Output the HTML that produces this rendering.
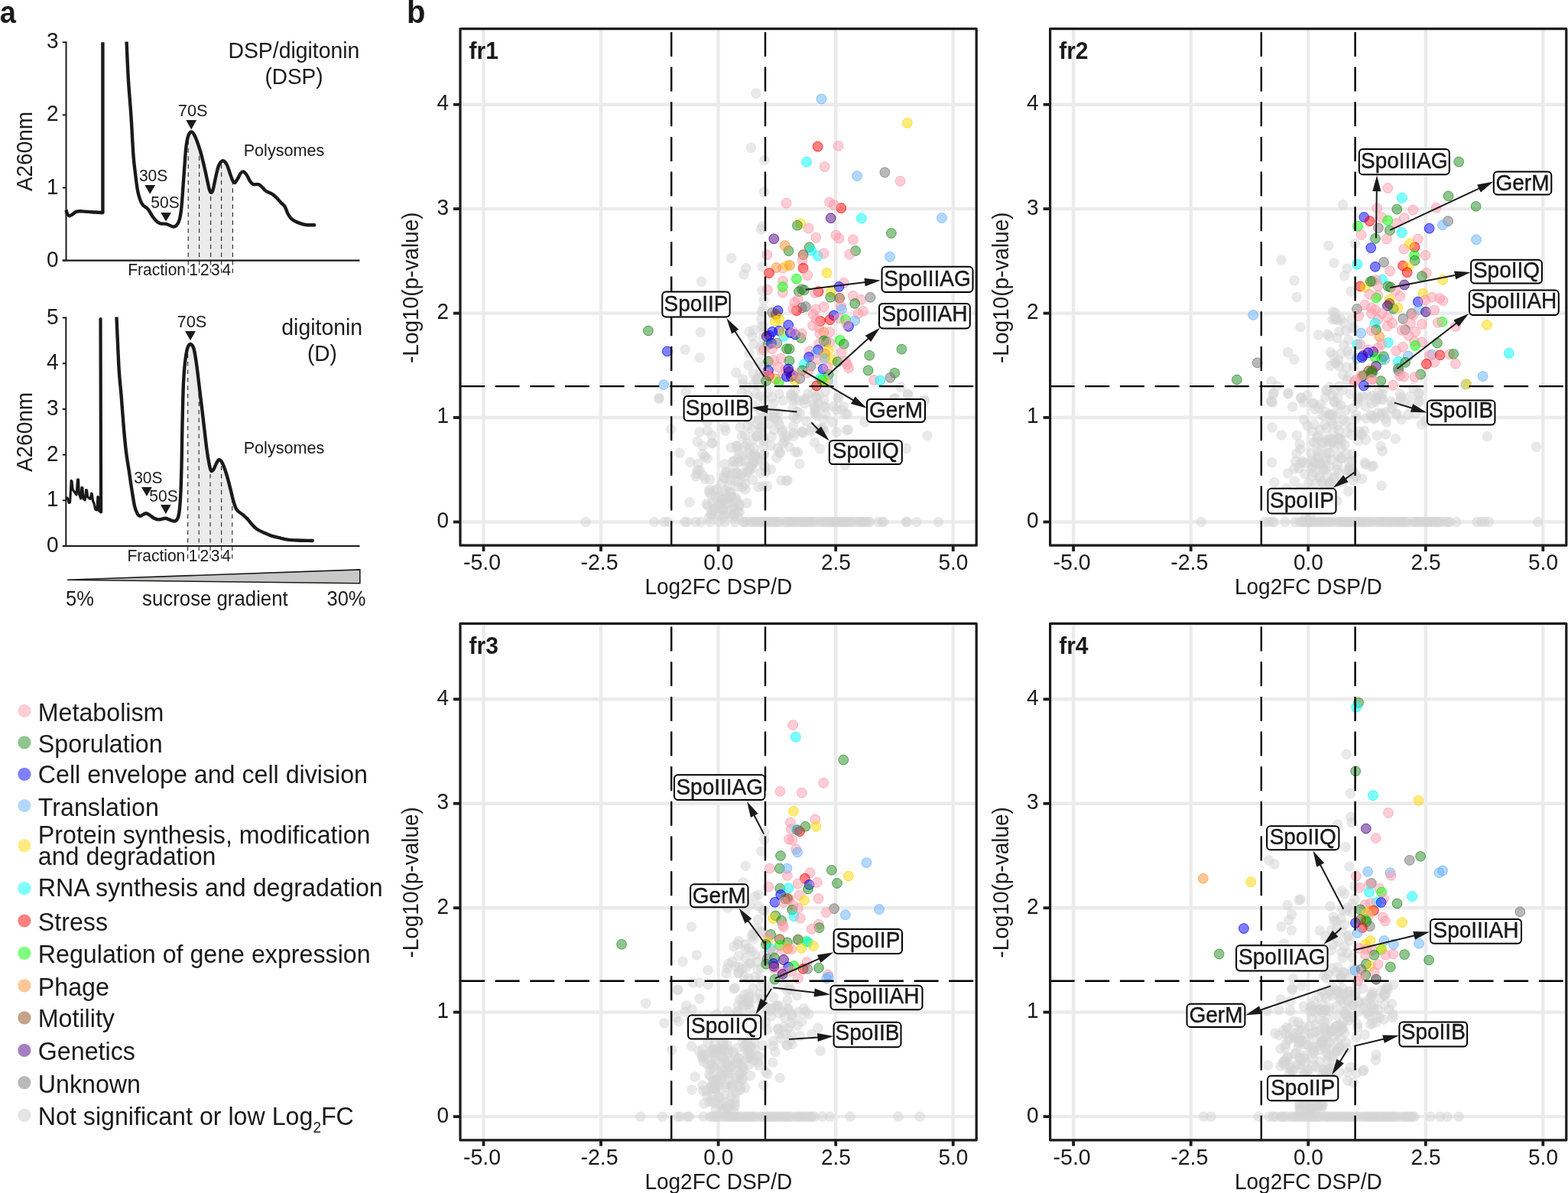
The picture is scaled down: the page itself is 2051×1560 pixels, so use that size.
<!DOCTYPE html>
<html lang="en"><head><meta charset="utf-8"><title>Figure</title>
<style>
html,body{margin:0;padding:0;background:#fff}
svg{display:block}
text{font-family:"Liberation Sans",Arial,Helvetica,sans-serif;fill:#1a1a1a}
circle{stroke-width:1px;fill-opacity:.5;stroke-opacity:.7}
circle.N{stroke-opacity:.3}
circle.P{fill:#ff9bab;stroke:#ff9bab}
circle.S{fill:#228b22;stroke:#228b22}
circle.B{fill:#0000ff;stroke:#0000ff}
circle.T{fill:#66b2ff;stroke:#66b2ff}
circle.G{fill:#ffd700;stroke:#ffd700}
circle.C{fill:#00ffff;stroke:#00ffff}
circle.R{fill:#ff0000;stroke:#ff0000}
circle.g{fill:#00ff00;stroke:#00ff00}
circle.O{fill:#ff9030;stroke:#ff9030}
circle.M{fill:#8b4513;stroke:#8b4513}
circle.V{fill:#4b0082;stroke:#4b0082}
circle.U{fill:#737373;stroke:#737373}
circle.N{fill:#d3d3d3;stroke:#d3d3d3}
circle.lg{stroke:none;fill-opacity:1}
</style></head>
<body>
<svg width="2051" height="1560" viewBox="0 0 2051 1560">
<rect width="2051" height="1560" fill="#fff"/>
<g id="panel-a">
<text transform="translate(-0.3,29.6) scale(1,1.050)" font-size="38" font-weight="bold">a</text>
<text transform="translate(532.0,29.6) scale(1,1.050)" font-size="40" font-weight="bold">b</text>
<path d="M246.2,340.6 L246.2,178.1 L250.0,172.5 L254.5,177.0 L261.2,195.0 L266.2,213.8 L271.2,236.2 L274.0,248.2 L276.0,251.9 L278.8,247.5 L282.5,230.0 L286.2,216.2 L291.5,210.3 L296.8,215.5 L301.8,229.5 L304.4,236.2 L304.4,340.6 Z" fill="#ebebeb"/>
<line x1="246.2" x2="246.2" y1="356.9" y2="178.1" stroke="#2a2a2a" stroke-width="1.15" stroke-dasharray="5.6 4.9"/>
<line x1="260.6" x2="260.6" y1="356.9" y2="193.3" stroke="#2a2a2a" stroke-width="1.15" stroke-dasharray="5.6 4.9"/>
<line x1="275.6" x2="275.6" y1="356.9" y2="251.2" stroke="#2a2a2a" stroke-width="1.15" stroke-dasharray="5.6 4.9"/>
<line x1="289.6" x2="289.6" y1="356.9" y2="212.5" stroke="#2a2a2a" stroke-width="1.15" stroke-dasharray="5.6 4.9"/>
<line x1="304.4" x2="304.4" y1="356.9" y2="236.2" stroke="#2a2a2a" stroke-width="1.15" stroke-dasharray="5.6 4.9"/>
<path d="M86.5,54.3 V340.6" stroke="#1a1a1a" stroke-width="2" fill="none"/>
<path d="M81.8,340.6 H470.5" stroke="#1a1a1a" stroke-width="2.2" fill="none"/>
<clipPath id="cp55"><rect x="80" y="54.4" width="400" height="400"/></clipPath>
<path d="M86.5,274.5C86.8,275.3 87.3,278.2 88.0,279.5C88.7,280.8 89.5,282.1 90.6,282.3C91.7,282.5 92.9,281.4 94.5,280.5C96.1,279.6 97.8,277.3 100.0,276.6C102.2,275.9 104.7,276.3 108.0,276.4C111.3,276.5 116.3,277.0 120.0,277.2C123.7,277.4 127.7,277.7 130.0,277.8C132.3,277.9 133.3,278.0 134.0,278.0 L134.4,278.0 L134.4,55.3" stroke="#1a1a1a" stroke-width="4.4" fill="none" stroke-linejoin="round" stroke-linecap="butt" clip-path="url(#cp55)"/>
<path d="M165.3,49.3C165.3,50.3 165.2,46.4 165.6,55.3C166.0,64.2 166.8,86.3 167.8,102.5C168.7,118.7 170.4,135.8 171.5,152.5C172.6,169.2 173.5,190.2 174.4,202.5C175.3,214.8 176.0,218.3 176.9,226.0C177.8,233.7 178.9,242.7 180.0,248.8C181.1,254.8 182.5,259.2 183.8,262.5C185.0,265.8 185.8,266.9 187.5,268.8C189.2,270.6 191.7,271.2 193.8,273.8C195.8,276.2 197.9,280.9 200.0,283.8C202.1,286.6 204.4,289.1 206.2,290.6C208.1,292.1 209.4,292.1 211.2,292.5C213.1,292.9 215.6,292.3 217.5,292.8C219.4,293.2 220.9,294.4 222.5,295.0C224.1,295.6 225.4,296.6 226.9,296.5C228.4,296.4 229.9,296.1 231.2,294.4C232.6,292.7 234.0,290.3 235.0,286.2C236.0,282.2 236.8,276.9 237.5,270.0C238.2,263.1 238.8,253.3 239.4,245.0C240.0,236.7 240.6,228.3 241.2,220.0C241.9,211.7 242.3,201.9 243.1,195.0C243.9,188.1 244.8,182.2 246.0,178.5C247.2,174.8 248.6,172.8 250.0,172.5C251.4,172.2 252.6,173.2 254.5,177.0C256.4,180.8 259.3,188.9 261.2,195.0C263.2,201.1 264.6,206.9 266.2,213.8C267.9,220.6 270.0,230.5 271.2,236.2C272.5,242.0 273.2,245.6 274.0,248.2C274.8,250.8 275.2,252.0 276.0,251.9C276.8,251.8 277.7,251.2 278.8,247.5C279.8,243.8 281.2,235.2 282.5,230.0C283.8,224.8 284.8,219.5 286.2,216.2C287.8,213.0 289.8,210.4 291.5,210.3C293.2,210.2 295.0,212.3 296.8,215.5C298.5,218.7 300.4,225.9 301.8,229.5C303.1,233.1 303.9,235.7 304.8,237.2C305.7,238.7 306.2,239.4 307.3,238.8C308.4,238.1 310.1,235.0 311.3,233.0C312.5,231.0 313.4,228.4 314.5,227.0C315.6,225.6 316.7,224.2 318.0,224.4C319.3,224.7 320.9,226.3 322.5,228.5C324.1,230.7 326.0,235.4 327.5,237.5C329.0,239.6 329.5,240.4 331.2,241.0C333.0,241.6 336.2,240.7 338.1,241.2C340.0,241.8 340.8,242.9 342.5,244.4C344.2,245.9 345.8,248.4 348.1,250.0C350.4,251.6 353.9,252.2 356.2,253.8C358.6,255.3 360.6,257.5 362.5,259.4C364.4,261.3 365.8,263.2 367.5,265.0C369.2,266.8 371.0,267.7 372.5,270.0C374.0,272.3 374.8,276.0 376.2,278.8C377.7,281.5 379.2,284.3 381.2,286.2C383.3,288.2 385.6,289.3 388.8,290.6C391.9,291.9 396.2,293.4 400.0,294.0C403.8,294.6 409.4,294.2 411.2,294.2" stroke="#1a1a1a" stroke-width="4.4" fill="none" stroke-linejoin="round" stroke-linecap="round" clip-path="url(#cp55)"/>
<line x1="81.8" x2="86.5" y1="55.3" y2="55.3" stroke="#1a1a1a" stroke-width="2"/>
<text transform="translate(76.6,63.3) scale(1,1.050)" font-size="28" text-anchor="end">3</text>
<line x1="81.8" x2="86.5" y1="150.4" y2="150.4" stroke="#1a1a1a" stroke-width="2"/>
<text transform="translate(76.6,158.4) scale(1,1.050)" font-size="28" text-anchor="end">2</text>
<line x1="81.8" x2="86.5" y1="245.5" y2="245.5" stroke="#1a1a1a" stroke-width="2"/>
<text transform="translate(76.6,253.5) scale(1,1.050)" font-size="28" text-anchor="end">1</text>
<line x1="81.8" x2="86.5" y1="340.6" y2="340.6" stroke="#1a1a1a" stroke-width="2"/>
<text transform="translate(76.6,348.6) scale(1,1.050)" font-size="28" text-anchor="end">0</text>
<text transform="translate(41.6,198.0) rotate(-90) scale(1,1.050)" font-size="28" text-anchor="middle">A260nm</text>
<text transform="translate(384.4,76.2) scale(1,1.050)" font-size="28.4" text-anchor="middle">DSP/digitonin</text>
<text transform="translate(384.5,110.0) scale(1,1.050)" font-size="28" text-anchor="middle">(DSP)</text>
<text transform="translate(371.5,203.8) scale(1,1.050)" font-size="21.6" text-anchor="middle">Polysomes</text>
<text transform="translate(252.2,151.9) scale(1,1.050)" font-size="21.8" text-anchor="middle">70S</text>
<path d="M243.3,157.1 L257.1,157.1 L250.2,169.4 Z" fill="#1a1a1a"/>
<text transform="translate(200.6,236.8) scale(1,1.050)" font-size="21" text-anchor="middle">30S</text>
<path d="M189.3,242.1 L203.1,242.1 L196.2,253.8 Z" fill="#1a1a1a"/>
<text transform="translate(216.0,272.3) scale(1,1.050)" font-size="21" text-anchor="middle">50S</text>
<path d="M210.2,277.9 L224.0,277.9 L217.1,289.4 Z" fill="#1a1a1a"/>
<text transform="translate(243.0,359.8) scale(1,1.050)" font-size="21" text-anchor="end">Fraction</text>
<text transform="translate(253.0,359.8) scale(1,1.050)" font-size="21" text-anchor="middle">1</text>
<text transform="translate(267.8,359.8) scale(1,1.050)" font-size="21" text-anchor="middle">2</text>
<text transform="translate(281.8,359.8) scale(1,1.050)" font-size="21" text-anchor="middle">3</text>
<text transform="translate(296.3,359.8) scale(1,1.050)" font-size="21" text-anchor="middle">4</text>
<path d="M245.6,714.0 L245.6,455.1 L249.0,450.0 L253.5,456.0 L256.9,475.0 L260.0,500.0 L263.8,531.2 L267.5,562.5 L270.4,587.0 L273.8,607.5 L276.2,615.6 L279.5,613.5 L283.1,605.8 L286.4,601.2 L290.6,605.0 L296.2,620.0 L301.2,638.5 L303.8,648.7 L303.8,714.0 Z" fill="#ebebeb"/>
<line x1="245.6" x2="245.6" y1="730.6" y2="455.1" stroke="#2a2a2a" stroke-width="1.15" stroke-dasharray="5.6 4.9"/>
<line x1="260.2" x2="260.2" y1="730.6" y2="502.1" stroke="#2a2a2a" stroke-width="1.15" stroke-dasharray="5.6 4.9"/>
<line x1="275.0" x2="275.0" y1="730.6" y2="611.5" stroke="#2a2a2a" stroke-width="1.15" stroke-dasharray="5.6 4.9"/>
<line x1="289.6" x2="289.6" y1="730.6" y2="604.1" stroke="#2a2a2a" stroke-width="1.15" stroke-dasharray="5.6 4.9"/>
<line x1="303.8" x2="303.8" y1="730.6" y2="648.7" stroke="#2a2a2a" stroke-width="1.15" stroke-dasharray="5.6 4.9"/>
<path d="M86.3,414.5 V714.0" stroke="#1a1a1a" stroke-width="2" fill="none"/>
<path d="M81.8,714.0 H470.5" stroke="#1a1a1a" stroke-width="2.2" fill="none"/>
<clipPath id="cp415"><rect x="80" y="414.6" width="400" height="400"/></clipPath>
<path d="M87.2,651.0 L88.1,651.0 L90.2,657.5 L91.6,657.0 L93.1,628.5 L94.0,629.0 L95.0,640.0 L97.5,643.5 L100.0,647.0 L101.5,627.0 L102.6,627.0 L103.4,646.0 L105.6,652.0 L106.9,637.5 L108.0,638.0 L108.9,652.0 L111.2,654.0 L112.7,640.5 L113.6,641.0 L114.6,650.0 L118.1,652.5 L119.6,645.0 L120.4,646.0 L121.5,655.0 L123.1,658.5 L124.6,666.0 L126.9,667.0 L127.9,649.5 L128.7,650.0 L129.6,668.0 L131.4,669.4" stroke="#1a1a1a" stroke-width="3.1" fill="none" stroke-linejoin="round" stroke-linecap="round"/>
<path d="M132.1,669.4 L131.5,417.0" stroke="#1a1a1a" stroke-width="4.2" fill="none" stroke-linecap="round"/>
<path d="M152.2,409.5C152.2,410.5 151.9,403.3 152.5,415.5C153.1,427.7 154.6,465.8 155.6,482.5C156.6,499.2 157.4,503.1 158.5,516.0C159.6,528.9 160.8,547.5 161.9,560.0C163.0,572.5 163.9,581.7 165.0,591.0C166.1,600.3 167.5,607.7 168.8,616.0C170.0,624.3 171.2,633.2 172.5,641.0C173.8,648.8 175.0,657.3 176.2,662.5C177.5,667.7 178.9,670.3 180.0,672.3C181.1,674.3 181.9,674.6 183.1,674.8C184.2,674.9 185.5,673.6 186.9,673.0C188.3,672.4 189.7,671.1 191.2,671.2C192.8,671.4 194.6,672.7 196.2,673.8C197.9,674.8 199.4,676.6 201.2,677.5C203.1,678.4 205.0,679.4 207.5,679.4C210.0,679.4 214.0,677.8 216.2,677.8C218.5,677.8 219.4,678.8 221.2,679.4C223.1,680.0 225.7,681.6 227.5,681.5C229.3,681.4 230.8,680.7 231.9,678.8C233.1,676.8 233.7,675.2 234.4,670.0C235.1,664.8 235.7,657.5 236.2,647.5C236.8,637.5 237.2,622.1 237.5,610.0C237.8,597.9 237.9,587.1 238.1,575.0C238.3,562.9 238.6,550.0 238.9,537.5C239.2,525.0 239.5,510.4 240.0,500.0C240.5,489.6 241.1,482.3 241.9,475.0C242.7,467.7 243.8,460.2 245.0,456.0C246.2,451.8 247.6,450.0 249.0,450.0C250.4,450.0 252.2,451.8 253.5,456.0C254.8,460.2 255.8,467.7 256.9,475.0C258.0,482.3 258.9,490.6 260.0,500.0C261.1,509.4 262.5,520.8 263.8,531.2C265.0,541.7 266.4,553.2 267.5,562.5C268.6,571.8 269.4,579.5 270.4,587.0C271.4,594.5 272.8,602.7 273.8,607.5C274.7,612.3 275.3,614.6 276.2,615.6C277.2,616.6 278.4,615.1 279.5,613.5C280.6,611.9 282.0,607.8 283.1,605.8C284.2,603.8 285.1,601.3 286.4,601.2C287.6,601.1 289.0,601.9 290.6,605.0C292.2,608.1 294.5,614.4 296.2,620.0C298.0,625.6 299.7,632.5 301.2,638.5C302.8,644.5 304.1,651.5 305.6,656.2C307.1,661.0 308.0,664.2 310.0,667.0C312.0,669.8 315.2,671.0 317.5,673.0C319.8,675.0 321.7,676.5 323.8,678.8C325.8,681.0 327.9,684.0 330.0,686.2C332.1,688.5 333.8,690.3 336.2,692.0C338.8,693.7 341.9,695.1 345.0,696.5C348.1,697.9 351.2,699.4 355.0,700.6C358.8,701.8 363.8,702.9 367.5,703.8C371.2,704.6 374.0,705.4 377.5,705.9C381.0,706.4 383.5,706.3 388.8,706.5C394.0,706.7 405.4,706.9 408.8,707.0" stroke="#1a1a1a" stroke-width="4.4" fill="none" stroke-linejoin="round" stroke-linecap="round" clip-path="url(#cp415)"/>
<line x1="81.8" x2="86.3" y1="415.5" y2="415.5" stroke="#1a1a1a" stroke-width="2"/>
<text transform="translate(76.6,423.5) scale(1,1.050)" font-size="28" text-anchor="end">5</text>
<line x1="81.8" x2="86.3" y1="475.2" y2="475.2" stroke="#1a1a1a" stroke-width="2"/>
<text transform="translate(76.6,483.2) scale(1,1.050)" font-size="28" text-anchor="end">4</text>
<line x1="81.8" x2="86.3" y1="534.9" y2="534.9" stroke="#1a1a1a" stroke-width="2"/>
<text transform="translate(76.6,542.9) scale(1,1.050)" font-size="28" text-anchor="end">3</text>
<line x1="81.8" x2="86.3" y1="594.6" y2="594.6" stroke="#1a1a1a" stroke-width="2"/>
<text transform="translate(76.6,602.6) scale(1,1.050)" font-size="28" text-anchor="end">2</text>
<line x1="81.8" x2="86.3" y1="654.3" y2="654.3" stroke="#1a1a1a" stroke-width="2"/>
<text transform="translate(76.6,662.3) scale(1,1.050)" font-size="28" text-anchor="end">1</text>
<line x1="81.8" x2="86.3" y1="714.0" y2="714.0" stroke="#1a1a1a" stroke-width="2"/>
<text transform="translate(76.6,722.0) scale(1,1.050)" font-size="28" text-anchor="end">0</text>
<text transform="translate(41.6,565.0) rotate(-90) scale(1,1.050)" font-size="28" text-anchor="middle">A260nm</text>
<text transform="translate(421.2,437.7) scale(1,1.050)" font-size="28.4" text-anchor="middle">digitonin</text>
<text transform="translate(421.3,471.9) scale(1,1.050)" font-size="28" text-anchor="middle">(D)</text>
<text transform="translate(371.5,592.5) scale(1,1.050)" font-size="21.6" text-anchor="middle">Polysomes</text>
<text transform="translate(251.0,427.8) scale(1,1.050)" font-size="21.8" text-anchor="middle">70S</text>
<path d="M242.1,432.9 L255.9,432.9 L249.0,445.2 Z" fill="#1a1a1a"/>
<text transform="translate(193.8,632.3) scale(1,1.050)" font-size="21" text-anchor="middle">30S</text>
<path d="M185.0,636.9 L198.8,636.9 L191.9,649.0 Z" fill="#1a1a1a"/>
<text transform="translate(214.0,656.3) scale(1,1.050)" font-size="21" text-anchor="middle">50S</text>
<path d="M210.0,660.0 L223.8,660.0 L216.9,672.1 Z" fill="#1a1a1a"/>
<text transform="translate(242.3,733.5) scale(1,1.050)" font-size="21" text-anchor="end">Fraction</text>
<text transform="translate(252.5,733.5) scale(1,1.050)" font-size="21" text-anchor="middle">1</text>
<text transform="translate(267.3,733.5) scale(1,1.050)" font-size="21" text-anchor="middle">2</text>
<text transform="translate(281.5,733.5) scale(1,1.050)" font-size="21" text-anchor="middle">3</text>
<text transform="translate(296.0,733.5) scale(1,1.050)" font-size="21" text-anchor="middle">4</text>
<path d="M88,758.3 L470.8,744.9 L470.8,762.8 Z" fill="#c8c8c6" stroke="#1a1a1a" stroke-width="1.6" stroke-linejoin="miter"/>
<text transform="translate(86.0,791.8) scale(1,1.050)" font-size="25.5">5%</text>
<text transform="translate(281.4,791.8) scale(1,1.050)" font-size="25.8" text-anchor="middle">sucrose gradient</text>
<text transform="translate(478.5,791.8) scale(1,1.050)" font-size="25.5" text-anchor="end">30%</text>
</g>
<g id="legend">
<circle class="lg" cx="31.9" cy="929.5" r="8.6" fill="#ffcdd5"/>
<text transform="translate(49.8,943.1) scale(1,1.050)" font-size="32.2" fill="#000">Metabolism</text>
<circle class="lg" cx="31.9" cy="970.9" r="8.6" fill="#90c590"/>
<text transform="translate(49.8,984.0) scale(1,1.050)" font-size="32.2" fill="#000">Sporulation</text>
<circle class="lg" cx="31.9" cy="1012.3" r="8.6" fill="#8080ff"/>
<text transform="translate(49.8,1024.1) scale(1,1.050)" font-size="32.2" fill="#000">Cell envelope and cell division</text>
<circle class="lg" cx="31.9" cy="1053.5" r="8.6" fill="#b2d8ff"/>
<text transform="translate(49.8,1066.9) scale(1,1.050)" font-size="32.2" fill="#000">Translation</text>
<circle class="lg" cx="31.9" cy="1105.6" r="8.6" fill="#ffeb80"/>
<circle class="lg" cx="31.9" cy="1161.6" r="8.6" fill="#80ffff"/>
<text transform="translate(49.8,1171.9) scale(1,1.050)" font-size="32.2" fill="#000">RNA synthesis and degradation</text>
<circle class="lg" cx="31.9" cy="1204.0" r="8.6" fill="#ff8080"/>
<text transform="translate(49.8,1216.5) scale(1,1.050)" font-size="32.2" fill="#000">Stress</text>
<circle class="lg" cx="31.9" cy="1246.3" r="8.6" fill="#80ff80"/>
<text transform="translate(49.8,1258.8) scale(1,1.050)" font-size="32.2" fill="#000">Regulation of gene expression</text>
<circle class="lg" cx="31.9" cy="1288.8" r="8.6" fill="#ffc797"/>
<text transform="translate(49.8,1301.9) scale(1,1.050)" font-size="32.2" fill="#000">Phage</text>
<circle class="lg" cx="31.9" cy="1330.9" r="8.6" fill="#c5a289"/>
<text transform="translate(49.8,1342.5) scale(1,1.050)" font-size="32.2" fill="#000">Motility</text>
<circle class="lg" cx="31.9" cy="1373.4" r="8.6" fill="#a580c1"/>
<text transform="translate(49.8,1385.6) scale(1,1.050)" font-size="32.2" fill="#000">Genetics</text>
<circle class="lg" cx="31.9" cy="1415.6" r="8.6" fill="#b9b9b9"/>
<text transform="translate(49.8,1428.5) scale(1,1.050)" font-size="32.2" fill="#000">Unknown</text>
<circle class="lg" cx="31.9" cy="1458.3" r="8.6" fill="#e5e5e5"/>
<text transform="translate(49.8,1102.8) scale(1,1.050)" font-size="32.2" fill="#000">Protein synthesis, modification</text>
<text transform="translate(49.8,1130.9) scale(1,1.050)" font-size="32.2" fill="#000">and degradation</text>
<text transform="translate(49.8,1471.3) scale(1,1.050)" font-size="32.2" fill="#000">Not significant or low Log<tspan font-size="19" dy="9">2</tspan><tspan dy="-9">FC</tspan></text>
</g>
<g id="fr1">
<line x1="632.5" x2="632.5" y1="37.7" y2="713.2" stroke="#ebebeb" stroke-width="4.4"/>
<line x1="786.0" x2="786.0" y1="37.7" y2="713.2" stroke="#ebebeb" stroke-width="4.4"/>
<line x1="939.6" x2="939.6" y1="37.7" y2="713.2" stroke="#ebebeb" stroke-width="4.4"/>
<line x1="1093.2" x2="1093.2" y1="37.7" y2="713.2" stroke="#ebebeb" stroke-width="4.4"/>
<line x1="1246.7" x2="1246.7" y1="37.7" y2="713.2" stroke="#ebebeb" stroke-width="4.4"/>
<line x1="602.0" x2="1277.2" y1="682.5" y2="682.5" stroke="#ebebeb" stroke-width="4.4"/>
<line x1="602.0" x2="1277.2" y1="546.0" y2="546.0" stroke="#ebebeb" stroke-width="4.4"/>
<line x1="602.0" x2="1277.2" y1="409.6" y2="409.6" stroke="#ebebeb" stroke-width="4.4"/>
<line x1="602.0" x2="1277.2" y1="273.1" y2="273.1" stroke="#ebebeb" stroke-width="4.4"/>
<line x1="602.0" x2="1277.2" y1="136.7" y2="136.7" stroke="#ebebeb" stroke-width="4.4"/>
<g><circle class="N" cx="981.6" cy="548.8" r="6.4"/>
<circle class="N" cx="997.7" cy="547.3" r="6.4"/>
<circle class="N" cx="996.6" cy="564.8" r="6.4"/>
<circle class="N" cx="979.0" cy="592.1" r="6.4"/>
<circle class="N" cx="964.3" cy="582.7" r="6.4"/>
<circle class="N" cx="1016.0" cy="598.4" r="6.4"/>
<circle class="N" cx="1013.5" cy="539.3" r="6.4"/>
<circle class="N" cx="1013.2" cy="547.7" r="6.4"/>
<circle class="N" cx="1013.1" cy="545.1" r="6.4"/>
<circle class="N" cx="1012.5" cy="562.0" r="6.4"/>
<circle class="N" cx="970.3" cy="570.5" r="6.4"/>
<circle class="N" cx="980.3" cy="585.9" r="6.4"/>
<circle class="N" cx="993.5" cy="535.6" r="6.4"/>
<circle class="N" cx="998.9" cy="571.9" r="6.4"/>
<circle class="N" cx="1017.7" cy="550.6" r="6.4"/>
<circle class="N" cx="1003.8" cy="540.0" r="6.4"/>
<circle class="N" cx="989.7" cy="571.0" r="6.4"/>
<circle class="N" cx="994.8" cy="560.0" r="6.4"/>
<circle class="N" cx="1008.0" cy="582.8" r="6.4"/>
<circle class="N" cx="996.8" cy="558.1" r="6.4"/>
<circle class="N" cx="1029.8" cy="571.1" r="6.4"/>
<circle class="N" cx="986.7" cy="594.0" r="6.4"/>
<circle class="N" cx="1023.9" cy="562.4" r="6.4"/>
<circle class="N" cx="976.9" cy="580.2" r="6.4"/>
<circle class="N" cx="1026.6" cy="576.5" r="6.4"/>
<circle class="N" cx="1025.6" cy="571.9" r="6.4"/>
<circle class="N" cx="986.0" cy="574.0" r="6.4"/>
<circle class="N" cx="977.8" cy="556.8" r="6.4"/>
<circle class="N" cx="1020.6" cy="592.2" r="6.4"/>
<circle class="N" cx="990.7" cy="554.6" r="6.4"/>
<circle class="N" cx="974.5" cy="632.7" r="6.4"/>
<circle class="N" cx="999.1" cy="594.1" r="6.4"/>
<circle class="N" cx="985.6" cy="603.5" r="6.4"/>
<circle class="N" cx="947.7" cy="625.4" r="6.4"/>
<circle class="N" cx="965.4" cy="604.6" r="6.4"/>
<circle class="N" cx="978.2" cy="617.1" r="6.4"/>
<circle class="N" cx="983.0" cy="613.4" r="6.4"/>
<circle class="N" cx="983.5" cy="608.4" r="6.4"/>
<circle class="N" cx="964.1" cy="617.5" r="6.4"/>
<circle class="N" cx="965.8" cy="630.0" r="6.4"/>
<circle class="N" cx="966.2" cy="593.0" r="6.4"/>
<circle class="N" cx="1000.8" cy="610.3" r="6.4"/>
<circle class="N" cx="950.5" cy="618.0" r="6.4"/>
<circle class="N" cx="984.9" cy="627.4" r="6.4"/>
<circle class="N" cx="959.8" cy="603.1" r="6.4"/>
<circle class="N" cx="962.0" cy="628.5" r="6.4"/>
<circle class="N" cx="968.4" cy="602.8" r="6.4"/>
<circle class="N" cx="965.4" cy="599.6" r="6.4"/>
<circle class="N" cx="983.1" cy="596.8" r="6.4"/>
<circle class="N" cx="998.9" cy="608.2" r="6.4"/>
<circle class="N" cx="990.5" cy="598.7" r="6.4"/>
<circle class="N" cx="958.1" cy="619.0" r="6.4"/>
<circle class="N" cx="952.5" cy="621.3" r="6.4"/>
<circle class="N" cx="994.8" cy="618.2" r="6.4"/>
<circle class="N" cx="971.0" cy="619.2" r="6.4"/>
<circle class="N" cx="988.0" cy="596.6" r="6.4"/>
<circle class="N" cx="986.0" cy="596.8" r="6.4"/>
<circle class="N" cx="980.3" cy="611.2" r="6.4"/>
<circle class="N" cx="963.3" cy="619.0" r="6.4"/>
<circle class="N" cx="985.7" cy="605.8" r="6.4"/>
<circle class="N" cx="954.7" cy="643.0" r="6.4"/>
<circle class="N" cx="934.2" cy="665.5" r="6.4"/>
<circle class="N" cx="937.3" cy="639.6" r="6.4"/>
<circle class="N" cx="940.6" cy="649.2" r="6.4"/>
<circle class="N" cx="931.5" cy="672.8" r="6.4"/>
<circle class="N" cx="927.6" cy="676.6" r="6.4"/>
<circle class="N" cx="952.7" cy="651.4" r="6.4"/>
<circle class="N" cx="930.7" cy="668.4" r="6.4"/>
<circle class="N" cx="944.3" cy="657.9" r="6.4"/>
<circle class="N" cx="946.0" cy="666.8" r="6.4"/>
<circle class="N" cx="940.7" cy="663.5" r="6.4"/>
<circle class="N" cx="955.3" cy="667.0" r="6.4"/>
<circle class="N" cx="960.1" cy="663.8" r="6.4"/>
<circle class="N" cx="927.9" cy="640.7" r="6.4"/>
<circle class="N" cx="947.6" cy="645.1" r="6.4"/>
<circle class="N" cx="929.9" cy="646.5" r="6.4"/>
<circle class="N" cx="966.2" cy="636.7" r="6.4"/>
<circle class="N" cx="948.5" cy="641.2" r="6.4"/>
<circle class="N" cx="947.5" cy="674.5" r="6.4"/>
<circle class="N" cx="966.8" cy="662.4" r="6.4"/>
<circle class="N" cx="944.3" cy="653.2" r="6.4"/>
<circle class="N" cx="956.7" cy="650.0" r="6.4"/>
<circle class="N" cx="958.4" cy="675.0" r="6.4"/>
<circle class="N" cx="925.9" cy="661.3" r="6.4"/>
<circle class="N" cx="964.8" cy="669.9" r="6.4"/>
<circle class="N" cx="967.1" cy="670.0" r="6.4"/>
<circle class="N" cx="946.5" cy="676.1" r="6.4"/>
<circle class="N" cx="964.4" cy="653.7" r="6.4"/>
<circle class="N" cx="960.8" cy="674.4" r="6.4"/>
<circle class="N" cx="953.8" cy="653.2" r="6.4"/>
<circle class="N" cx="961.9" cy="664.5" r="6.4"/>
<circle class="N" cx="967.2" cy="659.6" r="6.4"/>
<circle class="N" cx="942.9" cy="660.3" r="6.4"/>
<circle class="N" cx="953.1" cy="657.0" r="6.4"/>
<circle class="N" cx="961.4" cy="650.3" r="6.4"/>
<circle class="N" cx="915.4" cy="615.0" r="6.4"/>
<circle class="N" cx="922.2" cy="626.1" r="6.4"/>
<circle class="N" cx="931.1" cy="569.4" r="6.4"/>
<circle class="N" cx="913.4" cy="606.2" r="6.4"/>
<circle class="N" cx="931.7" cy="579.3" r="6.4"/>
<circle class="N" cx="1100.7" cy="535.6" r="6.4"/>
<circle class="N" cx="1077.2" cy="548.7" r="6.4"/>
<circle class="N" cx="1064.9" cy="528.9" r="6.4"/>
<circle class="N" cx="1060.8" cy="564.1" r="6.4"/>
<circle class="N" cx="1042.5" cy="538.2" r="6.4"/>
<circle class="N" cx="1037.7" cy="544.8" r="6.4"/>
<circle class="N" cx="1079.9" cy="532.8" r="6.4"/>
<circle class="N" cx="1074.1" cy="561.8" r="6.4"/>
<circle class="N" cx="1061.3" cy="559.9" r="6.4"/>
<circle class="N" cx="1103.5" cy="531.8" r="6.4"/>
<circle class="N" cx="1037.9" cy="570.2" r="6.4"/>
<circle class="N" cx="1049.3" cy="564.4" r="6.4"/>
<circle class="N" cx="1077.7" cy="522.5" r="6.4"/>
<circle class="N" cx="1108.6" cy="541.6" r="6.4"/>
<circle class="N" cx="1076.7" cy="560.0" r="6.4"/>
<circle class="N" cx="1065.1" cy="531.9" r="6.4"/>
<circle class="N" cx="1046.1" cy="523.6" r="6.4"/>
<circle class="N" cx="1037.2" cy="533.8" r="6.4"/>
<circle class="N" cx="1034.5" cy="515.3" r="6.4"/>
<circle class="N" cx="1065.6" cy="539.9" r="6.4"/>
<circle class="N" cx="1072.7" cy="560.2" r="6.4"/>
<circle class="N" cx="1068.2" cy="543.5" r="6.4"/>
<circle class="N" cx="1077.8" cy="563.3" r="6.4"/>
<circle class="N" cx="1037.6" cy="517.8" r="6.4"/>
<circle class="N" cx="1094.0" cy="535.6" r="6.4"/>
<circle class="N" cx="1066.3" cy="535.3" r="6.4"/>
<circle class="N" cx="1054.9" cy="521.3" r="6.4"/>
<circle class="N" cx="1050.9" cy="566.2" r="6.4"/>
<circle class="N" cx="1070.7" cy="527.6" r="6.4"/>
<circle class="N" cx="1089.3" cy="552.4" r="6.4"/>
<circle class="N" cx="971.3" cy="495.6" r="6.4"/>
<circle class="N" cx="995.7" cy="452.7" r="6.4"/>
<circle class="N" cx="996.4" cy="491.9" r="6.4"/>
<circle class="N" cx="990.9" cy="503.6" r="6.4"/>
<circle class="N" cx="989.6" cy="497.6" r="6.4"/>
<circle class="N" cx="977.5" cy="505.8" r="6.4"/>
<circle class="N" cx="971.8" cy="501.9" r="6.4"/>
<circle class="N" cx="980.1" cy="433.6" r="6.4"/>
<circle class="N" cx="993.9" cy="517.9" r="6.4"/>
<circle class="N" cx="998.9" cy="478.0" r="6.4"/>
<circle class="N" cx="992.1" cy="493.7" r="6.4"/>
<circle class="N" cx="995.1" cy="455.5" r="6.4"/>
<circle class="N" cx="998.7" cy="427.0" r="6.4"/>
<circle class="N" cx="996.3" cy="426.8" r="6.4"/>
<circle class="N" cx="988.9" cy="122.1" r="6.4"/>
<circle class="N" cx="982.4" cy="193.1" r="6.4"/>
<circle class="N" cx="999.8" cy="209.5" r="6.4"/>
<circle class="N" cx="999.2" cy="251.1" r="6.4"/>
<circle class="N" cx="997.0" cy="296.2" r="6.4"/>
<circle class="N" cx="995.5" cy="300.0" r="6.4"/>
<circle class="N" cx="956.5" cy="337.5" r="6.4"/>
<circle class="N" cx="975.9" cy="350.6" r="6.4"/>
<circle class="N" cx="972.8" cy="359.0" r="6.4"/>
<circle class="N" cx="997.1" cy="348.8" r="6.4"/>
<circle class="N" cx="917.5" cy="368.1" r="6.4"/>
<circle class="N" cx="997.1" cy="380.0" r="6.4"/>
<circle class="N" cx="999.0" cy="392.5" r="6.4"/>
<circle class="N" cx="998.4" cy="403.8" r="6.4"/>
<circle class="N" cx="996.5" cy="407.5" r="6.4"/>
<circle class="N" cx="995.9" cy="417.5" r="6.4"/>
<circle class="N" cx="916.1" cy="434.4" r="6.4"/>
<circle class="N" cx="986.1" cy="431.9" r="6.4"/>
<circle class="N" cx="984.0" cy="440.0" r="6.4"/>
<circle class="N" cx="985.9" cy="450.0" r="6.4"/>
<circle class="N" cx="999.0" cy="433.8" r="6.4"/>
<circle class="N" cx="997.8" cy="441.9" r="6.4"/>
<circle class="N" cx="896.1" cy="457.1" r="6.4"/>
<circle class="N" cx="915.2" cy="467.8" r="6.4"/>
<circle class="N" cx="980.0" cy="461.9" r="6.4"/>
<circle class="N" cx="996.5" cy="461.2" r="6.4"/>
<circle class="N" cx="979.0" cy="477.5" r="6.4"/>
<circle class="N" cx="992.1" cy="473.8" r="6.4"/>
<circle class="N" cx="962.8" cy="487.2" r="6.4"/>
<circle class="N" cx="985.2" cy="488.8" r="6.4"/>
<circle class="N" cx="989.0" cy="496.2" r="6.4"/>
<circle class="N" cx="994.0" cy="486.2" r="6.4"/>
<circle class="N" cx="897.1" cy="512.8" r="6.4"/>
<circle class="N" cx="862.1" cy="520.6" r="6.4"/>
<circle class="N" cx="970.2" cy="513.8" r="6.4"/>
<circle class="N" cx="979.0" cy="517.5" r="6.4"/>
<circle class="N" cx="989.0" cy="515.0" r="6.4"/>
<circle class="N" cx="1005.2" cy="512.5" r="6.4"/>
<circle class="N" cx="1019.0" cy="515.0" r="6.4"/>
<circle class="N" cx="986.5" cy="502.5" r="6.4"/>
<circle class="N" cx="1010.2" cy="520.0" r="6.4"/>
<circle class="N" cx="974.0" cy="522.5" r="6.4"/>
<circle class="N" cx="1039.4" cy="510.6" r="6.4"/>
<circle class="N" cx="1035.0" cy="517.5" r="6.4"/>
<circle class="N" cx="1056.9" cy="515.0" r="6.4"/>
<circle class="N" cx="1063.8" cy="513.8" r="6.4"/>
<circle class="N" cx="1071.2" cy="516.2" r="6.4"/>
<circle class="N" cx="1080.0" cy="511.9" r="6.4"/>
<circle class="N" cx="1067.5" cy="520.0" r="6.4"/>
<circle class="N" cx="1096.2" cy="520.0" r="6.4"/>
<circle class="N" cx="1178.1" cy="506.2" r="6.4"/>
<circle class="N" cx="1187.5" cy="515.0" r="6.4"/>
<circle class="N" cx="1170.0" cy="521.2" r="6.4"/>
<circle class="N" cx="1209.4" cy="523.8" r="6.4"/>
<circle class="N" cx="1040.0" cy="522.5" r="6.4"/>
<circle class="N" cx="1052.5" cy="522.5" r="6.4"/>
<circle class="N" cx="862.1" cy="521.2" r="6.4"/>
<circle class="N" cx="877.8" cy="561.5" r="6.4"/>
<circle class="N" cx="925.2" cy="551.2" r="6.4"/>
<circle class="N" cx="915.0" cy="565.0" r="6.4"/>
<circle class="N" cx="925.2" cy="563.1" r="6.4"/>
<circle class="N" cx="947.8" cy="558.8" r="6.4"/>
<circle class="N" cx="949.0" cy="563.1" r="6.4"/>
<circle class="N" cx="968.1" cy="558.8" r="6.4"/>
<circle class="N" cx="984.0" cy="561.2" r="6.4"/>
<circle class="N" cx="992.8" cy="548.8" r="6.4"/>
<circle class="N" cx="1005.2" cy="553.8" r="6.4"/>
<circle class="N" cx="1019.0" cy="555.0" r="6.4"/>
<circle class="N" cx="986.5" cy="531.2" r="6.4"/>
<circle class="N" cx="999.0" cy="522.5" r="6.4"/>
<circle class="N" cx="1011.5" cy="527.5" r="6.4"/>
<circle class="N" cx="1024.0" cy="523.8" r="6.4"/>
<circle class="N" cx="1017.8" cy="540.0" r="6.4"/>
<circle class="N" cx="1005.2" cy="543.8" r="6.4"/>
<circle class="N" cx="912.1" cy="577.5" r="6.4"/>
<circle class="N" cx="919.0" cy="583.1" r="6.4"/>
<circle class="N" cx="931.2" cy="579.6" r="6.4"/>
<circle class="N" cx="974.6" cy="569.4" r="6.4"/>
<circle class="N" cx="990.2" cy="570.0" r="6.4"/>
<circle class="N" cx="1009.0" cy="571.2" r="6.4"/>
<circle class="N" cx="1022.8" cy="565.0" r="6.4"/>
<circle class="N" cx="999.0" cy="576.2" r="6.4"/>
<circle class="N" cx="1024.0" cy="580.0" r="6.4"/>
<circle class="N" cx="955.9" cy="585.2" r="6.4"/>
<circle class="N" cx="963.4" cy="583.1" r="6.4"/>
<circle class="N" cx="964.0" cy="586.2" r="6.4"/>
<circle class="N" cx="974.6" cy="583.1" r="6.4"/>
<circle class="N" cx="986.5" cy="586.2" r="6.4"/>
<circle class="N" cx="1017.8" cy="586.2" r="6.4"/>
<circle class="N" cx="1019.6" cy="591.2" r="6.4"/>
<circle class="N" cx="999.0" cy="583.8" r="6.4"/>
<circle class="N" cx="889.0" cy="592.1" r="6.4"/>
<circle class="N" cx="919.0" cy="593.8" r="6.4"/>
<circle class="N" cx="922.1" cy="596.9" r="6.4"/>
<circle class="N" cx="925.0" cy="599.4" r="6.4"/>
<circle class="N" cx="971.5" cy="596.2" r="6.4"/>
<circle class="N" cx="959.0" cy="603.1" r="6.4"/>
<circle class="N" cx="974.0" cy="602.5" r="6.4"/>
<circle class="N" cx="992.8" cy="600.0" r="6.4"/>
<circle class="N" cx="999.0" cy="595.0" r="6.4"/>
<circle class="N" cx="986.5" cy="605.0" r="6.4"/>
<circle class="N" cx="902.8" cy="604.4" r="6.4"/>
<circle class="N" cx="947.8" cy="606.9" r="6.4"/>
<circle class="N" cx="959.0" cy="610.0" r="6.4"/>
<circle class="N" cx="976.5" cy="610.0" r="6.4"/>
<circle class="N" cx="980.2" cy="615.0" r="6.4"/>
<circle class="N" cx="1001.5" cy="617.5" r="6.4"/>
<circle class="N" cx="1008.4" cy="613.8" r="6.4"/>
<circle class="N" cx="912.1" cy="615.0" r="6.4"/>
<circle class="N" cx="911.5" cy="620.0" r="6.4"/>
<circle class="N" cx="910.2" cy="623.1" r="6.4"/>
<circle class="N" cx="919.6" cy="621.9" r="6.4"/>
<circle class="N" cx="949.0" cy="617.5" r="6.4"/>
<circle class="N" cx="946.5" cy="623.8" r="6.4"/>
<circle class="N" cx="955.2" cy="627.5" r="6.4"/>
<circle class="N" cx="968.4" cy="621.2" r="6.4"/>
<circle class="N" cx="974.0" cy="623.8" r="6.4"/>
<circle class="N" cx="928.6" cy="626.9" r="6.4"/>
<circle class="N" cx="944.0" cy="632.5" r="6.4"/>
<circle class="N" cx="954.0" cy="635.0" r="6.4"/>
<circle class="N" cx="1022.1" cy="628.1" r="6.4"/>
<circle class="N" cx="1029.0" cy="628.8" r="6.4"/>
<circle class="N" cx="992.1" cy="636.9" r="6.4"/>
<circle class="N" cx="997.8" cy="635.6" r="6.4"/>
<circle class="N" cx="1003.4" cy="635.6" r="6.4"/>
<circle class="N" cx="971.5" cy="636.9" r="6.4"/>
<circle class="N" cx="974.9" cy="640.0" r="6.4"/>
<circle class="N" cx="927.8" cy="643.8" r="6.4"/>
<circle class="N" cx="934.6" cy="641.9" r="6.4"/>
<circle class="N" cx="955.9" cy="644.4" r="6.4"/>
<circle class="N" cx="956.5" cy="648.8" r="6.4"/>
<circle class="N" cx="936.5" cy="651.2" r="6.4"/>
<circle class="N" cx="946.5" cy="652.5" r="6.4"/>
<circle class="N" cx="901.8" cy="656.6" r="6.4"/>
<circle class="N" cx="924.0" cy="658.8" r="6.4"/>
<circle class="N" cx="931.5" cy="657.5" r="6.4"/>
<circle class="N" cx="940.2" cy="660.0" r="6.4"/>
<circle class="N" cx="949.0" cy="658.8" r="6.4"/>
<circle class="N" cx="962.8" cy="656.9" r="6.4"/>
<circle class="N" cx="976.8" cy="657.9" r="6.4"/>
<circle class="N" cx="935.2" cy="665.0" r="6.4"/>
<circle class="N" cx="945.2" cy="666.2" r="6.4"/>
<circle class="N" cx="930.2" cy="672.5" r="6.4"/>
<circle class="N" cx="940.2" cy="673.8" r="6.4"/>
<circle class="N" cx="951.5" cy="671.2" r="6.4"/>
<circle class="N" cx="960.2" cy="672.5" r="6.4"/>
<circle class="N" cx="965.2" cy="676.2" r="6.4"/>
<circle class="N" cx="1036.2" cy="522.5" r="6.4"/>
<circle class="N" cx="1052.5" cy="527.5" r="6.4"/>
<circle class="N" cx="1067.5" cy="518.8" r="6.4"/>
<circle class="N" cx="1077.5" cy="531.2" r="6.4"/>
<circle class="N" cx="1090.0" cy="531.2" r="6.4"/>
<circle class="N" cx="1096.9" cy="520.6" r="6.4"/>
<circle class="N" cx="1170.6" cy="520.6" r="6.4"/>
<circle class="N" cx="1187.5" cy="516.2" r="6.4"/>
<circle class="N" cx="1209.4" cy="523.8" r="6.4"/>
<circle class="N" cx="1067.5" cy="539.4" r="6.4"/>
<circle class="N" cx="1080.0" cy="541.9" r="6.4"/>
<circle class="N" cx="1105.6" cy="541.2" r="6.4"/>
<circle class="N" cx="1046.2" cy="540.0" r="6.4"/>
<circle class="N" cx="1042.5" cy="547.5" r="6.4"/>
<circle class="N" cx="1055.0" cy="551.2" r="6.4"/>
<circle class="N" cx="1037.5" cy="557.5" r="6.4"/>
<circle class="N" cx="1048.8" cy="565.0" r="6.4"/>
<circle class="N" cx="1037.5" cy="566.2" r="6.4"/>
<circle class="N" cx="1131.0" cy="551.9" r="6.4"/>
<circle class="N" cx="1094.4" cy="565.0" r="6.4"/>
<circle class="N" cx="1107.5" cy="562.5" r="6.4"/>
<circle class="N" cx="1109.4" cy="561.9" r="6.4"/>
<circle class="N" cx="1212.9" cy="569.8" r="6.4"/>
<circle class="N" cx="1065.6" cy="578.8" r="6.4"/>
<circle class="N" cx="1072.5" cy="586.9" r="6.4"/>
<circle class="N" cx="1032.5" cy="584.4" r="6.4"/>
<circle class="N" cx="1040.6" cy="591.2" r="6.4"/>
<circle class="N" cx="1043.8" cy="591.2" r="6.4"/>
<circle class="N" cx="1185.6" cy="586.5" r="6.4"/>
<circle class="N" cx="1046.0" cy="606.6" r="6.4"/>
<circle class="N" cx="1105.6" cy="608.1" r="6.4"/>
<circle class="N" cx="1030.0" cy="628.1" r="6.4"/>
<circle class="N" cx="766.0" cy="682.5" r="6.4"/>
<circle class="N" cx="855.9" cy="682.5" r="6.4"/>
<circle class="N" cx="869.0" cy="682.5" r="6.4"/>
<circle class="N" cx="874.0" cy="682.5" r="6.4"/>
<circle class="N" cx="895.9" cy="682.5" r="6.4"/>
<circle class="N" cx="899.0" cy="682.5" r="6.4"/>
<circle class="N" cx="910.0" cy="682.5" r="6.4"/>
<circle class="N" cx="916.5" cy="682.5" r="6.4"/>
<circle class="N" cx="929.0" cy="682.5" r="6.4"/>
<circle class="N" cx="940.0" cy="682.5" r="6.4"/>
<circle class="N" cx="947.8" cy="682.5" r="6.4"/>
<circle class="N" cx="961.5" cy="682.5" r="6.4"/>
<circle class="N" cx="972.8" cy="682.5" r="6.4"/>
<circle class="N" cx="1148.8" cy="682.5" r="6.4"/>
<circle class="N" cx="1153.8" cy="682.5" r="6.4"/>
<circle class="N" cx="1156.0" cy="682.5" r="6.4"/>
<circle class="N" cx="1185.0" cy="682.5" r="6.4"/>
<circle class="N" cx="1186.5" cy="682.5" r="6.4"/>
<circle class="N" cx="1198.8" cy="682.5" r="6.4"/>
<circle class="N" cx="1227.5" cy="682.5" r="6.4"/>
<circle class="N" cx="973.6" cy="682.5" r="6.4"/>
<circle class="N" cx="976.5" cy="682.5" r="6.4"/>
<circle class="N" cx="982.3" cy="682.5" r="6.4"/>
<circle class="N" cx="984.4" cy="682.5" r="6.4"/>
<circle class="N" cx="987.3" cy="682.5" r="6.4"/>
<circle class="N" cx="990.1" cy="682.5" r="6.4"/>
<circle class="N" cx="993.0" cy="682.5" r="6.4"/>
<circle class="N" cx="995.8" cy="682.5" r="6.4"/>
<circle class="N" cx="998.6" cy="682.5" r="6.4"/>
<circle class="N" cx="1000.8" cy="682.5" r="6.4"/>
<circle class="N" cx="1003.6" cy="682.5" r="6.4"/>
<circle class="N" cx="1006.4" cy="682.5" r="6.4"/>
<circle class="N" cx="1009.3" cy="682.5" r="6.4"/>
<circle class="N" cx="1012.1" cy="682.5" r="6.4"/>
<circle class="N" cx="1015.0" cy="682.5" r="6.4"/>
<circle class="N" cx="1017.1" cy="682.5" r="6.4"/>
<circle class="N" cx="1019.9" cy="682.5" r="6.4"/>
<circle class="N" cx="1025.8" cy="682.5" r="6.4"/>
<circle class="N" cx="1028.6" cy="682.5" r="6.4"/>
<circle class="N" cx="1031.5" cy="682.5" r="6.4"/>
<circle class="N" cx="1034.3" cy="682.5" r="6.4"/>
<circle class="N" cx="1036.4" cy="682.5" r="6.4"/>
<circle class="N" cx="1039.3" cy="682.5" r="6.4"/>
<circle class="N" cx="1042.1" cy="682.5" r="6.4"/>
<circle class="N" cx="1045.0" cy="682.5" r="6.4"/>
<circle class="N" cx="1047.8" cy="682.5" r="6.4"/>
<circle class="N" cx="1050.7" cy="682.5" r="6.4"/>
<circle class="N" cx="1052.8" cy="682.5" r="6.4"/>
<circle class="N" cx="1055.6" cy="682.5" r="6.4"/>
<circle class="N" cx="1058.5" cy="682.5" r="6.4"/>
<circle class="N" cx="1061.3" cy="682.5" r="6.4"/>
<circle class="N" cx="1064.2" cy="682.5" r="6.4"/>
<circle class="N" cx="1067.0" cy="682.5" r="6.4"/>
<circle class="N" cx="1072.1" cy="682.5" r="6.4"/>
<circle class="N" cx="1075.0" cy="682.5" r="6.4"/>
<circle class="N" cx="1077.8" cy="682.5" r="6.4"/>
<circle class="N" cx="1080.7" cy="682.5" r="6.4"/>
<circle class="N" cx="1083.5" cy="682.5" r="6.4"/>
<circle class="N" cx="1086.3" cy="682.5" r="6.4"/>
<circle class="N" cx="1088.5" cy="682.5" r="6.4"/>
<circle class="N" cx="1091.3" cy="682.5" r="6.4"/>
<circle class="N" cx="1094.2" cy="682.5" r="6.4"/>
<circle class="N" cx="1097.0" cy="682.5" r="6.4"/>
<circle class="N" cx="1099.8" cy="682.5" r="6.4"/>
<circle class="N" cx="1102.7" cy="682.5" r="6.4"/>
<circle class="N" cx="1104.8" cy="682.5" r="6.4"/>
<circle class="N" cx="1107.7" cy="682.5" r="6.4"/>
<circle class="N" cx="1110.5" cy="682.5" r="6.4"/>
<circle class="N" cx="1113.3" cy="682.5" r="6.4"/>
<circle class="N" cx="1116.2" cy="682.5" r="6.4"/>
<circle class="N" cx="1121.3" cy="682.5" r="6.4"/>
<circle class="N" cx="1124.2" cy="682.5" r="6.4"/>
<circle class="N" cx="1127.0" cy="682.5" r="6.4"/>
<circle class="N" cx="1129.8" cy="682.5" r="6.4"/>
<circle class="N" cx="1132.7" cy="682.5" r="6.4"/>
<circle class="N" cx="1135.5" cy="682.5" r="6.4"/>
<circle class="N" cx="1137.6" cy="682.5" r="6.4"/></g>
<g><circle class="T" cx="1074.5" cy="129.4" r="6.4"/>
<circle class="T" cx="1121.1" cy="230.1" r="6.4"/>
<circle class="T" cx="1232.0" cy="285.0" r="6.4"/>
<circle class="G" cx="1186.8" cy="160.9" r="6.4"/>
<circle class="G" cx="1047.4" cy="292.5" r="6.4"/>
<circle class="R" cx="1069.6" cy="191.6" r="6.4"/>
<circle class="R" cx="1100.3" cy="272.1" r="6.4"/>
<circle class="P" cx="1096.6" cy="190.8" r="6.4"/>
<circle class="P" cx="1078.8" cy="218.1" r="6.4"/>
<circle class="P" cx="1177.7" cy="236.9" r="6.4"/>
<circle class="P" cx="1028.6" cy="265.7" r="6.4"/>
<circle class="P" cx="1085.0" cy="264.4" r="6.4"/>
<circle class="P" cx="1090.6" cy="267.9" r="6.4"/>
<circle class="P" cx="1057.6" cy="298.5" r="6.4"/>
<circle class="P" cx="1067.2" cy="310.8" r="6.4"/>
<circle class="P" cx="1093.4" cy="307.5" r="6.4"/>
<circle class="P" cx="1097.5" cy="311.6" r="6.4"/>
<circle class="P" cx="1115.9" cy="313.4" r="6.4"/>
<circle class="C" cx="1055.0" cy="211.8" r="6.4"/>
<circle class="C" cx="1126.9" cy="285.4" r="6.4"/>
<circle class="U" cx="1157.4" cy="225.4" r="6.4"/>
<circle class="V" cx="1086.7" cy="285.2" r="6.4"/>
<circle class="V" cx="1012.3" cy="312.3" r="6.4"/>
<circle class="S" cx="1042.9" cy="294.7" r="6.4"/>
<circle class="S" cx="1165.9" cy="305.0" r="6.4"/>
<circle class="S" cx="1058.8" cy="323.2" r="6.4"/>
<circle class="S" cx="1031.6" cy="328.0" r="6.4"/>
<circle class="S" cx="1119.1" cy="328.0" r="6.4"/>
<circle class="O" cx="1026.6" cy="321.1" r="6.4"/>
<circle class="C" cx="1061.0" cy="327.5" r="6.4"/>
<circle class="S" cx="847.9" cy="432.5" r="6.4"/>
<circle class="B" cx="872.8" cy="459.4" r="6.4"/>
<circle class="T" cx="868.1" cy="503.1" r="6.4"/>
<circle class="P" cx="1003.4" cy="333.1" r="6.4"/>
<circle class="P" cx="1024.0" cy="350.6" r="6.4"/>
<circle class="P" cx="1024.0" cy="367.5" r="6.4"/>
<circle class="P" cx="1003.8" cy="379.0" r="6.4"/>
<circle class="P" cx="1024.0" cy="382.5" r="6.4"/>
<circle class="O" cx="1015.5" cy="350.0" r="6.4"/>
<circle class="G" cx="1029.0" cy="347.5" r="6.4"/>
<circle class="R" cx="1006.0" cy="357.1" r="6.4"/>
<circle class="g" cx="1023.8" cy="375.0" r="6.4"/>
<circle class="U" cx="1010.2" cy="408.8" r="6.4"/>
<circle class="B" cx="1017.5" cy="406.2" r="6.4"/>
<circle class="M" cx="1015.0" cy="411.2" r="6.4"/>
<circle class="G" cx="1019.6" cy="417.5" r="6.4"/>
<circle class="G" cx="1014.0" cy="420.0" r="6.4"/>
<circle class="B" cx="1010.2" cy="433.8" r="6.4"/>
<circle class="B" cx="1019.0" cy="432.5" r="6.4"/>
<circle class="B" cx="1006.5" cy="438.8" r="6.4"/>
<circle class="V" cx="1002.8" cy="440.0" r="6.4"/>
<circle class="C" cx="1025.2" cy="440.0" r="6.4"/>
<circle class="G" cx="1024.0" cy="433.8" r="6.4"/>
<circle class="S" cx="1004.6" cy="450.6" r="6.4"/>
<circle class="B" cx="1009.0" cy="448.8" r="6.4"/>
<circle class="U" cx="1016.5" cy="448.8" r="6.4"/>
<circle class="P" cx="999.0" cy="457.5" r="6.4"/>
<circle class="P" cx="1010.2" cy="456.2" r="6.4"/>
<circle class="S" cx="1029.0" cy="456.2" r="6.4"/>
<circle class="S" cx="1005.0" cy="472.5" r="6.4"/>
<circle class="P" cx="1012.1" cy="471.2" r="6.4"/>
<circle class="P" cx="1021.5" cy="468.8" r="6.4"/>
<circle class="P" cx="1017.8" cy="480.0" r="6.4"/>
<circle class="B" cx="1005.0" cy="484.4" r="6.4"/>
<circle class="R" cx="1005.9" cy="491.2" r="6.4"/>
<circle class="P" cx="1002.8" cy="488.8" r="6.4"/>
<circle class="O" cx="1014.6" cy="495.6" r="6.4"/>
<circle class="S" cx="1002.1" cy="498.1" r="6.4"/>
<circle class="g" cx="1019.0" cy="499.4" r="6.4"/>
<circle class="P" cx="1024.0" cy="491.2" r="6.4"/>
<circle class="B" cx="1029.0" cy="492.5" r="6.4"/>
<circle class="P" cx="1027.8" cy="482.5" r="6.4"/>
<circle class="T" cx="1164.0" cy="335.6" r="6.4"/>
<circle class="P" cx="1111.2" cy="332.5" r="6.4"/>
<circle class="M" cx="1050.6" cy="333.1" r="6.4"/>
<circle class="P" cx="1049.4" cy="340.6" r="6.4"/>
<circle class="C" cx="1069.8" cy="334.4" r="6.4"/>
<circle class="P" cx="1077.5" cy="331.2" r="6.4"/>
<circle class="O" cx="1033.1" cy="346.9" r="6.4"/>
<circle class="R" cx="1050.6" cy="350.6" r="6.4"/>
<circle class="P" cx="1056.2" cy="360.0" r="6.4"/>
<circle class="G" cx="1081.5" cy="356.9" r="6.4"/>
<circle class="g" cx="1041.9" cy="364.6" r="6.4"/>
<circle class="P" cx="1103.8" cy="370.0" r="6.4"/>
<circle class="B" cx="1097.5" cy="375.0" r="6.4"/>
<circle class="U" cx="1048.8" cy="378.1" r="6.4"/>
<circle class="S" cx="1045.0" cy="381.2" r="6.4"/>
<circle class="S" cx="1051.9" cy="379.4" r="6.4"/>
<circle class="R" cx="1070.6" cy="381.2" r="6.4"/>
<circle class="P" cx="1066.2" cy="383.1" r="6.4"/>
<circle class="G" cx="1086.9" cy="381.9" r="6.4"/>
<circle class="S" cx="1086.2" cy="388.8" r="6.4"/>
<circle class="M" cx="1098.1" cy="389.8" r="6.4"/>
<circle class="P" cx="1115.6" cy="386.9" r="6.4"/>
<circle class="P" cx="1126.2" cy="391.9" r="6.4"/>
<circle class="U" cx="1138.4" cy="388.8" r="6.4"/>
<circle class="S" cx="1118.1" cy="396.9" r="6.4"/>
<circle class="P" cx="1043.8" cy="391.2" r="6.4"/>
<circle class="P" cx="1039.4" cy="395.6" r="6.4"/>
<circle class="U" cx="1053.8" cy="401.0" r="6.4"/>
<circle class="U" cx="1048.8" cy="402.5" r="6.4"/>
<circle class="R" cx="1041.9" cy="406.2" r="6.4"/>
<circle class="P" cx="1037.5" cy="403.8" r="6.4"/>
<circle class="P" cx="1066.9" cy="404.4" r="6.4"/>
<circle class="P" cx="1077.5" cy="401.2" r="6.4"/>
<circle class="P" cx="1100.0" cy="400.0" r="6.4"/>
<circle class="T" cx="1101.0" cy="404.4" r="6.4"/>
<circle class="P" cx="1128.8" cy="406.9" r="6.4"/>
<circle class="P" cx="1122.5" cy="410.0" r="6.4"/>
<circle class="P" cx="1063.8" cy="411.2" r="6.4"/>
<circle class="B" cx="1090.6" cy="412.5" r="6.4"/>
<circle class="R" cx="1073.1" cy="420.0" r="6.4"/>
<circle class="R" cx="1085.6" cy="418.1" r="6.4"/>
<circle class="P" cx="1067.5" cy="417.5" r="6.4"/>
<circle class="P" cx="1097.5" cy="416.2" r="6.4"/>
<circle class="g" cx="1106.0" cy="418.1" r="6.4"/>
<circle class="T" cx="1118.1" cy="419.4" r="6.4"/>
<circle class="B" cx="1110.0" cy="426.9" r="6.4"/>
<circle class="P" cx="1107.5" cy="423.8" r="6.4"/>
<circle class="P" cx="1063.1" cy="425.6" r="6.4"/>
<circle class="P" cx="1071.2" cy="428.8" r="6.4"/>
<circle class="O" cx="1077.5" cy="434.4" r="6.4"/>
<circle class="P" cx="1085.0" cy="434.4" r="6.4"/>
<circle class="P" cx="1072.5" cy="436.2" r="6.4"/>
<circle class="B" cx="1031.2" cy="425.0" r="6.4"/>
<circle class="B" cx="1033.8" cy="435.0" r="6.4"/>
<circle class="B" cx="1040.0" cy="437.5" r="6.4"/>
<circle class="P" cx="1037.5" cy="433.8" r="6.4"/>
<circle class="S" cx="1047.5" cy="441.9" r="6.4"/>
<circle class="P" cx="1048.8" cy="436.2" r="6.4"/>
<circle class="S" cx="1077.5" cy="445.6" r="6.4"/>
<circle class="S" cx="1080.6" cy="446.9" r="6.4"/>
<circle class="g" cx="1098.8" cy="445.0" r="6.4"/>
<circle class="S" cx="1103.8" cy="450.0" r="6.4"/>
<circle class="P" cx="1071.2" cy="450.0" r="6.4"/>
<circle class="P" cx="1085.0" cy="448.1" r="6.4"/>
<circle class="S" cx="1032.5" cy="456.2" r="6.4"/>
<circle class="P" cx="1059.4" cy="459.4" r="6.4"/>
<circle class="B" cx="1070.2" cy="457.5" r="6.4"/>
<circle class="T" cx="1067.5" cy="461.2" r="6.4"/>
<circle class="G" cx="1083.8" cy="457.5" r="6.4"/>
<circle class="O" cx="1078.8" cy="462.5" r="6.4"/>
<circle class="P" cx="1100.6" cy="460.6" r="6.4"/>
<circle class="B" cx="1058.1" cy="466.9" r="6.4"/>
<circle class="S" cx="1032.5" cy="471.9" r="6.4"/>
<circle class="G" cx="1079.4" cy="466.2" r="6.4"/>
<circle class="T" cx="1078.8" cy="468.8" r="6.4"/>
<circle class="G" cx="1088.8" cy="470.6" r="6.4"/>
<circle class="S" cx="1095.6" cy="473.1" r="6.4"/>
<circle class="P" cx="1068.8" cy="470.0" r="6.4"/>
<circle class="S" cx="1137.2" cy="464.8" r="6.4"/>
<circle class="S" cx="1179.4" cy="456.6" r="6.4"/>
<circle class="C" cx="1051.9" cy="476.2" r="6.4"/>
<circle class="U" cx="1060.6" cy="478.8" r="6.4"/>
<circle class="B" cx="1076.6" cy="482.5" r="6.4"/>
<circle class="P" cx="1106.2" cy="472.5" r="6.4"/>
<circle class="P" cx="1108.1" cy="476.9" r="6.4"/>
<circle class="P" cx="1110.0" cy="481.2" r="6.4"/>
<circle class="S" cx="1049.4" cy="484.4" r="6.4"/>
<circle class="S" cx="1083.8" cy="489.8" r="6.4"/>
<circle class="P" cx="1056.2" cy="487.5" r="6.4"/>
<circle class="P" cx="1082.5" cy="480.0" r="6.4"/>
<circle class="S" cx="1135.6" cy="484.4" r="6.4"/>
<circle class="S" cx="1170.2" cy="487.8" r="6.4"/>
<circle class="U" cx="1164.4" cy="493.8" r="6.4"/>
<circle class="P" cx="1143.1" cy="496.9" r="6.4"/>
<circle class="C" cx="1151.2" cy="497.5" r="6.4"/>
<circle class="B" cx="1031.2" cy="482.5" r="6.4"/>
<circle class="V" cx="1031.9" cy="486.2" r="6.4"/>
<circle class="B" cx="1035.0" cy="492.5" r="6.4"/>
<circle class="V" cx="1037.5" cy="491.2" r="6.4"/>
<circle class="G" cx="1039.4" cy="497.5" r="6.4"/>
<circle class="U" cx="1046.2" cy="495.0" r="6.4"/>
<circle class="P" cx="1042.5" cy="490.0" r="6.4"/>
<circle class="C" cx="1072.5" cy="495.0" r="6.4"/>
<circle class="T" cx="1083.1" cy="498.1" r="6.4"/>
<circle class="G" cx="1080.0" cy="498.8" r="6.4"/>
<circle class="g" cx="1075.0" cy="496.9" r="6.4"/>
<circle class="R" cx="1068.1" cy="504.4" r="6.4"/></g>
<line x1="878.2" x2="878.2" y1="713.2" y2="37.7" stroke="#000" stroke-width="2.4" stroke-dasharray="32 13.66"/>
<line x1="1001.0" x2="1001.0" y1="713.2" y2="37.7" stroke="#000" stroke-width="2.4" stroke-dasharray="32 13.66"/>
<line x1="602.0" x2="1277.2" y1="505.1" y2="505.1" stroke="#000" stroke-width="2.4" stroke-dasharray="32 13.66"/>
<line x1="1053.8" y1="378.8" x2="1132.1" y2="369.0" stroke="#1a1a1a" stroke-width="2.0"/><path d="M1151.9,366.5 L1131.7,374.6 L1130.4,363.7 Z" fill="#1a1a1a"/>
<rect x="1153.5" y="348.8" width="119.0" height="33.1" rx="4.8" fill="#fff" stroke="#000" stroke-width="2"/>
<text transform="translate(1213.0,374.4) scale(1,1.050)" font-size="28" text-anchor="middle" fill="#000" stroke="#000" stroke-width="0.35">SpoIIIAG</text>
<line x1="1083.1" y1="490.4" x2="1136.2" y2="442.2" stroke="#1a1a1a" stroke-width="2.0"/><path d="M1151.0,428.8 L1139.1,447.0 L1131.8,438.8 Z" fill="#1a1a1a"/>
<rect x="1150.0" y="396.9" width="118.8" height="32.5" rx="4.8" fill="#fff" stroke="#000" stroke-width="2"/>
<text transform="translate(1209.4,419.8) scale(1,1.050)" font-size="28" text-anchor="middle" fill="#000" stroke="#000" stroke-width="0.35">SpoIIIAH</text>
<line x1="999.6" y1="492.5" x2="961.1" y2="432.8" stroke="#1a1a1a" stroke-width="2.0"/><path d="M950.3,416.0 L966.3,430.7 L957.1,436.6 Z" fill="#1a1a1a"/>
<rect x="866.3" y="381.5" width="88.3" height="32.9" rx="4.8" fill="#fff" stroke="#000" stroke-width="2"/>
<text transform="translate(910.5,406.5) scale(1,1.050)" font-size="28" text-anchor="middle" fill="#000" stroke="#000" stroke-width="0.35">SpoIIP</text>
<line x1="1042.5" y1="538.5" x2="1003.3" y2="534.9" stroke="#1a1a1a" stroke-width="2.0"/><path d="M983.4,533.1 L1004.8,529.5 L1003.8,540.5 Z" fill="#1a1a1a"/>
<rect x="894.6" y="518.1" width="88.2" height="32.2" rx="4.8" fill="#fff" stroke="#000" stroke-width="2"/>
<text transform="translate(938.7,543.0) scale(1,1.050)" font-size="28" text-anchor="middle" fill="#000" stroke="#000" stroke-width="0.35">SpoIIB</text>
<line x1="1050.0" y1="484.4" x2="1116.6" y2="523.6" stroke="#1a1a1a" stroke-width="2.0"/><path d="M1133.8,533.8 L1112.9,527.9 L1118.5,518.4 Z" fill="#1a1a1a"/>
<rect x="1134.0" y="521.9" width="76.0" height="30.0" rx="4.8" fill="#fff" stroke="#000" stroke-width="2"/>
<text transform="translate(1172.0,546.3) scale(1,1.050)" font-size="28" text-anchor="middle" fill="#000" stroke="#000" stroke-width="0.35">GerM</text>
<line x1="1061.3" y1="552.5" x2="1070.8" y2="562.2" stroke="#1a1a1a" stroke-width="2.0"/><path d="M1084.8,576.5 L1066.2,565.3 L1074.0,557.6 Z" fill="#1a1a1a"/>
<rect x="1084.8" y="575.9" width="95.0" height="31.2" rx="4.8" fill="#fff" stroke="#000" stroke-width="2"/>
<text transform="translate(1132.3,598.5) scale(1,1.050)" font-size="28" text-anchor="middle" fill="#000" stroke="#000" stroke-width="0.35">SpoIIQ</text>
<rect x="602.0" y="37.7" width="675.2" height="675.5" fill="none" stroke="#1a1a1a" stroke-width="3.2" stroke-linejoin="round"/>
<line x1="632.5" x2="632.5" y1="713.2" y2="721.0" stroke="#1a1a1a" stroke-width="3.8"/>
<text transform="translate(630.5,745.0) scale(1,1.050)" font-size="28.5" text-anchor="middle">-5.0</text>
<line x1="786.0" x2="786.0" y1="713.2" y2="721.0" stroke="#1a1a1a" stroke-width="3.8"/>
<text transform="translate(784.0,745.0) scale(1,1.050)" font-size="28.5" text-anchor="middle">-2.5</text>
<line x1="939.6" x2="939.6" y1="713.2" y2="721.0" stroke="#1a1a1a" stroke-width="3.8"/>
<text transform="translate(939.8,745.0) scale(1,1.050)" font-size="28" text-anchor="middle">0.0</text>
<line x1="1093.2" x2="1093.2" y1="713.2" y2="721.0" stroke="#1a1a1a" stroke-width="3.8"/>
<text transform="translate(1093.4,745.0) scale(1,1.050)" font-size="28" text-anchor="middle">2.5</text>
<line x1="1246.7" x2="1246.7" y1="713.2" y2="721.0" stroke="#1a1a1a" stroke-width="3.8"/>
<text transform="translate(1246.9,745.0) scale(1,1.050)" font-size="28" text-anchor="middle">5.0</text>
<line x1="593.0" x2="602.0" y1="682.5" y2="682.5" stroke="#1a1a1a" stroke-width="3.8"/>
<text transform="translate(587.0,689.9) scale(1,1.050)" font-size="28" text-anchor="end">0</text>
<line x1="593.0" x2="602.0" y1="546.0" y2="546.0" stroke="#1a1a1a" stroke-width="3.8"/>
<text transform="translate(587.0,553.4) scale(1,1.050)" font-size="28" text-anchor="end">1</text>
<line x1="593.0" x2="602.0" y1="409.6" y2="409.6" stroke="#1a1a1a" stroke-width="3.8"/>
<text transform="translate(587.0,417.0) scale(1,1.050)" font-size="28" text-anchor="end">2</text>
<line x1="593.0" x2="602.0" y1="273.1" y2="273.1" stroke="#1a1a1a" stroke-width="3.8"/>
<text transform="translate(587.0,280.5) scale(1,1.050)" font-size="28" text-anchor="end">3</text>
<line x1="593.0" x2="602.0" y1="136.7" y2="136.7" stroke="#1a1a1a" stroke-width="3.8"/>
<text transform="translate(587.0,144.1) scale(1,1.050)" font-size="28" text-anchor="end">4</text>
<text transform="translate(939.8,776.9) scale(1,1.050)" font-size="28" text-anchor="middle">Log2FC DSP/D</text>
<text transform="translate(546.9,376.2) rotate(-90) scale(1,1.050)" font-size="28" text-anchor="middle">-Log10(p-value)</text>
<text transform="translate(613.6,76.9) scale(1,1.050)" font-size="30" font-weight="bold" fill="#000">fr1</text>
</g>
<g id="fr2">
<line x1="1404.1" x2="1404.1" y1="37.7" y2="713.2" stroke="#ebebeb" stroke-width="4.4"/>
<line x1="1557.7" x2="1557.7" y1="37.7" y2="713.2" stroke="#ebebeb" stroke-width="4.4"/>
<line x1="1711.2" x2="1711.2" y1="37.7" y2="713.2" stroke="#ebebeb" stroke-width="4.4"/>
<line x1="1864.8" x2="1864.8" y1="37.7" y2="713.2" stroke="#ebebeb" stroke-width="4.4"/>
<line x1="2018.3" x2="2018.3" y1="37.7" y2="713.2" stroke="#ebebeb" stroke-width="4.4"/>
<line x1="1373.6" x2="2048.8" y1="682.5" y2="682.5" stroke="#ebebeb" stroke-width="4.4"/>
<line x1="1373.6" x2="2048.8" y1="546.0" y2="546.0" stroke="#ebebeb" stroke-width="4.4"/>
<line x1="1373.6" x2="2048.8" y1="409.6" y2="409.6" stroke="#ebebeb" stroke-width="4.4"/>
<line x1="1373.6" x2="2048.8" y1="273.1" y2="273.1" stroke="#ebebeb" stroke-width="4.4"/>
<line x1="1373.6" x2="2048.8" y1="136.7" y2="136.7" stroke="#ebebeb" stroke-width="4.4"/>
<g><circle class="N" cx="1741.0" cy="550.1" r="6.4"/>
<circle class="N" cx="1786.9" cy="547.1" r="6.4"/>
<circle class="N" cx="1744.2" cy="565.0" r="6.4"/>
<circle class="N" cx="1774.0" cy="542.8" r="6.4"/>
<circle class="N" cx="1784.6" cy="563.3" r="6.4"/>
<circle class="N" cx="1777.0" cy="568.2" r="6.4"/>
<circle class="N" cx="1757.4" cy="548.6" r="6.4"/>
<circle class="N" cx="1775.8" cy="518.3" r="6.4"/>
<circle class="N" cx="1743.4" cy="553.9" r="6.4"/>
<circle class="N" cx="1742.0" cy="577.9" r="6.4"/>
<circle class="N" cx="1743.2" cy="517.6" r="6.4"/>
<circle class="N" cx="1762.1" cy="565.4" r="6.4"/>
<circle class="N" cx="1794.9" cy="544.5" r="6.4"/>
<circle class="N" cx="1749.2" cy="530.0" r="6.4"/>
<circle class="N" cx="1752.5" cy="573.5" r="6.4"/>
<circle class="N" cx="1752.4" cy="574.1" r="6.4"/>
<circle class="N" cx="1754.9" cy="576.2" r="6.4"/>
<circle class="N" cx="1728.1" cy="528.8" r="6.4"/>
<circle class="N" cx="1775.3" cy="527.5" r="6.4"/>
<circle class="N" cx="1778.2" cy="564.3" r="6.4"/>
<circle class="N" cx="1743.7" cy="579.2" r="6.4"/>
<circle class="N" cx="1710.1" cy="516.8" r="6.4"/>
<circle class="N" cx="1735.9" cy="576.2" r="6.4"/>
<circle class="N" cx="1724.8" cy="533.6" r="6.4"/>
<circle class="N" cx="1727.0" cy="561.8" r="6.4"/>
<circle class="N" cx="1709.9" cy="556.4" r="6.4"/>
<circle class="N" cx="1743.2" cy="541.7" r="6.4"/>
<circle class="N" cx="1740.7" cy="542.1" r="6.4"/>
<circle class="N" cx="1724.5" cy="600.2" r="6.4"/>
<circle class="N" cx="1765.9" cy="614.5" r="6.4"/>
<circle class="N" cx="1734.5" cy="598.8" r="6.4"/>
<circle class="N" cx="1753.7" cy="599.7" r="6.4"/>
<circle class="N" cx="1693.0" cy="612.6" r="6.4"/>
<circle class="N" cx="1723.5" cy="598.0" r="6.4"/>
<circle class="N" cx="1755.4" cy="630.3" r="6.4"/>
<circle class="N" cx="1722.5" cy="572.8" r="6.4"/>
<circle class="N" cx="1765.4" cy="611.4" r="6.4"/>
<circle class="N" cx="1751.2" cy="618.8" r="6.4"/>
<circle class="N" cx="1725.5" cy="622.2" r="6.4"/>
<circle class="N" cx="1739.9" cy="630.5" r="6.4"/>
<circle class="N" cx="1768.7" cy="617.7" r="6.4"/>
<circle class="N" cx="1717.4" cy="610.6" r="6.4"/>
<circle class="N" cx="1750.5" cy="574.4" r="6.4"/>
<circle class="N" cx="1727.7" cy="588.6" r="6.4"/>
<circle class="N" cx="1727.6" cy="605.0" r="6.4"/>
<circle class="N" cx="1733.7" cy="613.9" r="6.4"/>
<circle class="N" cx="1730.7" cy="632.1" r="6.4"/>
<circle class="N" cx="1736.0" cy="592.6" r="6.4"/>
<circle class="N" cx="1770.2" cy="628.1" r="6.4"/>
<circle class="N" cx="1701.2" cy="587.3" r="6.4"/>
<circle class="N" cx="1769.0" cy="614.0" r="6.4"/>
<circle class="N" cx="1765.5" cy="619.1" r="6.4"/>
<circle class="N" cx="1703.5" cy="603.2" r="6.4"/>
<circle class="N" cx="1761.4" cy="594.0" r="6.4"/>
<circle class="N" cx="1754.8" cy="585.5" r="6.4"/>
<circle class="N" cx="1764.7" cy="615.4" r="6.4"/>
<circle class="N" cx="1749.7" cy="607.7" r="6.4"/>
<circle class="N" cx="1750.1" cy="597.0" r="6.4"/>
<circle class="N" cx="1720.3" cy="604.9" r="6.4"/>
<circle class="N" cx="1730.8" cy="613.6" r="6.4"/>
<circle class="N" cx="1718.4" cy="578.3" r="6.4"/>
<circle class="N" cx="1718.5" cy="604.6" r="6.4"/>
<circle class="N" cx="1744.7" cy="625.7" r="6.4"/>
<circle class="N" cx="1729.4" cy="577.8" r="6.4"/>
<circle class="N" cx="1718.1" cy="618.0" r="6.4"/>
<circle class="N" cx="1707.0" cy="605.5" r="6.4"/>
<circle class="N" cx="1740.9" cy="573.5" r="6.4"/>
<circle class="N" cx="1739.6" cy="631.9" r="6.4"/>
<circle class="N" cx="1771.8" cy="618.5" r="6.4"/>
<circle class="N" cx="1730.0" cy="579.8" r="6.4"/>
<circle class="N" cx="1845.0" cy="531.0" r="6.4"/>
<circle class="N" cx="1812.2" cy="547.4" r="6.4"/>
<circle class="N" cx="1812.9" cy="539.0" r="6.4"/>
<circle class="N" cx="1825.9" cy="540.6" r="6.4"/>
<circle class="N" cx="1844.1" cy="518.5" r="6.4"/>
<circle class="N" cx="1807.8" cy="515.3" r="6.4"/>
<circle class="N" cx="1851.6" cy="540.2" r="6.4"/>
<circle class="N" cx="1813.4" cy="552.0" r="6.4"/>
<circle class="N" cx="1808.2" cy="540.2" r="6.4"/>
<circle class="N" cx="1796.8" cy="547.8" r="6.4"/>
<circle class="N" cx="1799.3" cy="525.7" r="6.4"/>
<circle class="N" cx="1799.6" cy="522.2" r="6.4"/>
<circle class="N" cx="1735.8" cy="511.1" r="6.4"/>
<circle class="N" cx="1746.5" cy="473.9" r="6.4"/>
<circle class="N" cx="1749.6" cy="520.3" r="6.4"/>
<circle class="N" cx="1746.8" cy="408.8" r="6.4"/>
<circle class="N" cx="1743.0" cy="417.5" r="6.4"/>
<circle class="N" cx="1747.0" cy="415.6" r="6.4"/>
<circle class="N" cx="1733.9" cy="519.5" r="6.4"/>
<circle class="N" cx="1771.5" cy="428.8" r="6.4"/>
<circle class="N" cx="1760.8" cy="432.4" r="6.4"/>
<circle class="N" cx="1750.7" cy="471.1" r="6.4"/>
<circle class="N" cx="1762.1" cy="497.2" r="6.4"/>
<circle class="N" cx="1749.9" cy="418.5" r="6.4"/>
<circle class="N" cx="1756.7" cy="267.6" r="6.4"/>
<circle class="N" cx="1772.2" cy="318.1" r="6.4"/>
<circle class="N" cx="1737.8" cy="321.1" r="6.4"/>
<circle class="N" cx="1810.0" cy="507.5" r="6.4"/>
<circle class="N" cx="1802.5" cy="513.8" r="6.4"/>
<circle class="N" cx="1831.2" cy="515.0" r="6.4"/>
<circle class="N" cx="1848.8" cy="507.5" r="6.4"/>
<circle class="N" cx="1856.2" cy="513.8" r="6.4"/>
<circle class="N" cx="1807.5" cy="521.2" r="6.4"/>
<circle class="N" cx="1832.5" cy="522.5" r="6.4"/>
<circle class="N" cx="1856.2" cy="523.8" r="6.4"/>
<circle class="N" cx="1820.0" cy="525.0" r="6.4"/>
<circle class="N" cx="1795.0" cy="517.5" r="6.4"/>
<circle class="N" cx="1675.9" cy="340.0" r="6.4"/>
<circle class="N" cx="1745.0" cy="343.8" r="6.4"/>
<circle class="N" cx="1762.1" cy="351.2" r="6.4"/>
<circle class="N" cx="1758.6" cy="360.6" r="6.4"/>
<circle class="N" cx="1693.0" cy="366.9" r="6.4"/>
<circle class="N" cx="1767.1" cy="381.2" r="6.4"/>
<circle class="N" cx="1696.1" cy="388.5" r="6.4"/>
<circle class="N" cx="1743.4" cy="407.8" r="6.4"/>
<circle class="N" cx="1746.5" cy="417.5" r="6.4"/>
<circle class="N" cx="1754.0" cy="417.5" r="6.4"/>
<circle class="N" cx="1757.8" cy="422.5" r="6.4"/>
<circle class="N" cx="1767.8" cy="417.5" r="6.4"/>
<circle class="N" cx="1768.4" cy="428.8" r="6.4"/>
<circle class="N" cx="1700.9" cy="427.8" r="6.4"/>
<circle class="N" cx="1724.4" cy="437.9" r="6.4"/>
<circle class="N" cx="1736.5" cy="437.2" r="6.4"/>
<circle class="N" cx="1739.0" cy="440.0" r="6.4"/>
<circle class="N" cx="1751.5" cy="433.8" r="6.4"/>
<circle class="N" cx="1749.0" cy="441.9" r="6.4"/>
<circle class="N" cx="1764.0" cy="444.4" r="6.4"/>
<circle class="N" cx="1757.8" cy="451.2" r="6.4"/>
<circle class="N" cx="1684.6" cy="460.6" r="6.4"/>
<circle class="N" cx="1692.8" cy="470.0" r="6.4"/>
<circle class="N" cx="1740.5" cy="460.6" r="6.4"/>
<circle class="N" cx="1744.0" cy="464.4" r="6.4"/>
<circle class="N" cx="1754.0" cy="462.5" r="6.4"/>
<circle class="N" cx="1762.8" cy="458.8" r="6.4"/>
<circle class="N" cx="1765.2" cy="463.8" r="6.4"/>
<circle class="N" cx="1740.2" cy="478.1" r="6.4"/>
<circle class="N" cx="1747.8" cy="475.0" r="6.4"/>
<circle class="N" cx="1751.5" cy="478.8" r="6.4"/>
<circle class="N" cx="1761.5" cy="480.0" r="6.4"/>
<circle class="N" cx="1770.2" cy="480.0" r="6.4"/>
<circle class="N" cx="1756.5" cy="490.0" r="6.4"/>
<circle class="N" cx="1764.0" cy="492.5" r="6.4"/>
<circle class="N" cx="1663.0" cy="498.5" r="6.4"/>
<circle class="N" cx="1670.2" cy="505.0" r="6.4"/>
<circle class="N" cx="1665.9" cy="513.8" r="6.4"/>
<circle class="N" cx="1685.0" cy="513.8" r="6.4"/>
<circle class="N" cx="1702.1" cy="520.6" r="6.4"/>
<circle class="N" cx="1662.8" cy="525.0" r="6.4"/>
<circle class="N" cx="1734.6" cy="510.0" r="6.4"/>
<circle class="N" cx="1745.2" cy="510.0" r="6.4"/>
<circle class="N" cx="1751.5" cy="505.0" r="6.4"/>
<circle class="N" cx="1756.5" cy="510.0" r="6.4"/>
<circle class="N" cx="1739.0" cy="506.2" r="6.4"/>
<circle class="N" cx="1766.5" cy="515.0" r="6.4"/>
<circle class="N" cx="1745.9" cy="525.0" r="6.4"/>
<circle class="N" cx="1717.8" cy="527.5" r="6.4"/>
<circle class="N" cx="1776.5" cy="521.2" r="6.4"/>
<circle class="N" cx="1789.0" cy="517.5" r="6.4"/>
<circle class="N" cx="1662.8" cy="525.0" r="6.4"/>
<circle class="N" cx="1664.6" cy="526.2" r="6.4"/>
<circle class="N" cx="1665.2" cy="516.2" r="6.4"/>
<circle class="N" cx="1685.0" cy="515.0" r="6.4"/>
<circle class="N" cx="1690.6" cy="531.9" r="6.4"/>
<circle class="N" cx="1701.5" cy="520.0" r="6.4"/>
<circle class="N" cx="1705.2" cy="526.2" r="6.4"/>
<circle class="N" cx="1717.8" cy="527.5" r="6.4"/>
<circle class="N" cx="1720.2" cy="535.0" r="6.4"/>
<circle class="N" cx="1745.2" cy="525.6" r="6.4"/>
<circle class="N" cx="1754.0" cy="530.0" r="6.4"/>
<circle class="N" cx="1760.2" cy="536.2" r="6.4"/>
<circle class="N" cx="1769.0" cy="533.8" r="6.4"/>
<circle class="N" cx="1734.0" cy="538.8" r="6.4"/>
<circle class="N" cx="1739.0" cy="542.5" r="6.4"/>
<circle class="N" cx="1730.2" cy="543.8" r="6.4"/>
<circle class="N" cx="1749.0" cy="542.5" r="6.4"/>
<circle class="N" cx="1776.5" cy="522.5" r="6.4"/>
<circle class="N" cx="1786.5" cy="531.2" r="6.4"/>
<circle class="N" cx="1794.0" cy="527.5" r="6.4"/>
<circle class="N" cx="1782.8" cy="518.8" r="6.4"/>
<circle class="N" cx="1792.8" cy="542.5" r="6.4"/>
<circle class="N" cx="1774.0" cy="547.5" r="6.4"/>
<circle class="N" cx="1705.6" cy="548.8" r="6.4"/>
<circle class="N" cx="1719.0" cy="555.0" r="6.4"/>
<circle class="N" cx="1732.8" cy="555.6" r="6.4"/>
<circle class="N" cx="1735.2" cy="560.0" r="6.4"/>
<circle class="N" cx="1750.2" cy="556.2" r="6.4"/>
<circle class="N" cx="1761.5" cy="552.5" r="6.4"/>
<circle class="N" cx="1767.8" cy="558.8" r="6.4"/>
<circle class="N" cx="1751.5" cy="562.5" r="6.4"/>
<circle class="N" cx="1664.0" cy="559.0" r="6.4"/>
<circle class="N" cx="1676.1" cy="569.0" r="6.4"/>
<circle class="N" cx="1696.2" cy="569.4" r="6.4"/>
<circle class="N" cx="1717.1" cy="563.8" r="6.4"/>
<circle class="N" cx="1724.0" cy="570.0" r="6.4"/>
<circle class="N" cx="1735.2" cy="573.8" r="6.4"/>
<circle class="N" cx="1744.0" cy="576.2" r="6.4"/>
<circle class="N" cx="1750.2" cy="572.5" r="6.4"/>
<circle class="N" cx="1767.8" cy="568.8" r="6.4"/>
<circle class="N" cx="1781.5" cy="568.8" r="6.4"/>
<circle class="N" cx="1786.5" cy="575.0" r="6.4"/>
<circle class="N" cx="1776.5" cy="576.2" r="6.4"/>
<circle class="N" cx="1700.0" cy="580.6" r="6.4"/>
<circle class="N" cx="1720.2" cy="580.0" r="6.4"/>
<circle class="N" cx="1739.0" cy="581.2" r="6.4"/>
<circle class="N" cx="1745.2" cy="585.0" r="6.4"/>
<circle class="N" cx="1759.0" cy="581.9" r="6.4"/>
<circle class="N" cx="1695.9" cy="592.8" r="6.4"/>
<circle class="N" cx="1715.2" cy="592.5" r="6.4"/>
<circle class="N" cx="1724.0" cy="591.2" r="6.4"/>
<circle class="N" cx="1739.0" cy="592.5" r="6.4"/>
<circle class="N" cx="1769.0" cy="593.8" r="6.4"/>
<circle class="N" cx="1734.0" cy="602.5" r="6.4"/>
<circle class="N" cx="1741.5" cy="601.2" r="6.4"/>
<circle class="N" cx="1755.2" cy="598.8" r="6.4"/>
<circle class="N" cx="1663.6" cy="604.8" r="6.4"/>
<circle class="N" cx="1694.6" cy="603.1" r="6.4"/>
<circle class="N" cx="1701.5" cy="605.6" r="6.4"/>
<circle class="N" cx="1699.0" cy="612.5" r="6.4"/>
<circle class="N" cx="1716.5" cy="602.5" r="6.4"/>
<circle class="N" cx="1716.5" cy="611.2" r="6.4"/>
<circle class="N" cx="1730.2" cy="611.2" r="6.4"/>
<circle class="N" cx="1726.5" cy="607.5" r="6.4"/>
<circle class="N" cx="1739.0" cy="610.0" r="6.4"/>
<circle class="N" cx="1764.0" cy="603.8" r="6.4"/>
<circle class="N" cx="1767.8" cy="602.5" r="6.4"/>
<circle class="N" cx="1785.2" cy="605.0" r="6.4"/>
<circle class="N" cx="1786.5" cy="607.5" r="6.4"/>
<circle class="N" cx="1794.0" cy="610.0" r="6.4"/>
<circle class="N" cx="1749.0" cy="613.8" r="6.4"/>
<circle class="N" cx="1761.5" cy="615.0" r="6.4"/>
<circle class="N" cx="1684.6" cy="618.8" r="6.4"/>
<circle class="N" cx="1706.5" cy="619.4" r="6.4"/>
<circle class="N" cx="1716.5" cy="622.5" r="6.4"/>
<circle class="N" cx="1726.5" cy="625.0" r="6.4"/>
<circle class="N" cx="1736.5" cy="621.2" r="6.4"/>
<circle class="N" cx="1745.2" cy="623.8" r="6.4"/>
<circle class="N" cx="1774.0" cy="623.8" r="6.4"/>
<circle class="N" cx="1781.5" cy="626.2" r="6.4"/>
<circle class="N" cx="1667.1" cy="630.6" r="6.4"/>
<circle class="N" cx="1693.4" cy="629.4" r="6.4"/>
<circle class="N" cx="1711.5" cy="631.2" r="6.4"/>
<circle class="N" cx="1720.2" cy="632.5" r="6.4"/>
<circle class="N" cx="1729.0" cy="630.0" r="6.4"/>
<circle class="N" cx="1739.0" cy="632.5" r="6.4"/>
<circle class="N" cx="1682.8" cy="638.8" r="6.4"/>
<circle class="N" cx="1701.5" cy="638.8" r="6.4"/>
<circle class="N" cx="1763.6" cy="642.5" r="6.4"/>
<circle class="N" cx="1749.0" cy="655.0" r="6.4"/>
<circle class="N" cx="1707.8" cy="676.2" r="6.4"/>
<circle class="N" cx="1714.0" cy="675.0" r="6.4"/>
<circle class="N" cx="1801.2" cy="520.0" r="6.4"/>
<circle class="N" cx="1808.8" cy="522.5" r="6.4"/>
<circle class="N" cx="1832.5" cy="518.8" r="6.4"/>
<circle class="N" cx="1836.2" cy="526.2" r="6.4"/>
<circle class="N" cx="1855.6" cy="515.0" r="6.4"/>
<circle class="N" cx="1855.6" cy="525.6" r="6.4"/>
<circle class="N" cx="1821.9" cy="528.8" r="6.4"/>
<circle class="N" cx="1820.0" cy="533.8" r="6.4"/>
<circle class="N" cx="1802.5" cy="540.0" r="6.4"/>
<circle class="N" cx="1806.2" cy="543.8" r="6.4"/>
<circle class="N" cx="1798.8" cy="546.2" r="6.4"/>
<circle class="N" cx="1827.5" cy="541.9" r="6.4"/>
<circle class="N" cx="1841.9" cy="542.5" r="6.4"/>
<circle class="N" cx="1833.1" cy="548.8" r="6.4"/>
<circle class="N" cx="1859.4" cy="555.0" r="6.4"/>
<circle class="N" cx="1865.0" cy="551.2" r="6.4"/>
<circle class="N" cx="1801.2" cy="569.4" r="6.4"/>
<circle class="N" cx="1812.9" cy="567.8" r="6.4"/>
<circle class="N" cx="1825.4" cy="574.0" r="6.4"/>
<circle class="N" cx="1806.2" cy="583.5" r="6.4"/>
<circle class="N" cx="1808.1" cy="590.0" r="6.4"/>
<circle class="N" cx="1945.4" cy="570.6" r="6.4"/>
<circle class="N" cx="2009.4" cy="584.4" r="6.4"/>
<circle class="N" cx="1796.2" cy="609.0" r="6.4"/>
<circle class="N" cx="1807.0" cy="635.2" r="6.4"/>
<circle class="N" cx="1571.1" cy="682.5" r="6.4"/>
<circle class="N" cx="1654.0" cy="682.5" r="6.4"/>
<circle class="N" cx="1659.0" cy="682.5" r="6.4"/>
<circle class="N" cx="1664.0" cy="682.5" r="6.4"/>
<circle class="N" cx="1666.5" cy="682.5" r="6.4"/>
<circle class="N" cx="1680.9" cy="682.5" r="6.4"/>
<circle class="N" cx="1694.0" cy="682.5" r="6.4"/>
<circle class="N" cx="1904.8" cy="682.5" r="6.4"/>
<circle class="N" cx="1931.9" cy="682.5" r="6.4"/>
<circle class="N" cx="1937.5" cy="682.5" r="6.4"/>
<circle class="N" cx="1941.9" cy="682.5" r="6.4"/>
<circle class="N" cx="1947.5" cy="682.5" r="6.4"/>
<circle class="N" cx="2011.5" cy="682.5" r="6.4"/>
<circle class="N" cx="1699.5" cy="682.5" r="6.4"/>
<circle class="N" cx="1702.4" cy="682.5" r="6.4"/>
<circle class="N" cx="1705.2" cy="682.5" r="6.4"/>
<circle class="N" cx="1708.0" cy="682.5" r="6.4"/>
<circle class="N" cx="1710.9" cy="682.5" r="6.4"/>
<circle class="N" cx="1713.7" cy="682.5" r="6.4"/>
<circle class="N" cx="1715.9" cy="682.5" r="6.4"/>
<circle class="N" cx="1718.7" cy="682.5" r="6.4"/>
<circle class="N" cx="1721.5" cy="682.5" r="6.4"/>
<circle class="N" cx="1724.4" cy="682.5" r="6.4"/>
<circle class="N" cx="1727.2" cy="682.5" r="6.4"/>
<circle class="N" cx="1729.3" cy="682.5" r="6.4"/>
<circle class="N" cx="1732.2" cy="682.5" r="6.4"/>
<circle class="N" cx="1735.0" cy="682.5" r="6.4"/>
<circle class="N" cx="1737.9" cy="682.5" r="6.4"/>
<circle class="N" cx="1740.7" cy="682.5" r="6.4"/>
<circle class="N" cx="1743.6" cy="682.5" r="6.4"/>
<circle class="N" cx="1748.7" cy="682.5" r="6.4"/>
<circle class="N" cx="1751.5" cy="682.5" r="6.4"/>
<circle class="N" cx="1754.4" cy="682.5" r="6.4"/>
<circle class="N" cx="1757.2" cy="682.5" r="6.4"/>
<circle class="N" cx="1760.1" cy="682.5" r="6.4"/>
<circle class="N" cx="1762.9" cy="682.5" r="6.4"/>
<circle class="N" cx="1765.0" cy="682.5" r="6.4"/>
<circle class="N" cx="1767.9" cy="682.5" r="6.4"/>
<circle class="N" cx="1770.7" cy="682.5" r="6.4"/>
<circle class="N" cx="1773.6" cy="682.5" r="6.4"/>
<circle class="N" cx="1776.4" cy="682.5" r="6.4"/>
<circle class="N" cx="1779.2" cy="682.5" r="6.4"/>
<circle class="N" cx="1781.4" cy="682.5" r="6.4"/>
<circle class="N" cx="1784.2" cy="682.5" r="6.4"/>
<circle class="N" cx="1787.1" cy="682.5" r="6.4"/>
<circle class="N" cx="1789.9" cy="682.5" r="6.4"/>
<circle class="N" cx="1792.7" cy="682.5" r="6.4"/>
<circle class="N" cx="1795.6" cy="682.5" r="6.4"/>
<circle class="N" cx="1800.7" cy="682.5" r="6.4"/>
<circle class="N" cx="1803.6" cy="682.5" r="6.4"/>
<circle class="N" cx="1806.4" cy="682.5" r="6.4"/>
<circle class="N" cx="1809.2" cy="682.5" r="6.4"/>
<circle class="N" cx="1812.1" cy="682.5" r="6.4"/>
<circle class="N" cx="1814.9" cy="682.5" r="6.4"/>
<circle class="N" cx="1817.1" cy="682.5" r="6.4"/>
<circle class="N" cx="1819.9" cy="682.5" r="6.4"/>
<circle class="N" cx="1822.7" cy="682.5" r="6.4"/>
<circle class="N" cx="1825.6" cy="682.5" r="6.4"/>
<circle class="N" cx="1828.4" cy="682.5" r="6.4"/>
<circle class="N" cx="1831.3" cy="682.5" r="6.4"/>
<circle class="N" cx="1833.4" cy="682.5" r="6.4"/>
<circle class="N" cx="1836.2" cy="682.5" r="6.4"/>
<circle class="N" cx="1839.1" cy="682.5" r="6.4"/>
<circle class="N" cx="1841.9" cy="682.5" r="6.4"/>
<circle class="N" cx="1847.8" cy="682.5" r="6.4"/>
<circle class="N" cx="1850.6" cy="682.5" r="6.4"/>
<circle class="N" cx="1852.7" cy="682.5" r="6.4"/>
<circle class="N" cx="1855.6" cy="682.5" r="6.4"/>
<circle class="N" cx="1858.4" cy="682.5" r="6.4"/>
<circle class="N" cx="1861.3" cy="682.5" r="6.4"/>
<circle class="N" cx="1864.1" cy="682.5" r="6.4"/>
<circle class="N" cx="1867.0" cy="682.5" r="6.4"/>
<circle class="N" cx="1869.1" cy="682.5" r="6.4"/>
<circle class="N" cx="1871.9" cy="682.5" r="6.4"/>
<circle class="N" cx="1874.8" cy="682.5" r="6.4"/>
<circle class="N" cx="1877.6" cy="682.5" r="6.4"/>
<circle class="N" cx="1880.4" cy="682.5" r="6.4"/>
<circle class="N" cx="1882.6" cy="682.5" r="6.4"/>
<circle class="N" cx="1885.4" cy="682.5" r="6.4"/>
<circle class="N" cx="1891.3" cy="682.5" r="6.4"/>
<circle class="N" cx="1894.1" cy="682.5" r="6.4"/>
<circle class="N" cx="1896.9" cy="682.5" r="6.4"/></g>
<g><circle class="S" cx="1908.2" cy="211.6" r="6.4"/>
<circle class="S" cx="1894.5" cy="256.3" r="6.4"/>
<circle class="S" cx="1930.6" cy="269.8" r="6.4"/>
<circle class="S" cx="1827.3" cy="273.6" r="6.4"/>
<circle class="S" cx="1817.9" cy="301.3" r="6.4"/>
<circle class="S" cx="1799.0" cy="311.9" r="6.4"/>
<circle class="P" cx="1815.3" cy="246.0" r="6.4"/>
<circle class="P" cx="1801.1" cy="272.3" r="6.4"/>
<circle class="P" cx="1848.2" cy="274.5" r="6.4"/>
<circle class="P" cx="1878.6" cy="271.7" r="6.4"/>
<circle class="P" cx="1807.4" cy="284.4" r="6.4"/>
<circle class="P" cx="1836.8" cy="285.0" r="6.4"/>
<circle class="P" cx="1827.1" cy="291.9" r="6.4"/>
<circle class="P" cx="1780.6" cy="306.9" r="6.4"/>
<circle class="P" cx="1814.0" cy="312.5" r="6.4"/>
<circle class="P" cx="1854.8" cy="312.5" r="6.4"/>
<circle class="P" cx="1836.4" cy="325.6" r="6.4"/>
<circle class="C" cx="1833.8" cy="258.8" r="6.4"/>
<circle class="C" cx="1833.6" cy="304.1" r="6.4"/>
<circle class="B" cx="1784.2" cy="284.0" r="6.4"/>
<circle class="B" cx="1869.6" cy="298.7" r="6.4"/>
<circle class="B" cx="1793.2" cy="324.1" r="6.4"/>
<circle class="R" cx="1791.7" cy="289.1" r="6.4"/>
<circle class="R" cx="1850.5" cy="323.2" r="6.4"/>
<circle class="g" cx="1815.3" cy="288.2" r="6.4"/>
<circle class="g" cx="1776.0" cy="295.7" r="6.4"/>
<circle class="U" cx="1894.1" cy="289.1" r="6.4"/>
<circle class="U" cx="1802.9" cy="298.1" r="6.4"/>
<circle class="T" cx="1887.0" cy="294.2" r="6.4"/>
<circle class="T" cx="1931.0" cy="313.3" r="6.4"/>
<circle class="G" cx="1843.9" cy="318.7" r="6.4"/>
<circle class="g" cx="1850.0" cy="333.8" r="6.4"/>
<circle class="S" cx="1850.6" cy="340.6" r="6.4"/>
<circle class="P" cx="1864.4" cy="333.8" r="6.4"/>
<circle class="U" cx="1810.0" cy="342.9" r="6.4"/>
<circle class="B" cx="1798.8" cy="348.8" r="6.4"/>
<circle class="R" cx="1835.0" cy="347.5" r="6.4"/>
<circle class="G" cx="1842.5" cy="348.8" r="6.4"/>
<circle class="R" cx="1840.6" cy="356.2" r="6.4"/>
<circle class="P" cx="1818.1" cy="354.4" r="6.4"/>
<circle class="P" cx="1865.6" cy="356.9" r="6.4"/>
<circle class="S" cx="1860.0" cy="361.2" r="6.4"/>
<circle class="C" cx="1808.1" cy="365.6" r="6.4"/>
<circle class="S" cx="1795.0" cy="367.5" r="6.4"/>
<circle class="P" cx="1800.0" cy="366.2" r="6.4"/>
<circle class="G" cx="1887.1" cy="366.0" r="6.4"/>
<circle class="S" cx="1815.6" cy="374.4" r="6.4"/>
<circle class="S" cx="1818.8" cy="375.6" r="6.4"/>
<circle class="V" cx="1836.9" cy="372.5" r="6.4"/>
<circle class="P" cx="1802.5" cy="373.8" r="6.4"/>
<circle class="P" cx="1825.0" cy="380.0" r="6.4"/>
<circle class="G" cx="1861.5" cy="383.8" r="6.4"/>
<circle class="P" cx="1873.1" cy="388.8" r="6.4"/>
<circle class="P" cx="1883.1" cy="390.0" r="6.4"/>
<circle class="P" cx="1887.5" cy="393.1" r="6.4"/>
<circle class="P" cx="1831.2" cy="387.5" r="6.4"/>
<circle class="P" cx="1802.5" cy="386.2" r="6.4"/>
<circle class="g" cx="1800.0" cy="389.4" r="6.4"/>
<circle class="G" cx="1817.9" cy="391.5" r="6.4"/>
<circle class="B" cx="1854.8" cy="394.6" r="6.4"/>
<circle class="P" cx="1864.4" cy="392.5" r="6.4"/>
<circle class="M" cx="1817.5" cy="396.9" r="6.4"/>
<circle class="V" cx="1815.0" cy="400.0" r="6.4"/>
<circle class="S" cx="1822.8" cy="403.8" r="6.4"/>
<circle class="G" cx="1828.5" cy="402.5" r="6.4"/>
<circle class="T" cx="1855.9" cy="405.0" r="6.4"/>
<circle class="V" cx="1865.0" cy="407.8" r="6.4"/>
<circle class="P" cx="1876.2" cy="405.6" r="6.4"/>
<circle class="U" cx="1846.2" cy="410.0" r="6.4"/>
<circle class="P" cx="1848.8" cy="411.9" r="6.4"/>
<circle class="P" cx="1798.8" cy="405.0" r="6.4"/>
<circle class="P" cx="1807.5" cy="410.0" r="6.4"/>
<circle class="P" cx="1815.0" cy="415.0" r="6.4"/>
<circle class="P" cx="1802.5" cy="417.5" r="6.4"/>
<circle class="U" cx="1835.2" cy="416.9" r="6.4"/>
<circle class="g" cx="1886.2" cy="420.9" r="6.4"/>
<circle class="P" cx="1881.0" cy="421.9" r="6.4"/>
<circle class="P" cx="1860.0" cy="423.8" r="6.4"/>
<circle class="P" cx="1845.0" cy="422.5" r="6.4"/>
<circle class="C" cx="1798.8" cy="422.5" r="6.4"/>
<circle class="S" cx="1800.0" cy="431.2" r="6.4"/>
<circle class="P" cx="1815.0" cy="426.2" r="6.4"/>
<circle class="P" cx="1821.2" cy="422.5" r="6.4"/>
<circle class="U" cx="1838.1" cy="431.2" r="6.4"/>
<circle class="P" cx="1833.8" cy="431.9" r="6.4"/>
<circle class="P" cx="1851.2" cy="433.8" r="6.4"/>
<circle class="P" cx="1842.5" cy="438.8" r="6.4"/>
<circle class="P" cx="1904.0" cy="426.9" r="6.4"/>
<circle class="G" cx="1945.0" cy="424.8" r="6.4"/>
<circle class="O" cx="1804.4" cy="440.2" r="6.4"/>
<circle class="C" cx="1815.6" cy="448.1" r="6.4"/>
<circle class="P" cx="1807.5" cy="450.0" r="6.4"/>
<circle class="P" cx="1850.0" cy="446.2" r="6.4"/>
<circle class="P" cx="1860.0" cy="447.5" r="6.4"/>
<circle class="g" cx="1851.2" cy="451.9" r="6.4"/>
<circle class="S" cx="1880.0" cy="448.5" r="6.4"/>
<circle class="P" cx="1835.0" cy="453.8" r="6.4"/>
<circle class="P" cx="1826.2" cy="458.8" r="6.4"/>
<circle class="P" cx="1802.5" cy="455.0" r="6.4"/>
<circle class="T" cx="1841.9" cy="465.6" r="6.4"/>
<circle class="T" cx="1873.1" cy="463.8" r="6.4"/>
<circle class="R" cx="1883.5" cy="464.4" r="6.4"/>
<circle class="P" cx="1870.0" cy="465.0" r="6.4"/>
<circle class="P" cx="1896.2" cy="463.1" r="6.4"/>
<circle class="S" cx="1901.2" cy="462.9" r="6.4"/>
<circle class="C" cx="1829.0" cy="472.5" r="6.4"/>
<circle class="S" cx="1838.1" cy="473.8" r="6.4"/>
<circle class="P" cx="1876.2" cy="473.8" r="6.4"/>
<circle class="R" cx="1865.9" cy="475.9" r="6.4"/>
<circle class="P" cx="1903.8" cy="475.6" r="6.4"/>
<circle class="C" cx="1973.8" cy="461.9" r="6.4"/>
<circle class="V" cx="1796.2" cy="460.0" r="6.4"/>
<circle class="g" cx="1798.8" cy="467.5" r="6.4"/>
<circle class="g" cx="1807.5" cy="470.0" r="6.4"/>
<circle class="S" cx="1810.0" cy="466.2" r="6.4"/>
<circle class="T" cx="1811.2" cy="470.0" r="6.4"/>
<circle class="V" cx="1800.0" cy="478.8" r="6.4"/>
<circle class="S" cx="1829.0" cy="481.9" r="6.4"/>
<circle class="U" cx="1829.4" cy="485.0" r="6.4"/>
<circle class="P" cx="1836.2" cy="492.5" r="6.4"/>
<circle class="P" cx="1831.2" cy="491.2" r="6.4"/>
<circle class="M" cx="1795.0" cy="485.0" r="6.4"/>
<circle class="S" cx="1795.0" cy="487.5" r="6.4"/>
<circle class="S" cx="1858.1" cy="489.6" r="6.4"/>
<circle class="P" cx="1850.6" cy="493.1" r="6.4"/>
<circle class="S" cx="1806.2" cy="498.1" r="6.4"/>
<circle class="P" cx="1821.9" cy="503.8" r="6.4"/>
<circle class="P" cx="1795.0" cy="496.2" r="6.4"/>
<circle class="T" cx="1939.6" cy="492.1" r="6.4"/>
<circle class="T" cx="1917.5" cy="502.5" r="6.4"/>
<circle class="G" cx="1918.5" cy="502.2" r="6.4"/>
<circle class="T" cx="1639.2" cy="411.9" r="6.4"/>
<circle class="U" cx="1644.6" cy="474.4" r="6.4"/>
<circle class="S" cx="1617.9" cy="496.5" r="6.4"/>
<circle class="C" cx="1775.2" cy="345.6" r="6.4"/>
<circle class="R" cx="1779.0" cy="374.4" r="6.4"/>
<circle class="G" cx="1785.9" cy="375.6" r="6.4"/>
<circle class="S" cx="1792.8" cy="368.1" r="6.4"/>
<circle class="P" cx="1791.5" cy="385.0" r="6.4"/>
<circle class="U" cx="1775.0" cy="404.0" r="6.4"/>
<circle class="P" cx="1785.2" cy="398.8" r="6.4"/>
<circle class="P" cx="1794.0" cy="402.5" r="6.4"/>
<circle class="P" cx="1777.1" cy="413.1" r="6.4"/>
<circle class="P" cx="1794.0" cy="410.0" r="6.4"/>
<circle class="T" cx="1780.2" cy="435.6" r="6.4"/>
<circle class="P" cx="1794.0" cy="432.5" r="6.4"/>
<circle class="C" cx="1775.2" cy="450.6" r="6.4"/>
<circle class="P" cx="1779.0" cy="450.0" r="6.4"/>
<circle class="P" cx="1789.0" cy="457.5" r="6.4"/>
<circle class="B" cx="1789.6" cy="461.2" r="6.4"/>
<circle class="V" cx="1782.8" cy="465.0" r="6.4"/>
<circle class="T" cx="1775.2" cy="468.8" r="6.4"/>
<circle class="B" cx="1781.5" cy="467.5" r="6.4"/>
<circle class="M" cx="1790.2" cy="485.0" r="6.4"/>
<circle class="S" cx="1794.0" cy="486.2" r="6.4"/>
<circle class="M" cx="1782.1" cy="491.9" r="6.4"/>
<circle class="S" cx="1784.0" cy="491.2" r="6.4"/>
<circle class="P" cx="1772.8" cy="497.5" r="6.4"/>
<circle class="P" cx="1780.2" cy="491.2" r="6.4"/>
<circle class="P" cx="1794.0" cy="496.2" r="6.4"/>
<circle class="B" cx="1783.8" cy="504.4" r="6.4"/>
<circle class="P" cx="1771.5" cy="500.0" r="6.4"/></g>
<line x1="1649.8" x2="1649.8" y1="713.2" y2="37.7" stroke="#000" stroke-width="2.4" stroke-dasharray="32 13.66"/>
<line x1="1772.6" x2="1772.6" y1="713.2" y2="37.7" stroke="#000" stroke-width="2.4" stroke-dasharray="32 13.66"/>
<line x1="1373.6" x2="2048.8" y1="505.1" y2="505.1" stroke="#000" stroke-width="2.4" stroke-dasharray="32 13.66"/>
<line x1="1799.9" y1="311.6" x2="1800.8" y2="249.2" stroke="#1a1a1a" stroke-width="2.0"/><path d="M1801.1,229.2 L1806.3,250.3 L1795.3,250.1 Z" fill="#1a1a1a"/>
<rect x="1777.8" y="195.1" width="118.0" height="33.2" rx="4.8" fill="#fff" stroke="#000" stroke-width="2"/>
<text transform="translate(1836.8,219.8) scale(1,1.050)" font-size="28" text-anchor="middle" fill="#000" stroke="#000" stroke-width="0.35">SpoIIIAG</text>
<line x1="1818.3" y1="300.9" x2="1935.4" y2="246.1" stroke="#1a1a1a" stroke-width="2.0"/><path d="M1953.5,237.6 L1936.8,251.5 L1932.1,241.5 Z" fill="#1a1a1a"/>
<rect x="1953.8" y="224.5" width="75.5" height="30.0" rx="4.8" fill="#fff" stroke="#000" stroke-width="2"/>
<text transform="translate(1991.5,248.9) scale(1,1.050)" font-size="28" text-anchor="middle" fill="#000" stroke="#000" stroke-width="0.35">GerM</text>
<line x1="1818.1" y1="376.3" x2="1904.2" y2="359.7" stroke="#1a1a1a" stroke-width="2.0"/><path d="M1923.8,355.9 L1904.2,365.3 L1902.1,354.5 Z" fill="#1a1a1a"/>
<rect x="1924.1" y="339.8" width="92.8" height="30.8" rx="4.8" fill="#fff" stroke="#000" stroke-width="2"/>
<text transform="translate(1970.5,362.8) scale(1,1.050)" font-size="28" text-anchor="middle" fill="#000" stroke="#000" stroke-width="0.35">SpoIIQ</text>
<line x1="1827.5" y1="482.3" x2="1905.5" y2="422.2" stroke="#1a1a1a" stroke-width="2.0"/><path d="M1921.3,410.0 L1908.0,427.2 L1901.3,418.5 Z" fill="#1a1a1a"/>
<rect x="1921.9" y="379.6" width="116.9" height="32.3" rx="4.8" fill="#fff" stroke="#000" stroke-width="2"/>
<text transform="translate(1980.3,402.5) scale(1,1.050)" font-size="28" text-anchor="middle" fill="#000" stroke="#000" stroke-width="0.35">SpoIIIAH</text>
<line x1="1823.8" y1="526.6" x2="1847.5" y2="533.8" stroke="#1a1a1a" stroke-width="2.0"/><path d="M1866.6,539.6 L1844.9,538.8 L1848.1,528.2 Z" fill="#1a1a1a"/>
<rect x="1866.9" y="523.5" width="88.5" height="32.1" rx="4.8" fill="#fff" stroke="#000" stroke-width="2"/>
<text transform="translate(1911.2,546.3) scale(1,1.050)" font-size="28" text-anchor="middle" fill="#000" stroke="#000" stroke-width="0.35">SpoIIB</text>
<line x1="1771.5" y1="617.8" x2="1759.6" y2="626.4" stroke="#1a1a1a" stroke-width="2.0"/><path d="M1743.4,638.1 L1757.2,621.3 L1763.6,630.3 Z" fill="#1a1a1a"/>
<rect x="1658.4" y="638.8" width="89.1" height="32.7" rx="4.8" fill="#fff" stroke="#000" stroke-width="2"/>
<text transform="translate(1703.0,663.8) scale(1,1.050)" font-size="28" text-anchor="middle" fill="#000" stroke="#000" stroke-width="0.35">SpoIIP</text>
<rect x="1373.6" y="37.7" width="675.2" height="675.5" fill="none" stroke="#1a1a1a" stroke-width="3.2" stroke-linejoin="round"/>
<line x1="1404.1" x2="1404.1" y1="713.2" y2="721.0" stroke="#1a1a1a" stroke-width="3.8"/>
<text transform="translate(1402.1,745.0) scale(1,1.050)" font-size="28.5" text-anchor="middle">-5.0</text>
<line x1="1557.7" x2="1557.7" y1="713.2" y2="721.0" stroke="#1a1a1a" stroke-width="3.8"/>
<text transform="translate(1555.7,745.0) scale(1,1.050)" font-size="28.5" text-anchor="middle">-2.5</text>
<line x1="1711.2" x2="1711.2" y1="713.2" y2="721.0" stroke="#1a1a1a" stroke-width="3.8"/>
<text transform="translate(1711.4,745.0) scale(1,1.050)" font-size="28" text-anchor="middle">0.0</text>
<line x1="1864.8" x2="1864.8" y1="713.2" y2="721.0" stroke="#1a1a1a" stroke-width="3.8"/>
<text transform="translate(1865.0,745.0) scale(1,1.050)" font-size="28" text-anchor="middle">2.5</text>
<line x1="2018.3" x2="2018.3" y1="713.2" y2="721.0" stroke="#1a1a1a" stroke-width="3.8"/>
<text transform="translate(2018.5,745.0) scale(1,1.050)" font-size="28" text-anchor="middle">5.0</text>
<line x1="1364.6" x2="1373.6" y1="682.5" y2="682.5" stroke="#1a1a1a" stroke-width="3.8"/>
<text transform="translate(1358.6,689.9) scale(1,1.050)" font-size="28" text-anchor="end">0</text>
<line x1="1364.6" x2="1373.6" y1="546.0" y2="546.0" stroke="#1a1a1a" stroke-width="3.8"/>
<text transform="translate(1358.6,553.4) scale(1,1.050)" font-size="28" text-anchor="end">1</text>
<line x1="1364.6" x2="1373.6" y1="409.6" y2="409.6" stroke="#1a1a1a" stroke-width="3.8"/>
<text transform="translate(1358.6,417.0) scale(1,1.050)" font-size="28" text-anchor="end">2</text>
<line x1="1364.6" x2="1373.6" y1="273.1" y2="273.1" stroke="#1a1a1a" stroke-width="3.8"/>
<text transform="translate(1358.6,280.5) scale(1,1.050)" font-size="28" text-anchor="end">3</text>
<line x1="1364.6" x2="1373.6" y1="136.7" y2="136.7" stroke="#1a1a1a" stroke-width="3.8"/>
<text transform="translate(1358.6,144.1) scale(1,1.050)" font-size="28" text-anchor="end">4</text>
<text transform="translate(1711.4,776.9) scale(1,1.050)" font-size="28" text-anchor="middle">Log2FC DSP/D</text>
<text transform="translate(1318.5,376.2) rotate(-90) scale(1,1.050)" font-size="28" text-anchor="middle">-Log10(p-value)</text>
<text transform="translate(1385.2,76.9) scale(1,1.050)" font-size="30" font-weight="bold" fill="#000">fr2</text>
</g>
<g id="fr3">
<line x1="632.5" x2="632.5" y1="815.3" y2="1490.8" stroke="#ebebeb" stroke-width="4.4"/>
<line x1="786.0" x2="786.0" y1="815.3" y2="1490.8" stroke="#ebebeb" stroke-width="4.4"/>
<line x1="939.6" x2="939.6" y1="815.3" y2="1490.8" stroke="#ebebeb" stroke-width="4.4"/>
<line x1="1093.2" x2="1093.2" y1="815.3" y2="1490.8" stroke="#ebebeb" stroke-width="4.4"/>
<line x1="1246.7" x2="1246.7" y1="815.3" y2="1490.8" stroke="#ebebeb" stroke-width="4.4"/>
<line x1="602.0" x2="1277.2" y1="1460.1" y2="1460.1" stroke="#ebebeb" stroke-width="4.4"/>
<line x1="602.0" x2="1277.2" y1="1323.6" y2="1323.6" stroke="#ebebeb" stroke-width="4.4"/>
<line x1="602.0" x2="1277.2" y1="1187.2" y2="1187.2" stroke="#ebebeb" stroke-width="4.4"/>
<line x1="602.0" x2="1277.2" y1="1050.7" y2="1050.7" stroke="#ebebeb" stroke-width="4.4"/>
<line x1="602.0" x2="1277.2" y1="914.3" y2="914.3" stroke="#ebebeb" stroke-width="4.4"/>
<g><circle class="N" cx="992.3" cy="1392.9" r="6.4"/>
<circle class="N" cx="937.8" cy="1411.9" r="6.4"/>
<circle class="N" cx="934.6" cy="1382.0" r="6.4"/>
<circle class="N" cx="961.2" cy="1436.5" r="6.4"/>
<circle class="N" cx="966.7" cy="1390.1" r="6.4"/>
<circle class="N" cx="932.8" cy="1423.4" r="6.4"/>
<circle class="N" cx="956.4" cy="1394.7" r="6.4"/>
<circle class="N" cx="982.4" cy="1381.5" r="6.4"/>
<circle class="N" cx="946.2" cy="1366.7" r="6.4"/>
<circle class="N" cx="977.7" cy="1363.6" r="6.4"/>
<circle class="N" cx="918.8" cy="1383.0" r="6.4"/>
<circle class="N" cx="950.1" cy="1448.5" r="6.4"/>
<circle class="N" cx="944.2" cy="1395.9" r="6.4"/>
<circle class="N" cx="929.9" cy="1420.6" r="6.4"/>
<circle class="N" cx="946.2" cy="1399.9" r="6.4"/>
<circle class="N" cx="968.5" cy="1392.0" r="6.4"/>
<circle class="N" cx="946.1" cy="1453.2" r="6.4"/>
<circle class="N" cx="954.3" cy="1402.2" r="6.4"/>
<circle class="N" cx="929.5" cy="1374.5" r="6.4"/>
<circle class="N" cx="941.1" cy="1434.8" r="6.4"/>
<circle class="N" cx="980.8" cy="1368.8" r="6.4"/>
<circle class="N" cx="962.8" cy="1428.7" r="6.4"/>
<circle class="N" cx="944.6" cy="1444.4" r="6.4"/>
<circle class="N" cx="987.8" cy="1372.4" r="6.4"/>
<circle class="N" cx="971.9" cy="1395.1" r="6.4"/>
<circle class="N" cx="943.3" cy="1373.1" r="6.4"/>
<circle class="N" cx="919.4" cy="1372.1" r="6.4"/>
<circle class="N" cx="944.7" cy="1406.7" r="6.4"/>
<circle class="N" cx="924.9" cy="1432.7" r="6.4"/>
<circle class="N" cx="956.5" cy="1420.3" r="6.4"/>
<circle class="N" cx="959.3" cy="1454.0" r="6.4"/>
<circle class="N" cx="971.8" cy="1411.7" r="6.4"/>
<circle class="N" cx="951.7" cy="1404.6" r="6.4"/>
<circle class="N" cx="951.6" cy="1390.6" r="6.4"/>
<circle class="N" cx="936.0" cy="1386.1" r="6.4"/>
<circle class="N" cx="968.4" cy="1413.7" r="6.4"/>
<circle class="N" cx="982.8" cy="1368.8" r="6.4"/>
<circle class="N" cx="933.8" cy="1376.9" r="6.4"/>
<circle class="N" cx="966.6" cy="1403.7" r="6.4"/>
<circle class="N" cx="933.4" cy="1395.0" r="6.4"/>
<circle class="N" cx="979.5" cy="1392.5" r="6.4"/>
<circle class="N" cx="965.6" cy="1383.4" r="6.4"/>
<circle class="N" cx="944.6" cy="1381.8" r="6.4"/>
<circle class="N" cx="934.5" cy="1366.4" r="6.4"/>
<circle class="N" cx="930.8" cy="1438.9" r="6.4"/>
<circle class="N" cx="948.0" cy="1388.8" r="6.4"/>
<circle class="N" cx="930.6" cy="1391.8" r="6.4"/>
<circle class="N" cx="934.7" cy="1418.8" r="6.4"/>
<circle class="N" cx="961.1" cy="1382.1" r="6.4"/>
<circle class="N" cx="949.3" cy="1417.7" r="6.4"/>
<circle class="N" cx="932.9" cy="1372.1" r="6.4"/>
<circle class="N" cx="931.1" cy="1421.8" r="6.4"/>
<circle class="N" cx="968.9" cy="1422.5" r="6.4"/>
<circle class="N" cx="993.2" cy="1381.6" r="6.4"/>
<circle class="N" cx="924.0" cy="1426.5" r="6.4"/>
<circle class="N" cx="970.8" cy="1401.9" r="6.4"/>
<circle class="N" cx="937.6" cy="1410.8" r="6.4"/>
<circle class="N" cx="975.5" cy="1373.6" r="6.4"/>
<circle class="N" cx="926.2" cy="1392.2" r="6.4"/>
<circle class="N" cx="941.3" cy="1372.3" r="6.4"/>
<circle class="N" cx="937.6" cy="1419.0" r="6.4"/>
<circle class="N" cx="941.6" cy="1370.8" r="6.4"/>
<circle class="N" cx="920.0" cy="1388.1" r="6.4"/>
<circle class="N" cx="980.8" cy="1378.6" r="6.4"/>
<circle class="N" cx="978.5" cy="1372.2" r="6.4"/>
<circle class="N" cx="958.0" cy="1417.9" r="6.4"/>
<circle class="N" cx="979.0" cy="1383.2" r="6.4"/>
<circle class="N" cx="961.2" cy="1446.3" r="6.4"/>
<circle class="N" cx="927.6" cy="1440.6" r="6.4"/>
<circle class="N" cx="985.5" cy="1386.3" r="6.4"/>
<circle class="N" cx="933.8" cy="1413.7" r="6.4"/>
<circle class="N" cx="935.8" cy="1424.3" r="6.4"/>
<circle class="N" cx="929.7" cy="1407.7" r="6.4"/>
<circle class="N" cx="955.3" cy="1394.4" r="6.4"/>
<circle class="N" cx="942.6" cy="1405.0" r="6.4"/>
<circle class="N" cx="945.8" cy="1362.4" r="6.4"/>
<circle class="N" cx="930.4" cy="1421.2" r="6.4"/>
<circle class="N" cx="928.8" cy="1398.0" r="6.4"/>
<circle class="N" cx="971.5" cy="1362.6" r="6.4"/>
<circle class="N" cx="922.0" cy="1381.4" r="6.4"/>
<circle class="N" cx="947.7" cy="1372.9" r="6.4"/>
<circle class="N" cx="964.0" cy="1409.4" r="6.4"/>
<circle class="N" cx="953.4" cy="1446.4" r="6.4"/>
<circle class="N" cx="947.6" cy="1385.6" r="6.4"/>
<circle class="N" cx="976.2" cy="1364.7" r="6.4"/>
<circle class="N" cx="958.8" cy="1375.8" r="6.4"/>
<circle class="N" cx="952.2" cy="1376.9" r="6.4"/>
<circle class="N" cx="936.6" cy="1373.2" r="6.4"/>
<circle class="N" cx="963.1" cy="1391.0" r="6.4"/>
<circle class="N" cx="918.1" cy="1380.0" r="6.4"/>
<circle class="N" cx="1008.8" cy="1328.7" r="6.4"/>
<circle class="N" cx="978.3" cy="1313.7" r="6.4"/>
<circle class="N" cx="1017.9" cy="1345.2" r="6.4"/>
<circle class="N" cx="976.1" cy="1310.4" r="6.4"/>
<circle class="N" cx="990.1" cy="1332.7" r="6.4"/>
<circle class="N" cx="971.8" cy="1306.9" r="6.4"/>
<circle class="N" cx="976.5" cy="1341.5" r="6.4"/>
<circle class="N" cx="972.1" cy="1330.0" r="6.4"/>
<circle class="N" cx="992.3" cy="1331.5" r="6.4"/>
<circle class="N" cx="979.3" cy="1299.2" r="6.4"/>
<circle class="N" cx="996.3" cy="1306.4" r="6.4"/>
<circle class="N" cx="1008.6" cy="1318.4" r="6.4"/>
<circle class="N" cx="993.9" cy="1299.9" r="6.4"/>
<circle class="N" cx="1018.7" cy="1324.8" r="6.4"/>
<circle class="N" cx="1001.1" cy="1336.3" r="6.4"/>
<circle class="N" cx="979.9" cy="1303.9" r="6.4"/>
<circle class="N" cx="978.3" cy="1309.9" r="6.4"/>
<circle class="N" cx="1014.5" cy="1316.2" r="6.4"/>
<circle class="N" cx="965.4" cy="1314.4" r="6.4"/>
<circle class="N" cx="1007.8" cy="1321.6" r="6.4"/>
<circle class="N" cx="998.4" cy="1312.0" r="6.4"/>
<circle class="N" cx="1011.1" cy="1361.5" r="6.4"/>
<circle class="N" cx="1019.5" cy="1352.2" r="6.4"/>
<circle class="N" cx="972.4" cy="1315.9" r="6.4"/>
<circle class="N" cx="964.5" cy="1326.5" r="6.4"/>
<circle class="N" cx="1027.8" cy="1352.1" r="6.4"/>
<circle class="N" cx="977.9" cy="1333.1" r="6.4"/>
<circle class="N" cx="981.5" cy="1319.8" r="6.4"/>
<circle class="N" cx="994.4" cy="1340.0" r="6.4"/>
<circle class="N" cx="1017.8" cy="1314.8" r="6.4"/>
<circle class="N" cx="1035.9" cy="1365.4" r="6.4"/>
<circle class="N" cx="1030.0" cy="1308.2" r="6.4"/>
<circle class="N" cx="1032.0" cy="1319.9" r="6.4"/>
<circle class="N" cx="1036.6" cy="1331.2" r="6.4"/>
<circle class="N" cx="1030.7" cy="1344.2" r="6.4"/>
<circle class="N" cx="1048.7" cy="1335.7" r="6.4"/>
<circle class="N" cx="1034.5" cy="1352.2" r="6.4"/>
<circle class="N" cx="1051.4" cy="1318.6" r="6.4"/>
<circle class="N" cx="1043.1" cy="1341.1" r="6.4"/>
<circle class="N" cx="1044.3" cy="1323.3" r="6.4"/>
<circle class="N" cx="1046.4" cy="1354.8" r="6.4"/>
<circle class="N" cx="1034.1" cy="1294.2" r="6.4"/>
<circle class="N" cx="983.9" cy="1244.1" r="6.4"/>
<circle class="N" cx="985.6" cy="1222.0" r="6.4"/>
<circle class="N" cx="995.7" cy="1266.2" r="6.4"/>
<circle class="N" cx="965.9" cy="1271.9" r="6.4"/>
<circle class="N" cx="978.7" cy="1279.2" r="6.4"/>
<circle class="N" cx="952.7" cy="1260.4" r="6.4"/>
<circle class="N" cx="981.9" cy="1259.8" r="6.4"/>
<circle class="N" cx="975.2" cy="1234.7" r="6.4"/>
<circle class="N" cx="967.0" cy="1264.1" r="6.4"/>
<circle class="N" cx="973.0" cy="1276.5" r="6.4"/>
<circle class="N" cx="998.1" cy="1190.2" r="6.4"/>
<circle class="N" cx="983.3" cy="1224.4" r="6.4"/>
<circle class="N" cx="997.9" cy="1219.6" r="6.4"/>
<circle class="N" cx="989.9" cy="1213.4" r="6.4"/>
<circle class="N" cx="999.8" cy="1088.2" r="6.4"/>
<circle class="N" cx="999.6" cy="1098.1" r="6.4"/>
<circle class="N" cx="995.6" cy="1113.1" r="6.4"/>
<circle class="N" cx="975.0" cy="1132.2" r="6.4"/>
<circle class="N" cx="971.9" cy="1153.8" r="6.4"/>
<circle class="N" cx="904.4" cy="1211.9" r="6.4"/>
<circle class="N" cx="911.2" cy="1248.8" r="6.4"/>
<circle class="N" cx="926.0" cy="1268.4" r="6.4"/>
<circle class="N" cx="951.9" cy="1186.9" r="6.4"/>
<circle class="N" cx="991.9" cy="1170.0" r="6.4"/>
<circle class="N" cx="987.5" cy="1172.5" r="6.4"/>
<circle class="N" cx="981.2" cy="1182.5" r="6.4"/>
<circle class="N" cx="992.5" cy="1185.0" r="6.4"/>
<circle class="N" cx="975.0" cy="1192.5" r="6.4"/>
<circle class="N" cx="991.9" cy="1202.5" r="6.4"/>
<circle class="N" cx="1000.0" cy="1191.2" r="6.4"/>
<circle class="N" cx="985.0" cy="1220.0" r="6.4"/>
<circle class="N" cx="995.0" cy="1217.5" r="6.4"/>
<circle class="N" cx="986.2" cy="1227.5" r="6.4"/>
<circle class="N" cx="966.0" cy="1230.6" r="6.4"/>
<circle class="N" cx="960.0" cy="1237.5" r="6.4"/>
<circle class="N" cx="965.0" cy="1235.0" r="6.4"/>
<circle class="N" cx="975.0" cy="1241.2" r="6.4"/>
<circle class="N" cx="980.0" cy="1240.0" r="6.4"/>
<circle class="N" cx="987.5" cy="1248.8" r="6.4"/>
<circle class="N" cx="966.2" cy="1250.0" r="6.4"/>
<circle class="N" cx="975.0" cy="1252.5" r="6.4"/>
<circle class="N" cx="957.5" cy="1257.5" r="6.4"/>
<circle class="N" cx="980.0" cy="1260.0" r="6.4"/>
<circle class="N" cx="990.0" cy="1257.5" r="6.4"/>
<circle class="N" cx="951.2" cy="1266.2" r="6.4"/>
<circle class="N" cx="962.5" cy="1263.8" r="6.4"/>
<circle class="N" cx="970.0" cy="1267.5" r="6.4"/>
<circle class="N" cx="976.2" cy="1265.0" r="6.4"/>
<circle class="N" cx="950.0" cy="1272.5" r="6.4"/>
<circle class="N" cx="966.2" cy="1272.5" r="6.4"/>
<circle class="N" cx="991.2" cy="1267.5" r="6.4"/>
<circle class="N" cx="997.5" cy="1250.0" r="6.4"/>
<circle class="N" cx="995.0" cy="1280.0" r="6.4"/>
<circle class="N" cx="987.5" cy="1277.5" r="6.4"/>
<circle class="N" cx="906.2" cy="1285.0" r="6.4"/>
<circle class="N" cx="915.0" cy="1285.0" r="6.4"/>
<circle class="N" cx="926.2" cy="1287.5" r="6.4"/>
<circle class="N" cx="961.2" cy="1291.9" r="6.4"/>
<circle class="N" cx="985.0" cy="1292.5" r="6.4"/>
<circle class="N" cx="995.0" cy="1290.0" r="6.4"/>
<circle class="N" cx="1006.2" cy="1290.0" r="6.4"/>
<circle class="N" cx="1025.0" cy="1290.0" r="6.4"/>
<circle class="N" cx="1032.5" cy="1291.2" r="6.4"/>
<circle class="N" cx="893.1" cy="1257.2" r="6.4"/>
<circle class="N" cx="886.5" cy="1294.4" r="6.4"/>
<circle class="N" cx="844.6" cy="1312.0" r="6.4"/>
<circle class="N" cx="886.5" cy="1294.2" r="6.4"/>
<circle class="N" cx="914.9" cy="1305.9" r="6.4"/>
<circle class="N" cx="897.8" cy="1314.9" r="6.4"/>
<circle class="N" cx="905.2" cy="1319.9" r="6.4"/>
<circle class="N" cx="895.9" cy="1323.0" r="6.4"/>
<circle class="N" cx="868.8" cy="1337.8" r="6.4"/>
<circle class="N" cx="884.6" cy="1330.5" r="6.4"/>
<circle class="N" cx="887.8" cy="1335.5" r="6.4"/>
<circle class="N" cx="937.1" cy="1326.1" r="6.4"/>
<circle class="N" cx="951.5" cy="1321.8" r="6.4"/>
<circle class="N" cx="964.0" cy="1323.0" r="6.4"/>
<circle class="N" cx="960.2" cy="1293.0" r="6.4"/>
<circle class="N" cx="974.0" cy="1300.5" r="6.4"/>
<circle class="N" cx="967.8" cy="1306.8" r="6.4"/>
<circle class="N" cx="971.5" cy="1314.2" r="6.4"/>
<circle class="N" cx="980.2" cy="1311.8" r="6.4"/>
<circle class="N" cx="989.0" cy="1305.5" r="6.4"/>
<circle class="N" cx="1002.8" cy="1318.0" r="6.4"/>
<circle class="N" cx="1011.5" cy="1304.2" r="6.4"/>
<circle class="N" cx="1017.8" cy="1315.5" r="6.4"/>
<circle class="N" cx="1024.0" cy="1323.0" r="6.4"/>
<circle class="N" cx="1026.5" cy="1330.5" r="6.4"/>
<circle class="N" cx="1004.0" cy="1345.5" r="6.4"/>
<circle class="N" cx="1017.8" cy="1345.5" r="6.4"/>
<circle class="N" cx="1025.2" cy="1343.0" r="6.4"/>
<circle class="N" cx="1021.5" cy="1358.0" r="6.4"/>
<circle class="N" cx="1029.0" cy="1366.8" r="6.4"/>
<circle class="N" cx="878.8" cy="1372.6" r="6.4"/>
<circle class="N" cx="904.6" cy="1368.0" r="6.4"/>
<circle class="N" cx="914.0" cy="1374.2" r="6.4"/>
<circle class="N" cx="925.9" cy="1363.0" r="6.4"/>
<circle class="N" cx="921.5" cy="1379.2" r="6.4"/>
<circle class="N" cx="932.8" cy="1373.0" r="6.4"/>
<circle class="N" cx="929.0" cy="1386.8" r="6.4"/>
<circle class="N" cx="951.5" cy="1366.8" r="6.4"/>
<circle class="N" cx="952.8" cy="1373.0" r="6.4"/>
<circle class="N" cx="964.0" cy="1370.5" r="6.4"/>
<circle class="N" cx="974.0" cy="1368.0" r="6.4"/>
<circle class="N" cx="979.0" cy="1374.2" r="6.4"/>
<circle class="N" cx="986.5" cy="1363.0" r="6.4"/>
<circle class="N" cx="997.8" cy="1366.8" r="6.4"/>
<circle class="N" cx="1011.5" cy="1368.0" r="6.4"/>
<circle class="N" cx="1014.0" cy="1375.5" r="6.4"/>
<circle class="N" cx="946.5" cy="1383.0" r="6.4"/>
<circle class="N" cx="955.2" cy="1388.0" r="6.4"/>
<circle class="N" cx="966.5" cy="1384.2" r="6.4"/>
<circle class="N" cx="977.8" cy="1383.0" r="6.4"/>
<circle class="N" cx="991.5" cy="1389.2" r="6.4"/>
<circle class="N" cx="1010.9" cy="1389.2" r="6.4"/>
<circle class="N" cx="990.2" cy="1380.5" r="6.4"/>
<circle class="N" cx="909.2" cy="1408.0" r="6.4"/>
<circle class="N" cx="927.8" cy="1405.5" r="6.4"/>
<circle class="N" cx="936.5" cy="1398.0" r="6.4"/>
<circle class="N" cx="949.0" cy="1400.5" r="6.4"/>
<circle class="N" cx="957.8" cy="1399.2" r="6.4"/>
<circle class="N" cx="969.0" cy="1404.2" r="6.4"/>
<circle class="N" cx="972.8" cy="1399.2" r="6.4"/>
<circle class="N" cx="981.5" cy="1406.8" r="6.4"/>
<circle class="N" cx="1001.5" cy="1401.8" r="6.4"/>
<circle class="N" cx="1004.0" cy="1404.2" r="6.4"/>
<circle class="N" cx="1020.2" cy="1409.5" r="6.4"/>
<circle class="N" cx="932.8" cy="1413.0" r="6.4"/>
<circle class="N" cx="942.8" cy="1411.8" r="6.4"/>
<circle class="N" cx="952.8" cy="1410.5" r="6.4"/>
<circle class="N" cx="961.5" cy="1413.0" r="6.4"/>
<circle class="N" cx="970.2" cy="1410.5" r="6.4"/>
<circle class="N" cx="905.0" cy="1424.9" r="6.4"/>
<circle class="N" cx="919.0" cy="1419.2" r="6.4"/>
<circle class="N" cx="919.6" cy="1426.1" r="6.4"/>
<circle class="N" cx="934.0" cy="1423.0" r="6.4"/>
<circle class="N" cx="940.2" cy="1420.5" r="6.4"/>
<circle class="N" cx="949.0" cy="1421.8" r="6.4"/>
<circle class="N" cx="957.8" cy="1423.0" r="6.4"/>
<circle class="N" cx="967.8" cy="1425.5" r="6.4"/>
<circle class="N" cx="974.6" cy="1422.4" r="6.4"/>
<circle class="N" cx="998.6" cy="1419.0" r="6.4"/>
<circle class="N" cx="931.5" cy="1431.8" r="6.4"/>
<circle class="N" cx="940.2" cy="1433.0" r="6.4"/>
<circle class="N" cx="949.0" cy="1431.8" r="6.4"/>
<circle class="N" cx="956.5" cy="1434.2" r="6.4"/>
<circle class="N" cx="920.9" cy="1443.0" r="6.4"/>
<circle class="N" cx="932.8" cy="1441.8" r="6.4"/>
<circle class="N" cx="940.2" cy="1443.0" r="6.4"/>
<circle class="N" cx="949.0" cy="1441.8" r="6.4"/>
<circle class="N" cx="955.2" cy="1444.2" r="6.4"/>
<circle class="N" cx="961.5" cy="1442.4" r="6.4"/>
<circle class="N" cx="936.5" cy="1450.5" r="6.4"/>
<circle class="N" cx="946.5" cy="1450.5" r="6.4"/>
<circle class="N" cx="952.8" cy="1449.2" r="6.4"/>
<circle class="N" cx="1042.5" cy="1301.8" r="6.4"/>
<circle class="N" cx="1030.0" cy="1295.5" r="6.4"/>
<circle class="N" cx="1030.0" cy="1319.2" r="6.4"/>
<circle class="N" cx="1036.2" cy="1326.8" r="6.4"/>
<circle class="N" cx="1053.8" cy="1323.0" r="6.4"/>
<circle class="N" cx="1057.8" cy="1326.1" r="6.4"/>
<circle class="N" cx="1035.0" cy="1338.0" r="6.4"/>
<circle class="N" cx="1070.0" cy="1344.2" r="6.4"/>
<circle class="N" cx="1061.9" cy="1352.4" r="6.4"/>
<circle class="N" cx="1033.8" cy="1360.5" r="6.4"/>
<circle class="N" cx="1030.0" cy="1366.8" r="6.4"/>
<circle class="N" cx="1073.1" cy="1374.2" r="6.4"/>
<circle class="N" cx="837.8" cy="1460.1" r="6.4"/>
<circle class="N" cx="866.5" cy="1460.1" r="6.4"/>
<circle class="N" cx="886.5" cy="1460.1" r="6.4"/>
<circle class="N" cx="890.2" cy="1460.1" r="6.4"/>
<circle class="N" cx="899.0" cy="1460.1" r="6.4"/>
<circle class="N" cx="901.5" cy="1460.1" r="6.4"/>
<circle class="N" cx="920.2" cy="1460.1" r="6.4"/>
<circle class="N" cx="1075.6" cy="1460.1" r="6.4"/>
<circle class="N" cx="1085.6" cy="1460.1" r="6.4"/>
<circle class="N" cx="1111.9" cy="1460.1" r="6.4"/>
<circle class="N" cx="1175.0" cy="1460.1" r="6.4"/>
<circle class="N" cx="1203.1" cy="1460.1" r="6.4"/>
<circle class="N" cx="928.6" cy="1460.1" r="6.4"/>
<circle class="N" cx="931.4" cy="1460.1" r="6.4"/>
<circle class="N" cx="934.2" cy="1460.1" r="6.4"/>
<circle class="N" cx="937.1" cy="1460.1" r="6.4"/>
<circle class="N" cx="939.9" cy="1460.1" r="6.4"/>
<circle class="N" cx="945.1" cy="1460.1" r="6.4"/>
<circle class="N" cx="947.9" cy="1460.1" r="6.4"/>
<circle class="N" cx="950.7" cy="1460.1" r="6.4"/>
<circle class="N" cx="953.6" cy="1460.1" r="6.4"/>
<circle class="N" cx="956.4" cy="1460.1" r="6.4"/>
<circle class="N" cx="959.3" cy="1460.1" r="6.4"/>
<circle class="N" cx="961.4" cy="1460.1" r="6.4"/>
<circle class="N" cx="964.2" cy="1460.1" r="6.4"/>
<circle class="N" cx="967.1" cy="1460.1" r="6.4"/>
<circle class="N" cx="969.9" cy="1460.1" r="6.4"/>
<circle class="N" cx="972.8" cy="1460.1" r="6.4"/>
<circle class="N" cx="975.6" cy="1460.1" r="6.4"/>
<circle class="N" cx="977.7" cy="1460.1" r="6.4"/>
<circle class="N" cx="980.6" cy="1460.1" r="6.4"/>
<circle class="N" cx="983.4" cy="1460.1" r="6.4"/>
<circle class="N" cx="986.3" cy="1460.1" r="6.4"/>
<circle class="N" cx="989.1" cy="1460.1" r="6.4"/>
<circle class="N" cx="994.2" cy="1460.1" r="6.4"/>
<circle class="N" cx="997.1" cy="1460.1" r="6.4"/>
<circle class="N" cx="999.9" cy="1460.1" r="6.4"/>
<circle class="N" cx="1002.8" cy="1460.1" r="6.4"/>
<circle class="N" cx="1005.6" cy="1460.1" r="6.4"/>
<circle class="N" cx="1008.5" cy="1460.1" r="6.4"/>
<circle class="N" cx="1010.6" cy="1460.1" r="6.4"/>
<circle class="N" cx="1013.4" cy="1460.1" r="6.4"/>
<circle class="N" cx="1016.3" cy="1460.1" r="6.4"/>
<circle class="N" cx="1019.1" cy="1460.1" r="6.4"/>
<circle class="N" cx="1022.0" cy="1460.1" r="6.4"/>
<circle class="N" cx="1024.8" cy="1460.1" r="6.4"/>
<circle class="N" cx="1026.9" cy="1460.1" r="6.4"/>
<circle class="N" cx="1029.8" cy="1460.1" r="6.4"/>
<circle class="N" cx="1032.6" cy="1460.1" r="6.4"/>
<circle class="N" cx="1035.5" cy="1460.1" r="6.4"/>
<circle class="N" cx="1041.3" cy="1460.1" r="6.4"/>
<circle class="N" cx="1044.1" cy="1460.1" r="6.4"/>
<circle class="N" cx="1046.3" cy="1460.1" r="6.4"/>
<circle class="N" cx="1049.1" cy="1460.1" r="6.4"/>
<circle class="N" cx="1052.0" cy="1460.1" r="6.4"/>
<circle class="N" cx="1054.8" cy="1460.1" r="6.4"/>
<circle class="N" cx="1057.6" cy="1460.1" r="6.4"/>
<circle class="N" cx="1060.5" cy="1460.1" r="6.4"/>
<circle class="N" cx="1062.6" cy="1460.1" r="6.4"/>
<circle class="N" cx="1065.4" cy="1460.1" r="6.4"/></g>
<g><circle class="P" cx="1037.2" cy="948.1" r="6.4"/>
<circle class="C" cx="1040.8" cy="963.8" r="6.4"/>
<circle class="S" cx="1103.3" cy="993.6" r="6.4"/>
<circle class="P" cx="1077.1" cy="1023.8" r="6.4"/>
<circle class="P" cx="1020.4" cy="1034.8" r="6.4"/>
<circle class="P" cx="1048.8" cy="1036.7" r="6.4"/>
<circle class="G" cx="1038.0" cy="1060.8" r="6.4"/>
<circle class="P" cx="1066.3" cy="1071.3" r="6.4"/>
<circle class="P" cx="1033.9" cy="1075.6" r="6.4"/>
<circle class="S" cx="1053.5" cy="1080.7" r="6.4"/>
<circle class="G" cx="1067.4" cy="1080.7" r="6.4"/>
<circle class="P" cx="1034.8" cy="1084.4" r="6.4"/>
<circle class="C" cx="1041.7" cy="1084.8" r="6.4"/>
<circle class="R" cx="1046.0" cy="1087.2" r="6.4"/>
<circle class="U" cx="1043.2" cy="1085.4" r="6.4"/>
<circle class="P" cx="1032.0" cy="1097.5" r="6.4"/>
<circle class="P" cx="1036.3" cy="1098.5" r="6.4"/>
<circle class="S" cx="1021.0" cy="1119.0" r="6.4"/>
<circle class="P" cx="1041.2" cy="1110.6" r="6.4"/>
<circle class="T" cx="1043.1" cy="1114.4" r="6.4"/>
<circle class="P" cx="1006.6" cy="1135.6" r="6.4"/>
<circle class="S" cx="1019.8" cy="1135.6" r="6.4"/>
<circle class="T" cx="1029.4" cy="1135.6" r="6.4"/>
<circle class="P" cx="1029.8" cy="1144.8" r="6.4"/>
<circle class="P" cx="1059.4" cy="1141.2" r="6.4"/>
<circle class="S" cx="1087.8" cy="1137.8" r="6.4"/>
<circle class="T" cx="1133.4" cy="1128.1" r="6.4"/>
<circle class="G" cx="1109.8" cy="1145.6" r="6.4"/>
<circle class="R" cx="1052.8" cy="1148.8" r="6.4"/>
<circle class="B" cx="1058.5" cy="1156.9" r="6.4"/>
<circle class="P" cx="1068.8" cy="1153.8" r="6.4"/>
<circle class="P" cx="1043.5" cy="1155.6" r="6.4"/>
<circle class="S" cx="1095.0" cy="1155.0" r="6.4"/>
<circle class="P" cx="1005.4" cy="1159.6" r="6.4"/>
<circle class="S" cx="1020.2" cy="1161.9" r="6.4"/>
<circle class="C" cx="1031.2" cy="1161.5" r="6.4"/>
<circle class="S" cx="1056.9" cy="1162.5" r="6.4"/>
<circle class="B" cx="1021.2" cy="1170.0" r="6.4"/>
<circle class="P" cx="1045.6" cy="1170.6" r="6.4"/>
<circle class="P" cx="1070.6" cy="1175.0" r="6.4"/>
<circle class="G" cx="1051.9" cy="1177.5" r="6.4"/>
<circle class="B" cx="1013.5" cy="1179.8" r="6.4"/>
<circle class="S" cx="1026.9" cy="1175.6" r="6.4"/>
<circle class="P" cx="1032.5" cy="1175.6" r="6.4"/>
<circle class="M" cx="1030.0" cy="1175.0" r="6.4"/>
<circle class="P" cx="1025.0" cy="1180.0" r="6.4"/>
<circle class="P" cx="1037.5" cy="1183.8" r="6.4"/>
<circle class="S" cx="1036.2" cy="1189.6" r="6.4"/>
<circle class="P" cx="1043.8" cy="1187.5" r="6.4"/>
<circle class="U" cx="1091.0" cy="1188.1" r="6.4"/>
<circle class="P" cx="1080.6" cy="1193.1" r="6.4"/>
<circle class="T" cx="1105.9" cy="1196.2" r="6.4"/>
<circle class="T" cx="1150.0" cy="1189.0" r="6.4"/>
<circle class="S" cx="1014.4" cy="1197.5" r="6.4"/>
<circle class="G" cx="1011.2" cy="1201.0" r="6.4"/>
<circle class="S" cx="1022.2" cy="1203.8" r="6.4"/>
<circle class="C" cx="1038.5" cy="1198.1" r="6.4"/>
<circle class="P" cx="1046.9" cy="1200.6" r="6.4"/>
<circle class="P" cx="1023.8" cy="1209.4" r="6.4"/>
<circle class="P" cx="1024.8" cy="1211.9" r="6.4"/>
<circle class="P" cx="1070.9" cy="1208.8" r="6.4"/>
<circle class="S" cx="1071.6" cy="1213.1" r="6.4"/>
<circle class="P" cx="1061.6" cy="1214.8" r="6.4"/>
<circle class="S" cx="1008.1" cy="1221.9" r="6.4"/>
<circle class="P" cx="1005.0" cy="1225.0" r="6.4"/>
<circle class="M" cx="1019.8" cy="1228.1" r="6.4"/>
<circle class="S" cx="1030.0" cy="1232.5" r="6.4"/>
<circle class="P" cx="1043.8" cy="1228.1" r="6.4"/>
<circle class="S" cx="1043.8" cy="1228.8" r="6.4"/>
<circle class="g" cx="1054.8" cy="1231.2" r="6.4"/>
<circle class="C" cx="1056.9" cy="1231.9" r="6.4"/>
<circle class="G" cx="1063.8" cy="1236.9" r="6.4"/>
<circle class="G" cx="1003.8" cy="1231.9" r="6.4"/>
<circle class="S" cx="1001.9" cy="1235.0" r="6.4"/>
<circle class="g" cx="1020.0" cy="1236.2" r="6.4"/>
<circle class="G" cx="1030.0" cy="1239.4" r="6.4"/>
<circle class="O" cx="1030.6" cy="1240.6" r="6.4"/>
<circle class="P" cx="1035.0" cy="1241.2" r="6.4"/>
<circle class="G" cx="1048.4" cy="1240.0" r="6.4"/>
<circle class="C" cx="1007.5" cy="1240.0" r="6.4"/>
<circle class="P" cx="1011.2" cy="1243.8" r="6.4"/>
<circle class="P" cx="1025.0" cy="1242.5" r="6.4"/>
<circle class="U" cx="1003.8" cy="1253.8" r="6.4"/>
<circle class="S" cx="1013.1" cy="1252.5" r="6.4"/>
<circle class="V" cx="1025.0" cy="1255.0" r="6.4"/>
<circle class="B" cx="1011.9" cy="1260.0" r="6.4"/>
<circle class="S" cx="1002.2" cy="1260.6" r="6.4"/>
<circle class="B" cx="1031.2" cy="1264.4" r="6.4"/>
<circle class="g" cx="1038.5" cy="1263.1" r="6.4"/>
<circle class="P" cx="1055.6" cy="1258.1" r="6.4"/>
<circle class="R" cx="1050.6" cy="1266.9" r="6.4"/>
<circle class="U" cx="1056.2" cy="1266.9" r="6.4"/>
<circle class="S" cx="1071.0" cy="1265.6" r="6.4"/>
<circle class="P" cx="1012.5" cy="1266.2" r="6.4"/>
<circle class="V" cx="1012.5" cy="1263.8" r="6.4"/>
<circle class="P" cx="1022.5" cy="1271.2" r="6.4"/>
<circle class="V" cx="1023.8" cy="1273.8" r="6.4"/>
<circle class="P" cx="1035.0" cy="1270.0" r="6.4"/>
<circle class="P" cx="1083.1" cy="1274.4" r="6.4"/>
<circle class="T" cx="1081.2" cy="1279.4" r="6.4"/>
<circle class="T" cx="1083.8" cy="1277.5" r="6.4"/>
<circle class="P" cx="1043.8" cy="1279.4" r="6.4"/>
<circle class="S" cx="1013.5" cy="1280.6" r="6.4"/>
<circle class="S" cx="813.1" cy="1234.8" r="6.4"/></g>
<line x1="878.2" x2="878.2" y1="1490.8" y2="815.3" stroke="#000" stroke-width="2.4" stroke-dasharray="32 13.66"/>
<line x1="1001.0" x2="1001.0" y1="1490.8" y2="815.3" stroke="#000" stroke-width="2.4" stroke-dasharray="32 13.66"/>
<line x1="602.0" x2="1277.2" y1="1282.7" y2="1282.7" stroke="#000" stroke-width="2.4" stroke-dasharray="32 13.66"/>
<line x1="999.2" y1="1090.6" x2="986.3" y2="1065.7" stroke="#1a1a1a" stroke-width="2.0"/><path d="M977.1,1047.9 L991.6,1064.0 L981.9,1069.1 Z" fill="#1a1a1a"/>
<rect x="882.0" y="1013.3" width="118.5" height="32.7" rx="4.8" fill="#fff" stroke="#000" stroke-width="2"/>
<text transform="translate(941.2,1038.9) scale(1,1.050)" font-size="28" text-anchor="middle" fill="#000" stroke="#000" stroke-width="0.35">SpoIIIAG</text>
<line x1="1001.3" y1="1235.0" x2="978.3" y2="1203.6" stroke="#1a1a1a" stroke-width="2.0"/><path d="M966.5,1187.5 L983.3,1201.2 L974.5,1207.7 Z" fill="#1a1a1a"/>
<rect x="903.1" y="1156.3" width="75.4" height="30.0" rx="4.8" fill="#fff" stroke="#000" stroke-width="2"/>
<text transform="translate(940.8,1180.6) scale(1,1.050)" font-size="28" text-anchor="middle" fill="#000" stroke="#000" stroke-width="0.35">GerM</text>
<line x1="1013.8" y1="1279.4" x2="1072.0" y2="1253.4" stroke="#1a1a1a" stroke-width="2.0"/><path d="M1090.3,1245.3 L1073.4,1258.9 L1068.9,1248.8 Z" fill="#1a1a1a"/>
<rect x="1090.6" y="1215.0" width="89.4" height="31.9" rx="4.8" fill="#fff" stroke="#000" stroke-width="2"/>
<text transform="translate(1135.3,1239.3) scale(1,1.050)" font-size="28" text-anchor="middle" fill="#000" stroke="#000" stroke-width="0.35">SpoIIP</text>
<line x1="1011.3" y1="1291.5" x2="1066.1" y2="1298.1" stroke="#1a1a1a" stroke-width="2.0"/><path d="M1086.0,1300.5 L1064.5,1303.4 L1065.8,1292.5 Z" fill="#1a1a1a"/>
<rect x="1086.5" y="1288.8" width="120.0" height="31.5" rx="4.8" fill="#fff" stroke="#000" stroke-width="2"/>
<text transform="translate(1146.5,1312.0) scale(1,1.050)" font-size="28" text-anchor="middle" fill="#000" stroke="#000" stroke-width="0.35">SpoIIIAH</text>
<line x1="1009.0" y1="1293.0" x2="998.9" y2="1309.5" stroke="#1a1a1a" stroke-width="2.0"/><path d="M988.4,1326.5 L994.7,1305.7 L1004.1,1311.5 Z" fill="#1a1a1a"/>
<rect x="900.0" y="1327.4" width="95.3" height="31.2" rx="4.8" fill="#fff" stroke="#000" stroke-width="2"/>
<text transform="translate(947.6,1350.8) scale(1,1.050)" font-size="28" text-anchor="middle" fill="#000" stroke="#000" stroke-width="0.35">SpoIIQ</text>
<line x1="1031.9" y1="1359.0" x2="1070.3" y2="1356.4" stroke="#1a1a1a" stroke-width="2.0"/><path d="M1090.3,1355.1 L1069.7,1362.0 L1069.0,1351.0 Z" fill="#1a1a1a"/>
<rect x="1090.6" y="1336.8" width="87.9" height="32.5" rx="4.8" fill="#fff" stroke="#000" stroke-width="2"/>
<text transform="translate(1134.5,1359.9) scale(1,1.050)" font-size="28" text-anchor="middle" fill="#000" stroke="#000" stroke-width="0.35">SpoIIB</text>
<rect x="602.0" y="815.3" width="675.2" height="675.5" fill="none" stroke="#1a1a1a" stroke-width="3.2" stroke-linejoin="round"/>
<line x1="632.5" x2="632.5" y1="1490.8" y2="1498.6" stroke="#1a1a1a" stroke-width="3.8"/>
<text transform="translate(630.5,1522.6) scale(1,1.050)" font-size="28.5" text-anchor="middle">-5.0</text>
<line x1="786.0" x2="786.0" y1="1490.8" y2="1498.6" stroke="#1a1a1a" stroke-width="3.8"/>
<text transform="translate(784.0,1522.6) scale(1,1.050)" font-size="28.5" text-anchor="middle">-2.5</text>
<line x1="939.6" x2="939.6" y1="1490.8" y2="1498.6" stroke="#1a1a1a" stroke-width="3.8"/>
<text transform="translate(939.8,1522.6) scale(1,1.050)" font-size="28" text-anchor="middle">0.0</text>
<line x1="1093.2" x2="1093.2" y1="1490.8" y2="1498.6" stroke="#1a1a1a" stroke-width="3.8"/>
<text transform="translate(1093.4,1522.6) scale(1,1.050)" font-size="28" text-anchor="middle">2.5</text>
<line x1="1246.7" x2="1246.7" y1="1490.8" y2="1498.6" stroke="#1a1a1a" stroke-width="3.8"/>
<text transform="translate(1246.9,1522.6) scale(1,1.050)" font-size="28" text-anchor="middle">5.0</text>
<line x1="593.0" x2="602.0" y1="1460.1" y2="1460.1" stroke="#1a1a1a" stroke-width="3.8"/>
<text transform="translate(587.0,1467.5) scale(1,1.050)" font-size="28" text-anchor="end">0</text>
<line x1="593.0" x2="602.0" y1="1323.6" y2="1323.6" stroke="#1a1a1a" stroke-width="3.8"/>
<text transform="translate(587.0,1331.0) scale(1,1.050)" font-size="28" text-anchor="end">1</text>
<line x1="593.0" x2="602.0" y1="1187.2" y2="1187.2" stroke="#1a1a1a" stroke-width="3.8"/>
<text transform="translate(587.0,1194.6) scale(1,1.050)" font-size="28" text-anchor="end">2</text>
<line x1="593.0" x2="602.0" y1="1050.7" y2="1050.7" stroke="#1a1a1a" stroke-width="3.8"/>
<text transform="translate(587.0,1058.1) scale(1,1.050)" font-size="28" text-anchor="end">3</text>
<line x1="593.0" x2="602.0" y1="914.3" y2="914.3" stroke="#1a1a1a" stroke-width="3.8"/>
<text transform="translate(587.0,921.7) scale(1,1.050)" font-size="28" text-anchor="end">4</text>
<text transform="translate(939.8,1554.5) scale(1,1.050)" font-size="28" text-anchor="middle">Log2FC DSP/D</text>
<text transform="translate(546.9,1153.9) rotate(-90) scale(1,1.050)" font-size="28" text-anchor="middle">-Log10(p-value)</text>
<text transform="translate(613.6,854.5) scale(1,1.050)" font-size="30" font-weight="bold" fill="#000">fr3</text>
</g>
<g id="fr4">
<line x1="1404.1" x2="1404.1" y1="815.3" y2="1490.8" stroke="#ebebeb" stroke-width="4.4"/>
<line x1="1557.7" x2="1557.7" y1="815.3" y2="1490.8" stroke="#ebebeb" stroke-width="4.4"/>
<line x1="1711.2" x2="1711.2" y1="815.3" y2="1490.8" stroke="#ebebeb" stroke-width="4.4"/>
<line x1="1864.8" x2="1864.8" y1="815.3" y2="1490.8" stroke="#ebebeb" stroke-width="4.4"/>
<line x1="2018.3" x2="2018.3" y1="815.3" y2="1490.8" stroke="#ebebeb" stroke-width="4.4"/>
<line x1="1373.6" x2="2048.8" y1="1460.1" y2="1460.1" stroke="#ebebeb" stroke-width="4.4"/>
<line x1="1373.6" x2="2048.8" y1="1323.6" y2="1323.6" stroke="#ebebeb" stroke-width="4.4"/>
<line x1="1373.6" x2="2048.8" y1="1187.2" y2="1187.2" stroke="#ebebeb" stroke-width="4.4"/>
<line x1="1373.6" x2="2048.8" y1="1050.7" y2="1050.7" stroke="#ebebeb" stroke-width="4.4"/>
<line x1="1373.6" x2="2048.8" y1="914.3" y2="914.3" stroke="#ebebeb" stroke-width="4.4"/>
<g><circle class="N" cx="1787.1" cy="1309.2" r="6.4"/>
<circle class="N" cx="1763.6" cy="1296.4" r="6.4"/>
<circle class="N" cx="1716.8" cy="1321.4" r="6.4"/>
<circle class="N" cx="1770.1" cy="1329.3" r="6.4"/>
<circle class="N" cx="1766.3" cy="1296.3" r="6.4"/>
<circle class="N" cx="1793.2" cy="1304.2" r="6.4"/>
<circle class="N" cx="1772.2" cy="1301.6" r="6.4"/>
<circle class="N" cx="1775.7" cy="1343.7" r="6.4"/>
<circle class="N" cx="1763.5" cy="1308.5" r="6.4"/>
<circle class="N" cx="1716.3" cy="1331.6" r="6.4"/>
<circle class="N" cx="1791.8" cy="1327.8" r="6.4"/>
<circle class="N" cx="1746.8" cy="1299.8" r="6.4"/>
<circle class="N" cx="1748.2" cy="1295.0" r="6.4"/>
<circle class="N" cx="1729.8" cy="1313.9" r="6.4"/>
<circle class="N" cx="1735.1" cy="1305.0" r="6.4"/>
<circle class="N" cx="1751.0" cy="1296.9" r="6.4"/>
<circle class="N" cx="1733.7" cy="1320.7" r="6.4"/>
<circle class="N" cx="1732.0" cy="1336.0" r="6.4"/>
<circle class="N" cx="1763.0" cy="1318.0" r="6.4"/>
<circle class="N" cx="1760.3" cy="1326.1" r="6.4"/>
<circle class="N" cx="1713.3" cy="1322.8" r="6.4"/>
<circle class="N" cx="1755.3" cy="1346.0" r="6.4"/>
<circle class="N" cx="1752.2" cy="1340.3" r="6.4"/>
<circle class="N" cx="1732.4" cy="1320.7" r="6.4"/>
<circle class="N" cx="1778.0" cy="1322.1" r="6.4"/>
<circle class="N" cx="1776.2" cy="1310.9" r="6.4"/>
<circle class="N" cx="1770.3" cy="1313.9" r="6.4"/>
<circle class="N" cx="1783.6" cy="1318.2" r="6.4"/>
<circle class="N" cx="1738.1" cy="1321.7" r="6.4"/>
<circle class="N" cx="1768.9" cy="1313.9" r="6.4"/>
<circle class="N" cx="1714.3" cy="1317.2" r="6.4"/>
<circle class="N" cx="1729.1" cy="1296.8" r="6.4"/>
<circle class="N" cx="1756.5" cy="1343.9" r="6.4"/>
<circle class="N" cx="1763.7" cy="1334.5" r="6.4"/>
<circle class="N" cx="1756.1" cy="1300.5" r="6.4"/>
<circle class="N" cx="1725.9" cy="1319.8" r="6.4"/>
<circle class="N" cx="1758.3" cy="1324.8" r="6.4"/>
<circle class="N" cx="1718.7" cy="1309.4" r="6.4"/>
<circle class="N" cx="1742.6" cy="1302.0" r="6.4"/>
<circle class="N" cx="1788.6" cy="1326.3" r="6.4"/>
<circle class="N" cx="1726.7" cy="1320.9" r="6.4"/>
<circle class="N" cx="1753.2" cy="1307.0" r="6.4"/>
<circle class="N" cx="1757.4" cy="1336.7" r="6.4"/>
<circle class="N" cx="1794.7" cy="1315.3" r="6.4"/>
<circle class="N" cx="1726.7" cy="1319.9" r="6.4"/>
<circle class="N" cx="1740.3" cy="1294.4" r="6.4"/>
<circle class="N" cx="1763.3" cy="1330.0" r="6.4"/>
<circle class="N" cx="1754.3" cy="1306.7" r="6.4"/>
<circle class="N" cx="1777.7" cy="1309.6" r="6.4"/>
<circle class="N" cx="1773.3" cy="1298.9" r="6.4"/>
<circle class="N" cx="1703.3" cy="1360.8" r="6.4"/>
<circle class="N" cx="1679.9" cy="1387.2" r="6.4"/>
<circle class="N" cx="1758.6" cy="1350.7" r="6.4"/>
<circle class="N" cx="1706.1" cy="1404.2" r="6.4"/>
<circle class="N" cx="1686.9" cy="1392.6" r="6.4"/>
<circle class="N" cx="1729.6" cy="1364.5" r="6.4"/>
<circle class="N" cx="1748.7" cy="1351.4" r="6.4"/>
<circle class="N" cx="1748.3" cy="1374.2" r="6.4"/>
<circle class="N" cx="1696.5" cy="1392.0" r="6.4"/>
<circle class="N" cx="1691.9" cy="1355.1" r="6.4"/>
<circle class="N" cx="1748.5" cy="1375.5" r="6.4"/>
<circle class="N" cx="1718.1" cy="1377.0" r="6.4"/>
<circle class="N" cx="1707.5" cy="1365.3" r="6.4"/>
<circle class="N" cx="1741.6" cy="1348.8" r="6.4"/>
<circle class="N" cx="1702.8" cy="1346.6" r="6.4"/>
<circle class="N" cx="1705.9" cy="1380.2" r="6.4"/>
<circle class="N" cx="1752.0" cy="1369.8" r="6.4"/>
<circle class="N" cx="1747.9" cy="1341.8" r="6.4"/>
<circle class="N" cx="1699.2" cy="1358.7" r="6.4"/>
<circle class="N" cx="1742.1" cy="1347.9" r="6.4"/>
<circle class="N" cx="1698.0" cy="1369.0" r="6.4"/>
<circle class="N" cx="1673.2" cy="1353.4" r="6.4"/>
<circle class="N" cx="1717.2" cy="1371.8" r="6.4"/>
<circle class="N" cx="1718.8" cy="1393.3" r="6.4"/>
<circle class="N" cx="1687.2" cy="1396.0" r="6.4"/>
<circle class="N" cx="1698.2" cy="1346.5" r="6.4"/>
<circle class="N" cx="1711.4" cy="1367.9" r="6.4"/>
<circle class="N" cx="1681.1" cy="1369.7" r="6.4"/>
<circle class="N" cx="1732.9" cy="1343.9" r="6.4"/>
<circle class="N" cx="1740.5" cy="1344.8" r="6.4"/>
<circle class="N" cx="1739.4" cy="1372.3" r="6.4"/>
<circle class="N" cx="1753.9" cy="1359.0" r="6.4"/>
<circle class="N" cx="1684.1" cy="1381.9" r="6.4"/>
<circle class="N" cx="1715.0" cy="1351.5" r="6.4"/>
<circle class="N" cx="1693.5" cy="1357.2" r="6.4"/>
<circle class="N" cx="1729.9" cy="1362.2" r="6.4"/>
<circle class="N" cx="1751.1" cy="1340.7" r="6.4"/>
<circle class="N" cx="1732.2" cy="1344.9" r="6.4"/>
<circle class="N" cx="1726.2" cy="1347.5" r="6.4"/>
<circle class="N" cx="1733.5" cy="1401.0" r="6.4"/>
<circle class="N" cx="1693.8" cy="1378.5" r="6.4"/>
<circle class="N" cx="1717.7" cy="1359.0" r="6.4"/>
<circle class="N" cx="1737.6" cy="1380.8" r="6.4"/>
<circle class="N" cx="1686.4" cy="1402.4" r="6.4"/>
<circle class="N" cx="1728.8" cy="1365.8" r="6.4"/>
<circle class="N" cx="1682.5" cy="1387.8" r="6.4"/>
<circle class="N" cx="1747.2" cy="1342.8" r="6.4"/>
<circle class="N" cx="1702.3" cy="1341.5" r="6.4"/>
<circle class="N" cx="1739.3" cy="1398.8" r="6.4"/>
<circle class="N" cx="1729.8" cy="1405.0" r="6.4"/>
<circle class="N" cx="1731.7" cy="1398.0" r="6.4"/>
<circle class="N" cx="1729.9" cy="1361.2" r="6.4"/>
<circle class="N" cx="1743.5" cy="1347.1" r="6.4"/>
<circle class="N" cx="1709.2" cy="1401.6" r="6.4"/>
<circle class="N" cx="1735.2" cy="1365.4" r="6.4"/>
<circle class="N" cx="1740.2" cy="1402.2" r="6.4"/>
<circle class="N" cx="1743.7" cy="1387.6" r="6.4"/>
<circle class="N" cx="1733.9" cy="1349.5" r="6.4"/>
<circle class="N" cx="1751.4" cy="1370.3" r="6.4"/>
<circle class="N" cx="1760.8" cy="1363.3" r="6.4"/>
<circle class="N" cx="1700.2" cy="1392.2" r="6.4"/>
<circle class="N" cx="1679.5" cy="1391.7" r="6.4"/>
<circle class="N" cx="1705.1" cy="1383.4" r="6.4"/>
<circle class="N" cx="1713.2" cy="1341.5" r="6.4"/>
<circle class="N" cx="1720.1" cy="1349.6" r="6.4"/>
<circle class="N" cx="1683.3" cy="1343.4" r="6.4"/>
<circle class="N" cx="1736.5" cy="1397.7" r="6.4"/>
<circle class="N" cx="1674.9" cy="1371.4" r="6.4"/>
<circle class="N" cx="1750.2" cy="1349.1" r="6.4"/>
<circle class="N" cx="1681.3" cy="1365.6" r="6.4"/>
<circle class="N" cx="1678.9" cy="1347.3" r="6.4"/>
<circle class="N" cx="1699.2" cy="1362.3" r="6.4"/>
<circle class="N" cx="1735.0" cy="1376.7" r="6.4"/>
<circle class="N" cx="1738.7" cy="1405.2" r="6.4"/>
<circle class="N" cx="1689.3" cy="1400.2" r="6.4"/>
<circle class="N" cx="1700.2" cy="1383.4" r="6.4"/>
<circle class="N" cx="1718.8" cy="1374.6" r="6.4"/>
<circle class="N" cx="1726.6" cy="1366.8" r="6.4"/>
<circle class="N" cx="1727.8" cy="1363.2" r="6.4"/>
<circle class="N" cx="1736.0" cy="1355.5" r="6.4"/>
<circle class="N" cx="1722.4" cy="1448.4" r="6.4"/>
<circle class="N" cx="1699.6" cy="1447.1" r="6.4"/>
<circle class="N" cx="1710.9" cy="1453.4" r="6.4"/>
<circle class="N" cx="1711.4" cy="1450.8" r="6.4"/>
<circle class="N" cx="1714.7" cy="1449.1" r="6.4"/>
<circle class="N" cx="1710.1" cy="1451.8" r="6.4"/>
<circle class="N" cx="1715.0" cy="1452.1" r="6.4"/>
<circle class="N" cx="1714.8" cy="1453.9" r="6.4"/>
<circle class="N" cx="1720.3" cy="1444.6" r="6.4"/>
<circle class="N" cx="1700.2" cy="1453.0" r="6.4"/>
<circle class="N" cx="1718.3" cy="1446.1" r="6.4"/>
<circle class="N" cx="1699.5" cy="1442.0" r="6.4"/>
<circle class="N" cx="1700.9" cy="1449.8" r="6.4"/>
<circle class="N" cx="1724.6" cy="1446.7" r="6.4"/>
<circle class="N" cx="1708.1" cy="1444.1" r="6.4"/>
<circle class="N" cx="1727.6" cy="1450.2" r="6.4"/>
<circle class="N" cx="1730.5" cy="1443.9" r="6.4"/>
<circle class="N" cx="1701.4" cy="1444.7" r="6.4"/>
<circle class="N" cx="1708.2" cy="1441.9" r="6.4"/>
<circle class="N" cx="1729.1" cy="1446.4" r="6.4"/>
<circle class="N" cx="1806.9" cy="1295.6" r="6.4"/>
<circle class="N" cx="1821.9" cy="1326.0" r="6.4"/>
<circle class="N" cx="1800.3" cy="1336.6" r="6.4"/>
<circle class="N" cx="1800.1" cy="1327.2" r="6.4"/>
<circle class="N" cx="1797.8" cy="1313.9" r="6.4"/>
<circle class="N" cx="1795.0" cy="1297.1" r="6.4"/>
<circle class="N" cx="1796.9" cy="1319.4" r="6.4"/>
<circle class="N" cx="1810.2" cy="1301.4" r="6.4"/>
<circle class="N" cx="1820.7" cy="1312.6" r="6.4"/>
<circle class="N" cx="1811.4" cy="1299.8" r="6.4"/>
<circle class="N" cx="1812.1" cy="1301.8" r="6.4"/>
<circle class="N" cx="1816.3" cy="1320.0" r="6.4"/>
<circle class="N" cx="1741.6" cy="1216.5" r="6.4"/>
<circle class="N" cx="1770.9" cy="1265.9" r="6.4"/>
<circle class="N" cx="1753.9" cy="1275.6" r="6.4"/>
<circle class="N" cx="1760.5" cy="1191.1" r="6.4"/>
<circle class="N" cx="1764.3" cy="1223.0" r="6.4"/>
<circle class="N" cx="1768.8" cy="1182.5" r="6.4"/>
<circle class="N" cx="1757.1" cy="1271.1" r="6.4"/>
<circle class="N" cx="1762.7" cy="1186.9" r="6.4"/>
<circle class="N" cx="1744.0" cy="1199.0" r="6.4"/>
<circle class="N" cx="1769.5" cy="1269.4" r="6.4"/>
<circle class="N" cx="1754.1" cy="1278.9" r="6.4"/>
<circle class="N" cx="1731.8" cy="1275.6" r="6.4"/>
<circle class="N" cx="1750.1" cy="1264.6" r="6.4"/>
<circle class="N" cx="1748.8" cy="1213.0" r="6.4"/>
<circle class="N" cx="1761.2" cy="986.3" r="6.4"/>
<circle class="N" cx="1766.4" cy="1037.5" r="6.4"/>
<circle class="N" cx="1766.8" cy="1068.2" r="6.4"/>
<circle class="N" cx="1768.1" cy="1075.7" r="6.4"/>
<circle class="N" cx="1749.8" cy="1078.1" r="6.4"/>
<circle class="N" cx="1760.0" cy="1107.5" r="6.4"/>
<circle class="N" cx="1765.0" cy="1133.1" r="6.4"/>
<circle class="N" cx="1771.9" cy="1158.8" r="6.4"/>
<circle class="N" cx="1755.0" cy="1165.0" r="6.4"/>
<circle class="N" cx="1758.8" cy="1168.8" r="6.4"/>
<circle class="N" cx="1772.2" cy="1175.6" r="6.4"/>
<circle class="N" cx="1701.2" cy="1176.2" r="6.4"/>
<circle class="N" cx="1740.0" cy="1185.0" r="6.4"/>
<circle class="N" cx="1756.2" cy="1190.0" r="6.4"/>
<circle class="N" cx="1767.5" cy="1192.5" r="6.4"/>
<circle class="N" cx="1745.0" cy="1203.8" r="6.4"/>
<circle class="N" cx="1753.8" cy="1201.2" r="6.4"/>
<circle class="N" cx="1758.8" cy="1208.8" r="6.4"/>
<circle class="N" cx="1747.5" cy="1205.0" r="6.4"/>
<circle class="N" cx="1726.2" cy="1216.9" r="6.4"/>
<circle class="N" cx="1733.8" cy="1223.8" r="6.4"/>
<circle class="N" cx="1755.0" cy="1217.5" r="6.4"/>
<circle class="N" cx="1762.5" cy="1225.0" r="6.4"/>
<circle class="N" cx="1743.8" cy="1235.0" r="6.4"/>
<circle class="N" cx="1750.0" cy="1231.2" r="6.4"/>
<circle class="N" cx="1758.8" cy="1237.5" r="6.4"/>
<circle class="N" cx="1765.0" cy="1230.0" r="6.4"/>
<circle class="N" cx="1741.2" cy="1242.5" r="6.4"/>
<circle class="N" cx="1755.0" cy="1245.0" r="6.4"/>
<circle class="N" cx="1762.5" cy="1246.2" r="6.4"/>
<circle class="N" cx="1756.2" cy="1252.5" r="6.4"/>
<circle class="N" cx="1768.8" cy="1252.5" r="6.4"/>
<circle class="N" cx="1742.5" cy="1266.2" r="6.4"/>
<circle class="N" cx="1758.8" cy="1272.5" r="6.4"/>
<circle class="N" cx="1737.5" cy="1273.8" r="6.4"/>
<circle class="N" cx="1747.5" cy="1271.2" r="6.4"/>
<circle class="N" cx="1735.0" cy="1278.8" r="6.4"/>
<circle class="N" cx="1753.8" cy="1280.0" r="6.4"/>
<circle class="N" cx="1766.2" cy="1277.5" r="6.4"/>
<circle class="N" cx="1742.5" cy="1290.0" r="6.4"/>
<circle class="N" cx="1756.2" cy="1292.5" r="6.4"/>
<circle class="N" cx="1775.0" cy="1287.5" r="6.4"/>
<circle class="N" cx="1782.5" cy="1292.5" r="6.4"/>
<circle class="N" cx="1815.0" cy="1290.0" r="6.4"/>
<circle class="N" cx="1822.5" cy="1287.5" r="6.4"/>
<circle class="N" cx="1702.5" cy="1288.8" r="6.4"/>
<circle class="N" cx="1812.5" cy="1292.5" r="6.4"/>
<circle class="N" cx="1659.6" cy="1125.0" r="6.4"/>
<circle class="N" cx="1667.1" cy="1130.0" r="6.4"/>
<circle class="N" cx="1699.0" cy="1176.9" r="6.4"/>
<circle class="N" cx="1684.0" cy="1183.5" r="6.4"/>
<circle class="N" cx="1689.6" cy="1195.6" r="6.4"/>
<circle class="N" cx="1685.9" cy="1203.1" r="6.4"/>
<circle class="N" cx="1676.1" cy="1211.9" r="6.4"/>
<circle class="N" cx="1689.4" cy="1216.6" r="6.4"/>
<circle class="N" cx="1679.6" cy="1233.8" r="6.4"/>
<circle class="N" cx="1691.5" cy="1280.0" r="6.4"/>
<circle class="N" cx="1690.2" cy="1292.5" r="6.4"/>
<circle class="N" cx="1675.2" cy="1306.8" r="6.4"/>
<circle class="N" cx="1690.2" cy="1294.2" r="6.4"/>
<circle class="N" cx="1687.8" cy="1309.2" r="6.4"/>
<circle class="N" cx="1657.8" cy="1321.8" r="6.4"/>
<circle class="N" cx="1672.8" cy="1320.5" r="6.4"/>
<circle class="N" cx="1687.8" cy="1321.8" r="6.4"/>
<circle class="N" cx="1705.2" cy="1316.1" r="6.4"/>
<circle class="N" cx="1716.5" cy="1315.5" r="6.4"/>
<circle class="N" cx="1725.2" cy="1303.0" r="6.4"/>
<circle class="N" cx="1732.8" cy="1300.5" r="6.4"/>
<circle class="N" cx="1739.0" cy="1296.8" r="6.4"/>
<circle class="N" cx="1751.5" cy="1298.0" r="6.4"/>
<circle class="N" cx="1761.5" cy="1300.5" r="6.4"/>
<circle class="N" cx="1767.8" cy="1305.5" r="6.4"/>
<circle class="N" cx="1786.5" cy="1311.8" r="6.4"/>
<circle class="N" cx="1794.0" cy="1300.5" r="6.4"/>
<circle class="N" cx="1720.2" cy="1323.0" r="6.4"/>
<circle class="N" cx="1730.2" cy="1324.2" r="6.4"/>
<circle class="N" cx="1739.0" cy="1318.0" r="6.4"/>
<circle class="N" cx="1749.0" cy="1315.5" r="6.4"/>
<circle class="N" cx="1757.8" cy="1311.8" r="6.4"/>
<circle class="N" cx="1759.0" cy="1323.0" r="6.4"/>
<circle class="N" cx="1749.0" cy="1328.0" r="6.4"/>
<circle class="N" cx="1736.5" cy="1331.8" r="6.4"/>
<circle class="N" cx="1726.5" cy="1333.0" r="6.4"/>
<circle class="N" cx="1769.0" cy="1330.5" r="6.4"/>
<circle class="N" cx="1789.0" cy="1323.0" r="6.4"/>
<circle class="N" cx="1792.8" cy="1339.2" r="6.4"/>
<circle class="N" cx="1775.2" cy="1339.2" r="6.4"/>
<circle class="N" cx="1692.1" cy="1335.5" r="6.4"/>
<circle class="N" cx="1698.4" cy="1336.8" r="6.4"/>
<circle class="N" cx="1720.9" cy="1339.9" r="6.4"/>
<circle class="N" cx="1685.2" cy="1345.5" r="6.4"/>
<circle class="N" cx="1667.8" cy="1351.1" r="6.4"/>
<circle class="N" cx="1681.5" cy="1351.8" r="6.4"/>
<circle class="N" cx="1686.5" cy="1358.0" r="6.4"/>
<circle class="N" cx="1695.2" cy="1351.8" r="6.4"/>
<circle class="N" cx="1707.8" cy="1351.8" r="6.4"/>
<circle class="N" cx="1702.8" cy="1360.5" r="6.4"/>
<circle class="N" cx="1699.0" cy="1364.2" r="6.4"/>
<circle class="N" cx="1685.2" cy="1360.5" r="6.4"/>
<circle class="N" cx="1755.2" cy="1346.8" r="6.4"/>
<circle class="N" cx="1726.5" cy="1353.0" r="6.4"/>
<circle class="N" cx="1735.2" cy="1351.8" r="6.4"/>
<circle class="N" cx="1744.0" cy="1355.5" r="6.4"/>
<circle class="N" cx="1730.2" cy="1360.5" r="6.4"/>
<circle class="N" cx="1739.0" cy="1363.0" r="6.4"/>
<circle class="N" cx="1749.0" cy="1363.0" r="6.4"/>
<circle class="N" cx="1774.0" cy="1356.8" r="6.4"/>
<circle class="N" cx="1785.2" cy="1353.0" r="6.4"/>
<circle class="N" cx="1761.5" cy="1370.5" r="6.4"/>
<circle class="N" cx="1755.2" cy="1374.2" r="6.4"/>
<circle class="N" cx="1717.8" cy="1369.2" r="6.4"/>
<circle class="N" cx="1726.5" cy="1373.0" r="6.4"/>
<circle class="N" cx="1734.0" cy="1370.5" r="6.4"/>
<circle class="N" cx="1695.2" cy="1376.8" r="6.4"/>
<circle class="N" cx="1684.0" cy="1383.0" r="6.4"/>
<circle class="N" cx="1677.8" cy="1389.2" r="6.4"/>
<circle class="N" cx="1658.4" cy="1393.0" r="6.4"/>
<circle class="N" cx="1675.2" cy="1394.2" r="6.4"/>
<circle class="N" cx="1701.5" cy="1386.8" r="6.4"/>
<circle class="N" cx="1707.8" cy="1389.2" r="6.4"/>
<circle class="N" cx="1717.8" cy="1384.2" r="6.4"/>
<circle class="N" cx="1726.5" cy="1388.0" r="6.4"/>
<circle class="N" cx="1736.5" cy="1385.5" r="6.4"/>
<circle class="N" cx="1744.0" cy="1380.5" r="6.4"/>
<circle class="N" cx="1691.5" cy="1399.2" r="6.4"/>
<circle class="N" cx="1701.5" cy="1396.8" r="6.4"/>
<circle class="N" cx="1711.5" cy="1399.2" r="6.4"/>
<circle class="N" cx="1721.5" cy="1395.5" r="6.4"/>
<circle class="N" cx="1731.5" cy="1399.2" r="6.4"/>
<circle class="N" cx="1741.5" cy="1396.8" r="6.4"/>
<circle class="N" cx="1751.5" cy="1401.8" r="6.4"/>
<circle class="N" cx="1766.5" cy="1395.5" r="6.4"/>
<circle class="N" cx="1762.8" cy="1401.8" r="6.4"/>
<circle class="N" cx="1774.0" cy="1403.0" r="6.4"/>
<circle class="N" cx="1782.8" cy="1400.5" r="6.4"/>
<circle class="N" cx="1762.8" cy="1413.0" r="6.4"/>
<circle class="N" cx="1770.2" cy="1415.5" r="6.4"/>
<circle class="N" cx="1784.0" cy="1399.2" r="6.4"/>
<circle class="N" cx="1706.5" cy="1444.2" r="6.4"/>
<circle class="N" cx="1714.0" cy="1446.8" r="6.4"/>
<circle class="N" cx="1722.8" cy="1445.5" r="6.4"/>
<circle class="N" cx="1727.8" cy="1443.0" r="6.4"/>
<circle class="N" cx="1815.0" cy="1294.2" r="6.4"/>
<circle class="N" cx="1795.0" cy="1301.8" r="6.4"/>
<circle class="N" cx="1805.6" cy="1304.9" r="6.4"/>
<circle class="N" cx="1811.2" cy="1314.2" r="6.4"/>
<circle class="N" cx="1802.5" cy="1320.5" r="6.4"/>
<circle class="N" cx="1804.4" cy="1330.5" r="6.4"/>
<circle class="N" cx="1810.0" cy="1333.0" r="6.4"/>
<circle class="N" cx="1821.9" cy="1330.5" r="6.4"/>
<circle class="N" cx="1795.0" cy="1338.0" r="6.4"/>
<circle class="N" cx="1800.0" cy="1379.2" r="6.4"/>
<circle class="N" cx="1799.4" cy="1386.1" r="6.4"/>
<circle class="N" cx="1574.6" cy="1460.1" r="6.4"/>
<circle class="N" cx="1584.0" cy="1460.1" r="6.4"/>
<circle class="N" cx="1646.5" cy="1460.1" r="6.4"/>
<circle class="N" cx="1660.2" cy="1460.1" r="6.4"/>
<circle class="N" cx="1665.2" cy="1460.1" r="6.4"/>
<circle class="N" cx="1669.0" cy="1460.1" r="6.4"/>
<circle class="N" cx="1871.2" cy="1460.1" r="6.4"/>
<circle class="N" cx="1883.8" cy="1460.1" r="6.4"/>
<circle class="N" cx="1893.1" cy="1460.1" r="6.4"/>
<circle class="N" cx="1908.1" cy="1460.1" r="6.4"/>
<circle class="N" cx="1675.3" cy="1460.1" r="6.4"/>
<circle class="N" cx="1677.4" cy="1460.1" r="6.4"/>
<circle class="N" cx="1680.3" cy="1460.1" r="6.4"/>
<circle class="N" cx="1683.1" cy="1460.1" r="6.4"/>
<circle class="N" cx="1689.0" cy="1460.1" r="6.4"/>
<circle class="N" cx="1691.8" cy="1460.1" r="6.4"/>
<circle class="N" cx="1694.7" cy="1460.1" r="6.4"/>
<circle class="N" cx="1696.8" cy="1460.1" r="6.4"/>
<circle class="N" cx="1699.6" cy="1460.1" r="6.4"/>
<circle class="N" cx="1702.5" cy="1460.1" r="6.4"/>
<circle class="N" cx="1705.3" cy="1460.1" r="6.4"/>
<circle class="N" cx="1708.2" cy="1460.1" r="6.4"/>
<circle class="N" cx="1711.0" cy="1460.1" r="6.4"/>
<circle class="N" cx="1713.1" cy="1460.1" r="6.4"/>
<circle class="N" cx="1716.0" cy="1460.1" r="6.4"/>
<circle class="N" cx="1718.8" cy="1460.1" r="6.4"/>
<circle class="N" cx="1721.7" cy="1460.1" r="6.4"/>
<circle class="N" cx="1724.5" cy="1460.1" r="6.4"/>
<circle class="N" cx="1727.3" cy="1460.1" r="6.4"/>
<circle class="N" cx="1732.5" cy="1460.1" r="6.4"/>
<circle class="N" cx="1735.3" cy="1460.1" r="6.4"/>
<circle class="N" cx="1738.1" cy="1460.1" r="6.4"/>
<circle class="N" cx="1741.0" cy="1460.1" r="6.4"/>
<circle class="N" cx="1743.8" cy="1460.1" r="6.4"/>
<circle class="N" cx="1746.7" cy="1460.1" r="6.4"/>
<circle class="N" cx="1748.8" cy="1460.1" r="6.4"/>
<circle class="N" cx="1751.6" cy="1460.1" r="6.4"/>
<circle class="N" cx="1754.5" cy="1460.1" r="6.4"/>
<circle class="N" cx="1757.3" cy="1460.1" r="6.4"/>
<circle class="N" cx="1760.2" cy="1460.1" r="6.4"/>
<circle class="N" cx="1763.0" cy="1460.1" r="6.4"/>
<circle class="N" cx="1765.1" cy="1460.1" r="6.4"/>
<circle class="N" cx="1768.0" cy="1460.1" r="6.4"/>
<circle class="N" cx="1770.8" cy="1460.1" r="6.4"/>
<circle class="N" cx="1773.7" cy="1460.1" r="6.4"/>
<circle class="N" cx="1776.5" cy="1460.1" r="6.4"/>
<circle class="N" cx="1781.6" cy="1460.1" r="6.4"/>
<circle class="N" cx="1784.5" cy="1460.1" r="6.4"/>
<circle class="N" cx="1787.3" cy="1460.1" r="6.4"/>
<circle class="N" cx="1790.2" cy="1460.1" r="6.4"/>
<circle class="N" cx="1793.0" cy="1460.1" r="6.4"/>
<circle class="N" cx="1795.9" cy="1460.1" r="6.4"/>
<circle class="N" cx="1798.0" cy="1460.1" r="6.4"/>
<circle class="N" cx="1800.8" cy="1460.1" r="6.4"/>
<circle class="N" cx="1803.7" cy="1460.1" r="6.4"/>
<circle class="N" cx="1806.5" cy="1460.1" r="6.4"/>
<circle class="N" cx="1809.4" cy="1460.1" r="6.4"/>
<circle class="N" cx="1812.2" cy="1460.1" r="6.4"/>
<circle class="N" cx="1814.3" cy="1460.1" r="6.4"/>
<circle class="N" cx="1817.2" cy="1460.1" r="6.4"/>
<circle class="N" cx="1820.0" cy="1460.1" r="6.4"/>
<circle class="N" cx="1822.9" cy="1460.1" r="6.4"/>
<circle class="N" cx="1825.7" cy="1460.1" r="6.4"/>
<circle class="N" cx="1828.5" cy="1460.1" r="6.4"/>
<circle class="N" cx="1833.7" cy="1460.1" r="6.4"/>
<circle class="N" cx="1836.5" cy="1460.1" r="6.4"/>
<circle class="N" cx="1839.4" cy="1460.1" r="6.4"/>
<circle class="N" cx="1842.2" cy="1460.1" r="6.4"/>
<circle class="N" cx="1845.0" cy="1460.1" r="6.4"/>
<circle class="N" cx="1847.9" cy="1460.1" r="6.4"/>
<circle class="N" cx="1850.0" cy="1460.1" r="6.4"/></g>
<g><circle class="S" cx="1777.1" cy="918.8" r="6.4"/>
<circle class="C" cx="1774.1" cy="924.6" r="6.4"/>
<circle class="S" cx="1773.2" cy="1008.4" r="6.4"/>
<circle class="C" cx="1796.0" cy="1040.1" r="6.4"/>
<circle class="G" cx="1855.5" cy="1046.8" r="6.4"/>
<circle class="P" cx="1816.0" cy="1062.9" r="6.4"/>
<circle class="V" cx="1786.8" cy="1083.5" r="6.4"/>
<circle class="P" cx="1799.7" cy="1095.9" r="6.4"/>
<circle class="U" cx="1988.3" cy="1192.3" r="6.4"/>
<circle class="S" cx="1858.1" cy="1119.8" r="6.4"/>
<circle class="U" cx="1843.8" cy="1124.8" r="6.4"/>
<circle class="T" cx="1887.1" cy="1138.5" r="6.4"/>
<circle class="T" cx="1882.5" cy="1141.2" r="6.4"/>
<circle class="T" cx="1789.1" cy="1139.8" r="6.4"/>
<circle class="T" cx="1818.4" cy="1141.2" r="6.4"/>
<circle class="P" cx="1819.4" cy="1144.8" r="6.4"/>
<circle class="P" cx="1773.8" cy="1145.6" r="6.4"/>
<circle class="U" cx="1793.8" cy="1155.0" r="6.4"/>
<circle class="P" cx="1791.2" cy="1156.2" r="6.4"/>
<circle class="P" cx="1778.1" cy="1160.6" r="6.4"/>
<circle class="P" cx="1804.4" cy="1161.9" r="6.4"/>
<circle class="C" cx="1790.9" cy="1166.6" r="6.4"/>
<circle class="g" cx="1807.1" cy="1166.6" r="6.4"/>
<circle class="P" cx="1810.0" cy="1175.0" r="6.4"/>
<circle class="C" cx="1847.1" cy="1172.2" r="6.4"/>
<circle class="S" cx="1827.5" cy="1181.5" r="6.4"/>
<circle class="C" cx="1800.6" cy="1180.0" r="6.4"/>
<circle class="B" cx="1806.6" cy="1180.0" r="6.4"/>
<circle class="P" cx="1792.5" cy="1181.2" r="6.4"/>
<circle class="P" cx="1785.6" cy="1183.1" r="6.4"/>
<circle class="S" cx="1779.4" cy="1189.4" r="6.4"/>
<circle class="R" cx="1796.9" cy="1190.6" r="6.4"/>
<circle class="O" cx="1793.1" cy="1191.2" r="6.4"/>
<circle class="G" cx="1787.5" cy="1194.4" r="6.4"/>
<circle class="P" cx="1790.0" cy="1197.5" r="6.4"/>
<circle class="g" cx="1786.2" cy="1202.5" r="6.4"/>
<circle class="P" cx="1808.8" cy="1199.4" r="6.4"/>
<circle class="P" cx="1811.9" cy="1204.4" r="6.4"/>
<circle class="G" cx="1834.0" cy="1206.2" r="6.4"/>
<circle class="B" cx="1773.1" cy="1206.9" r="6.4"/>
<circle class="U" cx="1791.9" cy="1211.2" r="6.4"/>
<circle class="S" cx="1787.5" cy="1205.0" r="6.4"/>
<circle class="R" cx="1781.9" cy="1213.1" r="6.4"/>
<circle class="M" cx="1780.0" cy="1202.5" r="6.4"/>
<circle class="T" cx="1775.6" cy="1220.0" r="6.4"/>
<circle class="G" cx="1792.5" cy="1230.0" r="6.4"/>
<circle class="G" cx="1786.2" cy="1235.0" r="6.4"/>
<circle class="T" cx="1810.6" cy="1230.0" r="6.4"/>
<circle class="T" cx="1822.9" cy="1235.0" r="6.4"/>
<circle class="T" cx="1856.0" cy="1233.8" r="6.4"/>
<circle class="P" cx="1777.5" cy="1240.0" r="6.4"/>
<circle class="P" cx="1787.5" cy="1241.2" r="6.4"/>
<circle class="P" cx="1795.0" cy="1242.5" r="6.4"/>
<circle class="g" cx="1806.9" cy="1241.9" r="6.4"/>
<circle class="G" cx="1807.5" cy="1241.2" r="6.4"/>
<circle class="P" cx="1812.5" cy="1248.8" r="6.4"/>
<circle class="P" cx="1822.2" cy="1247.5" r="6.4"/>
<circle class="S" cx="1797.5" cy="1248.8" r="6.4"/>
<circle class="P" cx="1786.2" cy="1248.8" r="6.4"/>
<circle class="S" cx="1837.1" cy="1248.1" r="6.4"/>
<circle class="S" cx="1869.1" cy="1255.4" r="6.4"/>
<circle class="S" cx="1818.8" cy="1264.4" r="6.4"/>
<circle class="S" cx="1786.9" cy="1260.6" r="6.4"/>
<circle class="G" cx="1792.5" cy="1263.1" r="6.4"/>
<circle class="P" cx="1802.5" cy="1261.2" r="6.4"/>
<circle class="P" cx="1797.5" cy="1271.2" r="6.4"/>
<circle class="T" cx="1772.5" cy="1268.8" r="6.4"/>
<circle class="U" cx="1780.6" cy="1267.5" r="6.4"/>
<circle class="S" cx="1786.2" cy="1275.0" r="6.4"/>
<circle class="P" cx="1781.2" cy="1276.2" r="6.4"/>
<circle class="U" cx="1800.0" cy="1280.6" r="6.4"/>
<circle class="U" cx="1800.0" cy="1280.6" r="6.4"/>
<circle class="P" cx="1776.2" cy="1282.5" r="6.4"/>
<circle class="O" cx="1573.8" cy="1148.8" r="6.4"/>
<circle class="G" cx="1636.2" cy="1153.2" r="6.4"/>
<circle class="B" cx="1626.9" cy="1214.1" r="6.4"/>
<circle class="S" cx="1594.6" cy="1247.5" r="6.4"/></g>
<line x1="1649.8" x2="1649.8" y1="1490.8" y2="815.3" stroke="#000" stroke-width="2.4" stroke-dasharray="32 13.66"/>
<line x1="1772.6" x2="1772.6" y1="1490.8" y2="815.3" stroke="#000" stroke-width="2.4" stroke-dasharray="32 13.66"/>
<line x1="1373.6" x2="2048.8" y1="1282.7" y2="1282.7" stroke="#000" stroke-width="2.4" stroke-dasharray="32 13.66"/>
<line x1="1757.3" y1="1188.8" x2="1726.7" y2="1130.2" stroke="#1a1a1a" stroke-width="2.0"/><path d="M1717.5,1112.5 L1732.1,1128.6 L1722.3,1133.7 Z" fill="#1a1a1a"/>
<rect x="1657.1" y="1080.3" width="94.3" height="31.0" rx="4.8" fill="#fff" stroke="#000" stroke-width="2"/>
<text transform="translate(1704.2,1103.7) scale(1,1.050)" font-size="28" text-anchor="middle" fill="#000" stroke="#000" stroke-width="0.35">SpoIIQ</text>
<line x1="1770.6" y1="1242.5" x2="1850.6" y2="1223.2" stroke="#1a1a1a" stroke-width="2.0"/><path d="M1870.0,1218.5 L1850.9,1228.8 L1848.3,1218.1 Z" fill="#1a1a1a"/>
<rect x="1871.0" y="1201.9" width="119.0" height="31.9" rx="4.8" fill="#fff" stroke="#000" stroke-width="2"/>
<text transform="translate(1930.5,1225.5) scale(1,1.050)" font-size="28" text-anchor="middle" fill="#000" stroke="#000" stroke-width="0.35">SpoIIIAH</text>
<line x1="1754.6" y1="1213.5" x2="1746.0" y2="1221.4" stroke="#1a1a1a" stroke-width="2.0"/><path d="M1731.3,1235.0 L1743.0,1216.7 L1750.5,1224.8 Z" fill="#1a1a1a"/>
<rect x="1617.1" y="1236.3" width="119.4" height="33.1" rx="4.8" fill="#fff" stroke="#000" stroke-width="2"/>
<text transform="translate(1676.8,1261.3) scale(1,1.050)" font-size="28" text-anchor="middle" fill="#000" stroke="#000" stroke-width="0.35">SpoIIIAG</text>
<line x1="1740.6" y1="1289.4" x2="1647.9" y2="1321.0" stroke="#1a1a1a" stroke-width="2.0"/><path d="M1629.0,1327.4 L1647.1,1315.4 L1650.7,1325.8 Z" fill="#1a1a1a"/>
<rect x="1552.5" y="1312.8" width="75.9" height="30.2" rx="4.8" fill="#fff" stroke="#000" stroke-width="2"/>
<text transform="translate(1590.5,1337.4) scale(1,1.050)" font-size="28" text-anchor="middle" fill="#000" stroke="#000" stroke-width="0.35">GerM</text>
<line x1="1771.5" y1="1367.8" x2="1810.5" y2="1358.5" stroke="#1a1a1a" stroke-width="2.0"/><path d="M1830.0,1353.9 L1810.8,1364.1 L1808.3,1353.4 Z" fill="#1a1a1a"/>
<rect x="1830.4" y="1336.4" width="88.7" height="32.2" rx="4.8" fill="#fff" stroke="#000" stroke-width="2"/>
<text transform="translate(1874.8,1359.3) scale(1,1.050)" font-size="28" text-anchor="middle" fill="#000" stroke="#000" stroke-width="0.35">SpoIIB</text>
<line x1="1763.4" y1="1371.1" x2="1752.6" y2="1388.5" stroke="#1a1a1a" stroke-width="2.0"/><path d="M1742.1,1405.5 L1748.5,1384.8 L1757.8,1390.5 Z" fill="#1a1a1a"/>
<rect x="1658.0" y="1406.8" width="92.3" height="32.5" rx="4.8" fill="#fff" stroke="#000" stroke-width="2"/>
<text transform="translate(1704.2,1431.8) scale(1,1.050)" font-size="28" text-anchor="middle" fill="#000" stroke="#000" stroke-width="0.35">SpoIIP</text>
<rect x="1373.6" y="815.3" width="675.2" height="675.5" fill="none" stroke="#1a1a1a" stroke-width="3.2" stroke-linejoin="round"/>
<line x1="1404.1" x2="1404.1" y1="1490.8" y2="1498.6" stroke="#1a1a1a" stroke-width="3.8"/>
<text transform="translate(1402.1,1522.6) scale(1,1.050)" font-size="28.5" text-anchor="middle">-5.0</text>
<line x1="1557.7" x2="1557.7" y1="1490.8" y2="1498.6" stroke="#1a1a1a" stroke-width="3.8"/>
<text transform="translate(1555.7,1522.6) scale(1,1.050)" font-size="28.5" text-anchor="middle">-2.5</text>
<line x1="1711.2" x2="1711.2" y1="1490.8" y2="1498.6" stroke="#1a1a1a" stroke-width="3.8"/>
<text transform="translate(1711.4,1522.6) scale(1,1.050)" font-size="28" text-anchor="middle">0.0</text>
<line x1="1864.8" x2="1864.8" y1="1490.8" y2="1498.6" stroke="#1a1a1a" stroke-width="3.8"/>
<text transform="translate(1865.0,1522.6) scale(1,1.050)" font-size="28" text-anchor="middle">2.5</text>
<line x1="2018.3" x2="2018.3" y1="1490.8" y2="1498.6" stroke="#1a1a1a" stroke-width="3.8"/>
<text transform="translate(2018.5,1522.6) scale(1,1.050)" font-size="28" text-anchor="middle">5.0</text>
<line x1="1364.6" x2="1373.6" y1="1460.1" y2="1460.1" stroke="#1a1a1a" stroke-width="3.8"/>
<text transform="translate(1358.6,1467.5) scale(1,1.050)" font-size="28" text-anchor="end">0</text>
<line x1="1364.6" x2="1373.6" y1="1323.6" y2="1323.6" stroke="#1a1a1a" stroke-width="3.8"/>
<text transform="translate(1358.6,1331.0) scale(1,1.050)" font-size="28" text-anchor="end">1</text>
<line x1="1364.6" x2="1373.6" y1="1187.2" y2="1187.2" stroke="#1a1a1a" stroke-width="3.8"/>
<text transform="translate(1358.6,1194.6) scale(1,1.050)" font-size="28" text-anchor="end">2</text>
<line x1="1364.6" x2="1373.6" y1="1050.7" y2="1050.7" stroke="#1a1a1a" stroke-width="3.8"/>
<text transform="translate(1358.6,1058.1) scale(1,1.050)" font-size="28" text-anchor="end">3</text>
<line x1="1364.6" x2="1373.6" y1="914.3" y2="914.3" stroke="#1a1a1a" stroke-width="3.8"/>
<text transform="translate(1358.6,921.7) scale(1,1.050)" font-size="28" text-anchor="end">4</text>
<text transform="translate(1711.4,1554.5) scale(1,1.050)" font-size="28" text-anchor="middle">Log2FC DSP/D</text>
<text transform="translate(1318.5,1153.9) rotate(-90) scale(1,1.050)" font-size="28" text-anchor="middle">-Log10(p-value)</text>
<text transform="translate(1385.2,854.5) scale(1,1.050)" font-size="30" font-weight="bold" fill="#000">fr4</text>
</g>
</svg>
</body></html>
